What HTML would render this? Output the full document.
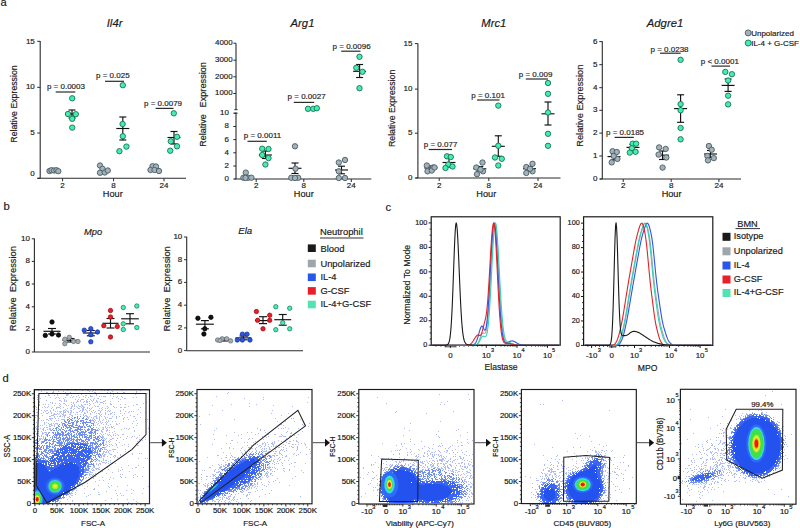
<!DOCTYPE html>
<html><head><meta charset="utf-8"><title>Figure</title>
<style>html,body{margin:0;padding:0;background:#fff;}body{width:800px;height:528px;overflow:hidden;}svg{display:block;}</style>
</head><body>
<svg width="800" height="528" viewBox="0 0 800 528" font-family="'Liberation Sans', Arial, Helvetica, sans-serif">
<style>text{stroke:#1a1a1a;stroke-width:0.18px;}</style>
<rect width="800" height="528" fill="#fff"/>
<text x="0.60" y="5.90" font-size="11.20" text-anchor="start" fill="#1a1a1a">a</text>
<text x="114.60" y="26.90" font-size="11.30" text-anchor="middle" fill="#1a1a1a" font-style="italic">Il4r</text>
<text transform="translate(13.40 104.00) rotate(-90)" x="0" y="3.15" font-size="8.75" text-anchor="middle" fill="#1a1a1a">Relative Expression</text>
<line x1="40.20" y1="41.00" x2="40.20" y2="178.30" stroke="#2a2a2a" stroke-width="1.10"/>
<line x1="37.50" y1="178.30" x2="186.00" y2="178.30" stroke="#2a2a2a" stroke-width="1.10"/>
<line x1="37.20" y1="41.30" x2="40.20" y2="41.30" stroke="#2a2a2a" stroke-width="1.00"/>
<text x="34.80" y="43.78" font-size="8.00" text-anchor="end" fill="#1a1a1a">15</text>
<line x1="37.20" y1="87.30" x2="40.20" y2="87.30" stroke="#2a2a2a" stroke-width="1.00"/>
<text x="34.80" y="89.28" font-size="8.00" text-anchor="end" fill="#1a1a1a">10</text>
<line x1="37.20" y1="133.00" x2="40.20" y2="133.00" stroke="#2a2a2a" stroke-width="1.00"/>
<text x="34.80" y="134.98" font-size="8.00" text-anchor="end" fill="#1a1a1a">5</text>
<line x1="37.20" y1="178.30" x2="40.20" y2="178.30" stroke="#2a2a2a" stroke-width="1.00"/>
<text x="34.80" y="175.78" font-size="8.00" text-anchor="end" fill="#1a1a1a">0</text>
<line x1="62.60" y1="178.30" x2="62.60" y2="181.30" stroke="#2a2a2a" stroke-width="1.00"/>
<text x="62.60" y="187.60" font-size="8.00" text-anchor="middle" fill="#1a1a1a">2</text>
<line x1="113.60" y1="178.30" x2="113.60" y2="181.30" stroke="#2a2a2a" stroke-width="1.00"/>
<text x="113.60" y="187.60" font-size="8.00" text-anchor="middle" fill="#1a1a1a">8</text>
<line x1="164.00" y1="178.30" x2="164.00" y2="181.30" stroke="#2a2a2a" stroke-width="1.00"/>
<text x="164.00" y="187.60" font-size="8.00" text-anchor="middle" fill="#1a1a1a">24</text>
<text x="112.80" y="196.80" font-size="9.20" text-anchor="middle" fill="#1a1a1a">Hour</text>
<circle cx="49.50" cy="171.00" r="2.70" fill="#a2b2ba" stroke="#45555d" stroke-width="0.85"/>
<circle cx="51.50" cy="170.20" r="2.70" fill="#a2b2ba" stroke="#45555d" stroke-width="0.85"/>
<circle cx="54.00" cy="170.50" r="2.70" fill="#a2b2ba" stroke="#45555d" stroke-width="0.85"/>
<circle cx="56.50" cy="170.20" r="2.70" fill="#a2b2ba" stroke="#45555d" stroke-width="0.85"/>
<circle cx="58.30" cy="171.20" r="2.70" fill="#a2b2ba" stroke="#45555d" stroke-width="0.85"/>
<circle cx="100.00" cy="165.50" r="2.70" fill="#a2b2ba" stroke="#45555d" stroke-width="0.85"/>
<circle cx="102.50" cy="168.80" r="2.70" fill="#a2b2ba" stroke="#45555d" stroke-width="0.85"/>
<circle cx="100.00" cy="172.80" r="2.70" fill="#a2b2ba" stroke="#45555d" stroke-width="0.85"/>
<circle cx="104.80" cy="172.50" r="2.70" fill="#a2b2ba" stroke="#45555d" stroke-width="0.85"/>
<circle cx="107.80" cy="170.50" r="2.70" fill="#a2b2ba" stroke="#45555d" stroke-width="0.85"/>
<circle cx="152.50" cy="166.20" r="2.70" fill="#a2b2ba" stroke="#45555d" stroke-width="0.85"/>
<circle cx="156.00" cy="166.50" r="2.70" fill="#a2b2ba" stroke="#45555d" stroke-width="0.85"/>
<circle cx="150.50" cy="170.00" r="2.70" fill="#a2b2ba" stroke="#45555d" stroke-width="0.85"/>
<circle cx="154.50" cy="170.00" r="2.70" fill="#a2b2ba" stroke="#45555d" stroke-width="0.85"/>
<circle cx="159.00" cy="171.00" r="2.70" fill="#a2b2ba" stroke="#45555d" stroke-width="0.85"/>
<line x1="65.50" y1="114.00" x2="78.50" y2="114.00" stroke="#111111" stroke-width="1.15"/>
<line x1="72.00" y1="110.00" x2="72.00" y2="118.00" stroke="#111111" stroke-width="1.15"/>
<line x1="68.50" y1="110.00" x2="75.50" y2="110.00" stroke="#111111" stroke-width="1.15"/>
<line x1="68.50" y1="118.00" x2="75.50" y2="118.00" stroke="#111111" stroke-width="1.15"/>
<circle cx="72.20" cy="98.30" r="2.70" fill="#44eeb2" stroke="#176a4c" stroke-width="0.85"/>
<circle cx="68.00" cy="114.00" r="2.70" fill="#44eeb2" stroke="#176a4c" stroke-width="0.85"/>
<circle cx="75.80" cy="114.20" r="2.70" fill="#44eeb2" stroke="#176a4c" stroke-width="0.85"/>
<circle cx="72.20" cy="118.80" r="2.70" fill="#44eeb2" stroke="#176a4c" stroke-width="0.85"/>
<circle cx="72.20" cy="127.60" r="2.70" fill="#44eeb2" stroke="#176a4c" stroke-width="0.85"/>
<line x1="116.30" y1="128.50" x2="129.30" y2="128.50" stroke="#111111" stroke-width="1.15"/>
<line x1="122.80" y1="117.00" x2="122.80" y2="140.00" stroke="#111111" stroke-width="1.15"/>
<line x1="119.30" y1="117.00" x2="126.30" y2="117.00" stroke="#111111" stroke-width="1.15"/>
<line x1="119.30" y1="140.00" x2="126.30" y2="140.00" stroke="#111111" stroke-width="1.15"/>
<circle cx="122.80" cy="85.20" r="2.70" fill="#44eeb2" stroke="#176a4c" stroke-width="0.85"/>
<circle cx="122.60" cy="124.00" r="2.70" fill="#44eeb2" stroke="#176a4c" stroke-width="0.85"/>
<circle cx="122.80" cy="136.20" r="2.70" fill="#44eeb2" stroke="#176a4c" stroke-width="0.85"/>
<circle cx="126.40" cy="146.60" r="2.70" fill="#44eeb2" stroke="#176a4c" stroke-width="0.85"/>
<circle cx="119.40" cy="151.20" r="2.70" fill="#44eeb2" stroke="#176a4c" stroke-width="0.85"/>
<line x1="167.50" y1="137.50" x2="180.50" y2="137.50" stroke="#111111" stroke-width="1.15"/>
<line x1="174.00" y1="131.50" x2="174.00" y2="144.00" stroke="#111111" stroke-width="1.15"/>
<line x1="170.50" y1="131.50" x2="177.50" y2="131.50" stroke="#111111" stroke-width="1.15"/>
<line x1="170.50" y1="144.00" x2="177.50" y2="144.00" stroke="#111111" stroke-width="1.15"/>
<circle cx="173.80" cy="113.30" r="2.70" fill="#44eeb2" stroke="#176a4c" stroke-width="0.85"/>
<circle cx="177.00" cy="136.80" r="2.70" fill="#44eeb2" stroke="#176a4c" stroke-width="0.85"/>
<circle cx="170.80" cy="141.30" r="2.70" fill="#44eeb2" stroke="#176a4c" stroke-width="0.85"/>
<circle cx="177.00" cy="146.30" r="2.70" fill="#44eeb2" stroke="#176a4c" stroke-width="0.85"/>
<circle cx="170.20" cy="150.70" r="2.70" fill="#44eeb2" stroke="#176a4c" stroke-width="0.85"/>
<text x="46.90" y="88.90" font-size="8.00" text-anchor="start" fill="#2a2a2a">p = 0.0003</text>
<line x1="55.70" y1="92.00" x2="75.30" y2="92.00" stroke="#2a2a2a" stroke-width="1.20"/>
<text x="96.00" y="78.20" font-size="8.00" text-anchor="start" fill="#2a2a2a">p = 0.025</text>
<line x1="105.00" y1="81.30" x2="124.00" y2="81.30" stroke="#2a2a2a" stroke-width="1.20"/>
<text x="144.00" y="105.60" font-size="8.00" text-anchor="start" fill="#2a2a2a">p = 0.0079</text>
<line x1="155.60" y1="108.40" x2="173.50" y2="108.40" stroke="#2a2a2a" stroke-width="1.20"/>
<text x="302.50" y="26.90" font-size="11.30" text-anchor="middle" fill="#1a1a1a" font-style="italic">Arg1</text>
<text transform="translate(203.00 84.75) rotate(-90)" x="0" y="3.31" font-size="9.20" text-anchor="middle" fill="#1a1a1a">Expression</text>
<text transform="translate(203.00 130.60) rotate(-90)" x="0" y="3.24" font-size="9.00" text-anchor="middle" fill="#1a1a1a">Relative</text>
<line x1="236.00" y1="43.20" x2="236.00" y2="109.60" stroke="#2a2a2a" stroke-width="1.10"/>
<line x1="234.30" y1="109.70" x2="237.60" y2="109.70" stroke="#2a2a2a" stroke-width="1.00"/>
<line x1="234.30" y1="113.20" x2="237.60" y2="113.20" stroke="#2a2a2a" stroke-width="1.00"/>
<line x1="236.00" y1="112.60" x2="236.00" y2="179.00" stroke="#2a2a2a" stroke-width="1.10"/>
<line x1="234.50" y1="179.00" x2="371.30" y2="179.00" stroke="#2a2a2a" stroke-width="1.10"/>
<line x1="233.40" y1="43.20" x2="236.00" y2="43.20" stroke="#2a2a2a" stroke-width="1.00"/>
<text x="232.60" y="45.14" font-size="7.90" text-anchor="end" fill="#1a1a1a">4000</text>
<line x1="233.40" y1="60.20" x2="236.00" y2="60.20" stroke="#2a2a2a" stroke-width="1.00"/>
<text x="232.60" y="62.14" font-size="7.90" text-anchor="end" fill="#1a1a1a">3000</text>
<line x1="233.40" y1="76.80" x2="236.00" y2="76.80" stroke="#2a2a2a" stroke-width="1.00"/>
<text x="232.60" y="78.74" font-size="7.90" text-anchor="end" fill="#1a1a1a">2000</text>
<line x1="233.40" y1="93.50" x2="236.00" y2="93.50" stroke="#2a2a2a" stroke-width="1.00"/>
<text x="232.60" y="95.44" font-size="7.90" text-anchor="end" fill="#1a1a1a">1000</text>
<line x1="233.30" y1="113.20" x2="236.00" y2="113.20" stroke="#2a2a2a" stroke-width="1.00"/>
<text x="228.80" y="115.14" font-size="7.90" text-anchor="end" fill="#1a1a1a">10</text>
<line x1="233.30" y1="126.50" x2="236.00" y2="126.50" stroke="#2a2a2a" stroke-width="1.00"/>
<text x="228.80" y="128.44" font-size="7.90" text-anchor="end" fill="#1a1a1a">8</text>
<line x1="233.30" y1="139.60" x2="236.00" y2="139.60" stroke="#2a2a2a" stroke-width="1.00"/>
<text x="228.80" y="141.54" font-size="7.90" text-anchor="end" fill="#1a1a1a">6</text>
<line x1="233.30" y1="152.80" x2="236.00" y2="152.80" stroke="#2a2a2a" stroke-width="1.00"/>
<text x="228.80" y="154.74" font-size="7.90" text-anchor="end" fill="#1a1a1a">4</text>
<line x1="233.30" y1="166.00" x2="236.00" y2="166.00" stroke="#2a2a2a" stroke-width="1.00"/>
<text x="228.80" y="167.94" font-size="7.90" text-anchor="end" fill="#1a1a1a">2</text>
<line x1="233.30" y1="179.00" x2="236.00" y2="179.00" stroke="#2a2a2a" stroke-width="1.00"/>
<text x="228.80" y="180.94" font-size="7.90" text-anchor="end" fill="#1a1a1a">0</text>
<line x1="256.20" y1="179.00" x2="256.20" y2="182.00" stroke="#2a2a2a" stroke-width="1.00"/>
<text x="256.20" y="187.60" font-size="8.00" text-anchor="middle" fill="#1a1a1a">2</text>
<line x1="303.80" y1="179.00" x2="303.80" y2="182.00" stroke="#2a2a2a" stroke-width="1.00"/>
<text x="303.80" y="187.60" font-size="8.00" text-anchor="middle" fill="#1a1a1a">8</text>
<line x1="351.30" y1="179.00" x2="351.30" y2="182.00" stroke="#2a2a2a" stroke-width="1.00"/>
<text x="351.30" y="187.60" font-size="8.00" text-anchor="middle" fill="#1a1a1a">24</text>
<text x="303.80" y="196.80" font-size="9.20" text-anchor="middle" fill="#1a1a1a">Hour</text>
<circle cx="245.80" cy="172.60" r="2.70" fill="#a2b2ba" stroke="#45555d" stroke-width="0.85"/>
<circle cx="243.40" cy="177.70" r="2.70" fill="#a2b2ba" stroke="#45555d" stroke-width="0.85"/>
<circle cx="248.00" cy="177.70" r="2.70" fill="#a2b2ba" stroke="#45555d" stroke-width="0.85"/>
<circle cx="251.40" cy="177.70" r="2.70" fill="#a2b2ba" stroke="#45555d" stroke-width="0.85"/>
<circle cx="245.50" cy="177.90" r="2.70" fill="#a2b2ba" stroke="#45555d" stroke-width="0.85"/>
<line x1="288.50" y1="168.30" x2="301.50" y2="168.30" stroke="#111111" stroke-width="1.15"/>
<line x1="295.00" y1="163.00" x2="295.00" y2="173.50" stroke="#111111" stroke-width="1.15"/>
<line x1="291.50" y1="163.00" x2="298.50" y2="163.00" stroke="#111111" stroke-width="1.15"/>
<line x1="291.50" y1="173.50" x2="298.50" y2="173.50" stroke="#111111" stroke-width="1.15"/>
<circle cx="295.00" cy="146.30" r="2.70" fill="#a2b2ba" stroke="#45555d" stroke-width="0.85"/>
<circle cx="295.50" cy="168.70" r="2.70" fill="#a2b2ba" stroke="#45555d" stroke-width="0.85"/>
<circle cx="291.30" cy="177.80" r="2.70" fill="#a2b2ba" stroke="#45555d" stroke-width="0.85"/>
<circle cx="298.20" cy="177.80" r="2.70" fill="#a2b2ba" stroke="#45555d" stroke-width="0.85"/>
<circle cx="295.00" cy="178.00" r="2.70" fill="#a2b2ba" stroke="#45555d" stroke-width="0.85"/>
<line x1="335.00" y1="170.00" x2="348.00" y2="170.00" stroke="#111111" stroke-width="1.15"/>
<line x1="341.50" y1="166.20" x2="341.50" y2="173.80" stroke="#111111" stroke-width="1.15"/>
<line x1="338.00" y1="166.20" x2="345.00" y2="166.20" stroke="#111111" stroke-width="1.15"/>
<line x1="338.00" y1="173.80" x2="345.00" y2="173.80" stroke="#111111" stroke-width="1.15"/>
<circle cx="338.80" cy="162.50" r="2.70" fill="#a2b2ba" stroke="#45555d" stroke-width="0.85"/>
<circle cx="345.00" cy="160.00" r="2.70" fill="#a2b2ba" stroke="#45555d" stroke-width="0.85"/>
<circle cx="338.80" cy="171.30" r="2.70" fill="#a2b2ba" stroke="#45555d" stroke-width="0.85"/>
<circle cx="338.80" cy="178.00" r="2.70" fill="#a2b2ba" stroke="#45555d" stroke-width="0.85"/>
<circle cx="345.00" cy="178.00" r="2.70" fill="#a2b2ba" stroke="#45555d" stroke-width="0.85"/>
<line x1="258.90" y1="155.00" x2="271.90" y2="155.00" stroke="#111111" stroke-width="1.15"/>
<line x1="265.40" y1="151.00" x2="265.40" y2="158.50" stroke="#111111" stroke-width="1.15"/>
<line x1="261.90" y1="151.00" x2="268.90" y2="151.00" stroke="#111111" stroke-width="1.15"/>
<line x1="261.90" y1="158.50" x2="268.90" y2="158.50" stroke="#111111" stroke-width="1.15"/>
<circle cx="262.20" cy="148.70" r="2.70" fill="#44eeb2" stroke="#176a4c" stroke-width="0.85"/>
<circle cx="268.50" cy="149.00" r="2.70" fill="#44eeb2" stroke="#176a4c" stroke-width="0.85"/>
<circle cx="262.20" cy="155.00" r="2.70" fill="#44eeb2" stroke="#176a4c" stroke-width="0.85"/>
<circle cx="268.50" cy="158.10" r="2.70" fill="#44eeb2" stroke="#176a4c" stroke-width="0.85"/>
<circle cx="265.40" cy="164.50" r="2.70" fill="#44eeb2" stroke="#176a4c" stroke-width="0.85"/>
<circle cx="308.00" cy="108.80" r="2.70" fill="#44eeb2" stroke="#176a4c" stroke-width="0.85"/>
<circle cx="313.20" cy="108.80" r="2.70" fill="#44eeb2" stroke="#176a4c" stroke-width="0.85"/>
<circle cx="316.80" cy="108.20" r="2.70" fill="#44eeb2" stroke="#176a4c" stroke-width="0.85"/>
<line x1="353.10" y1="71.30" x2="366.10" y2="71.30" stroke="#111111" stroke-width="1.15"/>
<line x1="359.60" y1="64.50" x2="359.60" y2="77.50" stroke="#111111" stroke-width="1.15"/>
<line x1="356.10" y1="64.50" x2="363.10" y2="64.50" stroke="#111111" stroke-width="1.15"/>
<line x1="356.10" y1="77.50" x2="363.10" y2="77.50" stroke="#111111" stroke-width="1.15"/>
<circle cx="359.50" cy="56.80" r="2.70" fill="#44eeb2" stroke="#176a4c" stroke-width="0.85"/>
<circle cx="356.30" cy="67.80" r="2.70" fill="#44eeb2" stroke="#176a4c" stroke-width="0.85"/>
<circle cx="362.50" cy="71.80" r="2.70" fill="#44eeb2" stroke="#176a4c" stroke-width="0.85"/>
<circle cx="359.50" cy="88.20" r="2.70" fill="#44eeb2" stroke="#176a4c" stroke-width="0.85"/>
<text x="243.80" y="137.70" font-size="8.00" text-anchor="start" fill="#2a2a2a">p = 0.0011</text>
<line x1="247.50" y1="141.30" x2="266.80" y2="141.30" stroke="#2a2a2a" stroke-width="1.20"/>
<text x="287.60" y="98.60" font-size="8.00" text-anchor="start" fill="#2a2a2a">p = 0.0027</text>
<line x1="293.80" y1="102.40" x2="314.20" y2="102.40" stroke="#2a2a2a" stroke-width="1.20"/>
<text x="332.60" y="49.10" font-size="8.00" text-anchor="start" fill="#2a2a2a">p = 0.0096</text>
<line x1="341.20" y1="51.20" x2="360.50" y2="51.20" stroke="#2a2a2a" stroke-width="1.20"/>
<text x="493.80" y="26.90" font-size="11.30" text-anchor="middle" fill="#1a1a1a" font-style="italic">Mrc1</text>
<text transform="translate(391.80 108.40) rotate(-90)" x="0" y="3.15" font-size="8.75" text-anchor="middle" fill="#1a1a1a">Relative Expression</text>
<line x1="417.90" y1="43.40" x2="417.90" y2="178.00" stroke="#2a2a2a" stroke-width="1.10"/>
<line x1="415.50" y1="178.00" x2="560.50" y2="178.00" stroke="#2a2a2a" stroke-width="1.10"/>
<line x1="414.90" y1="43.60" x2="417.90" y2="43.60" stroke="#2a2a2a" stroke-width="1.00"/>
<text x="412.50" y="45.58" font-size="8.00" text-anchor="end" fill="#1a1a1a">15</text>
<line x1="414.90" y1="89.10" x2="417.90" y2="89.10" stroke="#2a2a2a" stroke-width="1.00"/>
<text x="412.50" y="91.08" font-size="8.00" text-anchor="end" fill="#1a1a1a">10</text>
<line x1="414.90" y1="133.20" x2="417.90" y2="133.20" stroke="#2a2a2a" stroke-width="1.00"/>
<text x="412.50" y="135.18" font-size="8.00" text-anchor="end" fill="#1a1a1a">5</text>
<line x1="414.90" y1="178.00" x2="417.90" y2="178.00" stroke="#2a2a2a" stroke-width="1.00"/>
<text x="412.50" y="179.58" font-size="8.00" text-anchor="end" fill="#1a1a1a">0</text>
<line x1="439.20" y1="178.00" x2="439.20" y2="181.00" stroke="#2a2a2a" stroke-width="1.00"/>
<text x="439.20" y="187.60" font-size="8.00" text-anchor="middle" fill="#1a1a1a">2</text>
<line x1="488.80" y1="178.00" x2="488.80" y2="181.00" stroke="#2a2a2a" stroke-width="1.00"/>
<text x="488.80" y="187.60" font-size="8.00" text-anchor="middle" fill="#1a1a1a">8</text>
<line x1="538.00" y1="178.00" x2="538.00" y2="181.00" stroke="#2a2a2a" stroke-width="1.00"/>
<text x="538.00" y="187.60" font-size="8.00" text-anchor="middle" fill="#1a1a1a">24</text>
<text x="486.30" y="196.80" font-size="9.20" text-anchor="middle" fill="#1a1a1a">Hour</text>
<line x1="424.30" y1="168.00" x2="437.30" y2="168.00" stroke="#111111" stroke-width="1.15"/>
<line x1="430.80" y1="166.00" x2="430.80" y2="170.00" stroke="#111111" stroke-width="1.15"/>
<line x1="427.30" y1="166.00" x2="434.30" y2="166.00" stroke="#111111" stroke-width="1.15"/>
<line x1="427.30" y1="170.00" x2="434.30" y2="170.00" stroke="#111111" stroke-width="1.15"/>
<circle cx="426.80" cy="165.50" r="2.70" fill="#a2b2ba" stroke="#45555d" stroke-width="0.85"/>
<circle cx="433.00" cy="167.50" r="2.70" fill="#a2b2ba" stroke="#45555d" stroke-width="0.85"/>
<circle cx="427.50" cy="171.30" r="2.70" fill="#a2b2ba" stroke="#45555d" stroke-width="0.85"/>
<circle cx="431.80" cy="170.50" r="2.70" fill="#a2b2ba" stroke="#45555d" stroke-width="0.85"/>
<circle cx="434.60" cy="167.50" r="2.70" fill="#a2b2ba" stroke="#45555d" stroke-width="0.85"/>
<line x1="473.30" y1="168.80" x2="486.30" y2="168.80" stroke="#111111" stroke-width="1.15"/>
<line x1="479.80" y1="166.50" x2="479.80" y2="171.00" stroke="#111111" stroke-width="1.15"/>
<line x1="476.30" y1="166.50" x2="483.30" y2="166.50" stroke="#111111" stroke-width="1.15"/>
<line x1="476.30" y1="171.00" x2="483.30" y2="171.00" stroke="#111111" stroke-width="1.15"/>
<circle cx="476.30" cy="167.50" r="2.70" fill="#a2b2ba" stroke="#45555d" stroke-width="0.85"/>
<circle cx="482.50" cy="162.50" r="2.70" fill="#a2b2ba" stroke="#45555d" stroke-width="0.85"/>
<circle cx="477.00" cy="174.20" r="2.70" fill="#a2b2ba" stroke="#45555d" stroke-width="0.85"/>
<circle cx="483.00" cy="171.30" r="2.70" fill="#a2b2ba" stroke="#45555d" stroke-width="0.85"/>
<circle cx="480.50" cy="169.50" r="2.70" fill="#a2b2ba" stroke="#45555d" stroke-width="0.85"/>
<line x1="523.00" y1="168.70" x2="536.00" y2="168.70" stroke="#111111" stroke-width="1.15"/>
<line x1="529.50" y1="166.50" x2="529.50" y2="171.00" stroke="#111111" stroke-width="1.15"/>
<line x1="526.00" y1="166.50" x2="533.00" y2="166.50" stroke="#111111" stroke-width="1.15"/>
<line x1="526.00" y1="171.00" x2="533.00" y2="171.00" stroke="#111111" stroke-width="1.15"/>
<circle cx="526.30" cy="167.00" r="2.70" fill="#a2b2ba" stroke="#45555d" stroke-width="0.85"/>
<circle cx="532.50" cy="163.80" r="2.70" fill="#a2b2ba" stroke="#45555d" stroke-width="0.85"/>
<circle cx="526.30" cy="173.00" r="2.70" fill="#a2b2ba" stroke="#45555d" stroke-width="0.85"/>
<circle cx="532.50" cy="171.30" r="2.70" fill="#a2b2ba" stroke="#45555d" stroke-width="0.85"/>
<circle cx="530.00" cy="168.80" r="2.70" fill="#a2b2ba" stroke="#45555d" stroke-width="0.85"/>
<line x1="442.50" y1="162.50" x2="455.50" y2="162.50" stroke="#111111" stroke-width="1.15"/>
<line x1="449.00" y1="158.00" x2="449.00" y2="167.00" stroke="#111111" stroke-width="1.15"/>
<line x1="445.50" y1="158.00" x2="452.50" y2="158.00" stroke="#111111" stroke-width="1.15"/>
<line x1="445.50" y1="167.00" x2="452.50" y2="167.00" stroke="#111111" stroke-width="1.15"/>
<circle cx="447.00" cy="156.30" r="2.70" fill="#44eeb2" stroke="#176a4c" stroke-width="0.85"/>
<circle cx="450.80" cy="157.00" r="2.70" fill="#44eeb2" stroke="#176a4c" stroke-width="0.85"/>
<circle cx="448.30" cy="164.50" r="2.70" fill="#44eeb2" stroke="#176a4c" stroke-width="0.85"/>
<circle cx="445.50" cy="168.00" r="2.70" fill="#44eeb2" stroke="#176a4c" stroke-width="0.85"/>
<circle cx="452.50" cy="166.50" r="2.70" fill="#44eeb2" stroke="#176a4c" stroke-width="0.85"/>
<line x1="491.80" y1="146.30" x2="504.80" y2="146.30" stroke="#111111" stroke-width="1.15"/>
<line x1="498.30" y1="135.80" x2="498.30" y2="156.30" stroke="#111111" stroke-width="1.15"/>
<line x1="494.80" y1="135.80" x2="501.80" y2="135.80" stroke="#111111" stroke-width="1.15"/>
<line x1="494.80" y1="156.30" x2="501.80" y2="156.30" stroke="#111111" stroke-width="1.15"/>
<circle cx="498.30" cy="105.60" r="2.70" fill="#44eeb2" stroke="#176a4c" stroke-width="0.85"/>
<circle cx="498.30" cy="145.80" r="2.70" fill="#44eeb2" stroke="#176a4c" stroke-width="0.85"/>
<circle cx="495.00" cy="157.50" r="2.70" fill="#44eeb2" stroke="#176a4c" stroke-width="0.85"/>
<circle cx="501.80" cy="158.80" r="2.70" fill="#44eeb2" stroke="#176a4c" stroke-width="0.85"/>
<circle cx="498.30" cy="165.50" r="2.70" fill="#44eeb2" stroke="#176a4c" stroke-width="0.85"/>
<line x1="541.50" y1="113.80" x2="554.50" y2="113.80" stroke="#111111" stroke-width="1.15"/>
<line x1="548.00" y1="102.00" x2="548.00" y2="125.00" stroke="#111111" stroke-width="1.15"/>
<line x1="544.50" y1="102.00" x2="551.50" y2="102.00" stroke="#111111" stroke-width="1.15"/>
<line x1="544.50" y1="125.00" x2="551.50" y2="125.00" stroke="#111111" stroke-width="1.15"/>
<circle cx="548.00" cy="83.00" r="2.70" fill="#44eeb2" stroke="#176a4c" stroke-width="0.85"/>
<circle cx="548.00" cy="93.80" r="2.70" fill="#44eeb2" stroke="#176a4c" stroke-width="0.85"/>
<circle cx="548.00" cy="112.50" r="2.70" fill="#44eeb2" stroke="#176a4c" stroke-width="0.85"/>
<circle cx="548.00" cy="133.80" r="2.70" fill="#44eeb2" stroke="#176a4c" stroke-width="0.85"/>
<circle cx="548.00" cy="145.80" r="2.70" fill="#44eeb2" stroke="#176a4c" stroke-width="0.85"/>
<text x="423.80" y="147.40" font-size="8.00" text-anchor="start" fill="#2a2a2a">p = 0.077</text>
<line x1="428.80" y1="149.50" x2="452.00" y2="149.50" stroke="#2a2a2a" stroke-width="1.20"/>
<text x="471.30" y="97.90" font-size="8.00" text-anchor="start" fill="#2a2a2a">p = 0.101</text>
<line x1="477.00" y1="100.00" x2="499.50" y2="100.00" stroke="#2a2a2a" stroke-width="1.20"/>
<text x="518.80" y="76.90" font-size="8.00" text-anchor="start" fill="#2a2a2a">p = 0.009</text>
<line x1="525.80" y1="79.00" x2="548.00" y2="79.00" stroke="#2a2a2a" stroke-width="1.20"/>
<text x="665.00" y="26.90" font-size="11.30" text-anchor="middle" fill="#1a1a1a" font-style="italic">Adgre1</text>
<text transform="translate(579.80 105.70) rotate(-90)" x="0" y="3.35" font-size="9.30" text-anchor="middle" fill="#1a1a1a">Relative Expression</text>
<line x1="602.30" y1="41.30" x2="602.30" y2="179.00" stroke="#2a2a2a" stroke-width="1.10"/>
<line x1="600.00" y1="179.00" x2="741.00" y2="179.00" stroke="#2a2a2a" stroke-width="1.10"/>
<line x1="599.30" y1="41.60" x2="602.30" y2="41.60" stroke="#2a2a2a" stroke-width="1.00"/>
<text x="597.50" y="43.58" font-size="8.00" text-anchor="end" fill="#1a1a1a">6</text>
<line x1="599.30" y1="64.70" x2="602.30" y2="64.70" stroke="#2a2a2a" stroke-width="1.00"/>
<text x="597.50" y="66.68" font-size="8.00" text-anchor="end" fill="#1a1a1a">5</text>
<line x1="599.30" y1="87.70" x2="602.30" y2="87.70" stroke="#2a2a2a" stroke-width="1.00"/>
<text x="597.50" y="89.68" font-size="8.00" text-anchor="end" fill="#1a1a1a">4</text>
<line x1="599.30" y1="110.30" x2="602.30" y2="110.30" stroke="#2a2a2a" stroke-width="1.00"/>
<text x="597.50" y="112.28" font-size="8.00" text-anchor="end" fill="#1a1a1a">3</text>
<line x1="599.30" y1="133.10" x2="602.30" y2="133.10" stroke="#2a2a2a" stroke-width="1.00"/>
<text x="597.50" y="135.08" font-size="8.00" text-anchor="end" fill="#1a1a1a">2</text>
<line x1="599.30" y1="156.00" x2="602.30" y2="156.00" stroke="#2a2a2a" stroke-width="1.00"/>
<text x="597.50" y="157.98" font-size="8.00" text-anchor="end" fill="#1a1a1a">1</text>
<line x1="599.30" y1="179.00" x2="602.30" y2="179.00" stroke="#2a2a2a" stroke-width="1.00"/>
<text x="597.50" y="180.58" font-size="8.00" text-anchor="end" fill="#1a1a1a">0</text>
<line x1="623.20" y1="179.00" x2="623.20" y2="182.00" stroke="#2a2a2a" stroke-width="1.00"/>
<text x="623.20" y="188.40" font-size="8.00" text-anchor="middle" fill="#1a1a1a">2</text>
<line x1="671.20" y1="179.00" x2="671.20" y2="182.00" stroke="#2a2a2a" stroke-width="1.00"/>
<text x="671.20" y="188.40" font-size="8.00" text-anchor="middle" fill="#1a1a1a">8</text>
<line x1="718.90" y1="179.00" x2="718.90" y2="182.00" stroke="#2a2a2a" stroke-width="1.00"/>
<text x="718.90" y="188.40" font-size="8.00" text-anchor="middle" fill="#1a1a1a">24</text>
<text x="671.60" y="196.80" font-size="9.20" text-anchor="middle" fill="#1a1a1a">Hour</text>
<line x1="607.50" y1="156.60" x2="620.50" y2="156.60" stroke="#111111" stroke-width="1.15"/>
<line x1="614.00" y1="153.00" x2="614.00" y2="160.00" stroke="#111111" stroke-width="1.15"/>
<line x1="610.50" y1="153.00" x2="617.50" y2="153.00" stroke="#111111" stroke-width="1.15"/>
<line x1="610.50" y1="160.00" x2="617.50" y2="160.00" stroke="#111111" stroke-width="1.15"/>
<circle cx="612.60" cy="151.20" r="2.70" fill="#a2b2ba" stroke="#45555d" stroke-width="0.85"/>
<circle cx="616.80" cy="152.00" r="2.70" fill="#a2b2ba" stroke="#45555d" stroke-width="0.85"/>
<circle cx="611.70" cy="162.40" r="2.70" fill="#a2b2ba" stroke="#45555d" stroke-width="0.85"/>
<circle cx="617.40" cy="158.90" r="2.70" fill="#a2b2ba" stroke="#45555d" stroke-width="0.85"/>
<circle cx="613.70" cy="156.00" r="2.70" fill="#a2b2ba" stroke="#45555d" stroke-width="0.85"/>
<line x1="656.00" y1="155.20" x2="669.00" y2="155.20" stroke="#111111" stroke-width="1.15"/>
<line x1="662.50" y1="151.00" x2="662.50" y2="159.50" stroke="#111111" stroke-width="1.15"/>
<line x1="659.00" y1="151.00" x2="666.00" y2="151.00" stroke="#111111" stroke-width="1.15"/>
<line x1="659.00" y1="159.50" x2="666.00" y2="159.50" stroke="#111111" stroke-width="1.15"/>
<circle cx="659.10" cy="147.40" r="2.70" fill="#a2b2ba" stroke="#45555d" stroke-width="0.85"/>
<circle cx="665.70" cy="148.90" r="2.70" fill="#a2b2ba" stroke="#45555d" stroke-width="0.85"/>
<circle cx="658.60" cy="154.60" r="2.70" fill="#a2b2ba" stroke="#45555d" stroke-width="0.85"/>
<circle cx="666.30" cy="157.50" r="2.70" fill="#a2b2ba" stroke="#45555d" stroke-width="0.85"/>
<circle cx="662.60" cy="167.60" r="2.70" fill="#a2b2ba" stroke="#45555d" stroke-width="0.85"/>
<line x1="704.00" y1="154.00" x2="717.00" y2="154.00" stroke="#111111" stroke-width="1.15"/>
<line x1="710.50" y1="150.50" x2="710.50" y2="157.50" stroke="#111111" stroke-width="1.15"/>
<line x1="707.00" y1="150.50" x2="714.00" y2="150.50" stroke="#111111" stroke-width="1.15"/>
<line x1="707.00" y1="157.50" x2="714.00" y2="157.50" stroke="#111111" stroke-width="1.15"/>
<circle cx="708.90" cy="146.00" r="2.70" fill="#a2b2ba" stroke="#45555d" stroke-width="0.85"/>
<circle cx="711.70" cy="149.70" r="2.70" fill="#a2b2ba" stroke="#45555d" stroke-width="0.85"/>
<circle cx="707.40" cy="156.00" r="2.70" fill="#a2b2ba" stroke="#45555d" stroke-width="0.85"/>
<circle cx="713.80" cy="158.10" r="2.70" fill="#a2b2ba" stroke="#45555d" stroke-width="0.85"/>
<circle cx="708.00" cy="160.40" r="2.70" fill="#a2b2ba" stroke="#45555d" stroke-width="0.85"/>
<line x1="626.50" y1="147.40" x2="639.50" y2="147.40" stroke="#111111" stroke-width="1.15"/>
<line x1="633.00" y1="144.50" x2="633.00" y2="150.50" stroke="#111111" stroke-width="1.15"/>
<line x1="629.50" y1="144.50" x2="636.50" y2="144.50" stroke="#111111" stroke-width="1.15"/>
<line x1="629.50" y1="150.50" x2="636.50" y2="150.50" stroke="#111111" stroke-width="1.15"/>
<circle cx="632.70" cy="143.70" r="2.70" fill="#44eeb2" stroke="#176a4c" stroke-width="0.85"/>
<circle cx="636.10" cy="143.70" r="2.70" fill="#44eeb2" stroke="#176a4c" stroke-width="0.85"/>
<circle cx="631.80" cy="148.30" r="2.70" fill="#44eeb2" stroke="#176a4c" stroke-width="0.85"/>
<circle cx="629.80" cy="152.60" r="2.70" fill="#44eeb2" stroke="#176a4c" stroke-width="0.85"/>
<circle cx="635.60" cy="151.80" r="2.70" fill="#44eeb2" stroke="#176a4c" stroke-width="0.85"/>
<line x1="674.10" y1="108.60" x2="687.10" y2="108.60" stroke="#111111" stroke-width="1.15"/>
<line x1="680.60" y1="94.80" x2="680.60" y2="122.30" stroke="#111111" stroke-width="1.15"/>
<line x1="677.10" y1="94.80" x2="684.10" y2="94.80" stroke="#111111" stroke-width="1.15"/>
<line x1="677.10" y1="122.30" x2="684.10" y2="122.30" stroke="#111111" stroke-width="1.15"/>
<circle cx="680.60" cy="59.80" r="2.70" fill="#44eeb2" stroke="#176a4c" stroke-width="0.85"/>
<circle cx="680.60" cy="104.10" r="2.70" fill="#44eeb2" stroke="#176a4c" stroke-width="0.85"/>
<circle cx="680.60" cy="110.20" r="2.70" fill="#44eeb2" stroke="#176a4c" stroke-width="0.85"/>
<circle cx="680.60" cy="128.00" r="2.70" fill="#44eeb2" stroke="#176a4c" stroke-width="0.85"/>
<circle cx="680.60" cy="139.30" r="2.70" fill="#44eeb2" stroke="#176a4c" stroke-width="0.85"/>
<line x1="721.60" y1="85.40" x2="734.60" y2="85.40" stroke="#111111" stroke-width="1.15"/>
<line x1="728.10" y1="79.00" x2="728.10" y2="91.40" stroke="#111111" stroke-width="1.15"/>
<line x1="724.60" y1="79.00" x2="731.60" y2="79.00" stroke="#111111" stroke-width="1.15"/>
<line x1="724.60" y1="91.40" x2="731.60" y2="91.40" stroke="#111111" stroke-width="1.15"/>
<circle cx="725.30" cy="71.90" r="2.70" fill="#44eeb2" stroke="#176a4c" stroke-width="0.85"/>
<circle cx="731.90" cy="74.20" r="2.70" fill="#44eeb2" stroke="#176a4c" stroke-width="0.85"/>
<circle cx="728.10" cy="80.50" r="2.70" fill="#44eeb2" stroke="#176a4c" stroke-width="0.85"/>
<circle cx="728.10" cy="95.70" r="2.70" fill="#44eeb2" stroke="#176a4c" stroke-width="0.85"/>
<circle cx="728.10" cy="104.40" r="2.70" fill="#44eeb2" stroke="#176a4c" stroke-width="0.85"/>
<text x="606.00" y="134.50" font-size="8.00" text-anchor="start" fill="#2a2a2a">p = 0.0185</text>
<line x1="614.60" y1="137.40" x2="633.80" y2="137.40" stroke="#2a2a2a" stroke-width="1.20"/>
<text x="650.50" y="52.40" font-size="8.00" text-anchor="start" fill="#2a2a2a">p = 0.0238</text>
<line x1="660.00" y1="53.20" x2="680.70" y2="53.20" stroke="#2a2a2a" stroke-width="1.20"/>
<text x="700.80" y="63.90" font-size="8.00" text-anchor="start" fill="#2a2a2a">p &lt; 0.0001</text>
<line x1="711.50" y1="66.10" x2="730.10" y2="66.10" stroke="#2a2a2a" stroke-width="1.20"/>
<circle cx="748.20" cy="32.90" r="3.00" fill="#a2b2ba" stroke="#45555d" stroke-width="0.85"/>
<text x="751.20" y="35.60" font-size="8.00" text-anchor="start" fill="#1a1a1a">Unpolarized</text>
<circle cx="748.20" cy="43.00" r="3.00" fill="#44eeb2" stroke="#176a4c" stroke-width="0.85"/>
<text x="751.20" y="45.80" font-size="8.00" text-anchor="start" fill="#1a1a1a">IL-4 + G-CSF</text>
<text x="3.40" y="210.40" font-size="11.20" text-anchor="start" fill="#1a1a1a">b</text>
<text x="93.10" y="235.40" font-size="9.30" text-anchor="middle" fill="#1a1a1a" font-style="italic">Mpo</text>
<text transform="translate(12.40 288.60) rotate(-90)" x="0" y="3.37" font-size="9.36" text-anchor="middle" fill="#1a1a1a">Relative&#160;&#160;Expression</text>
<line x1="34.40" y1="238.50" x2="34.40" y2="352.00" stroke="#2a2a2a" stroke-width="1.10"/>
<line x1="34.40" y1="352.00" x2="150.00" y2="352.00" stroke="#2a2a2a" stroke-width="1.10"/>
<line x1="31.80" y1="238.80" x2="34.40" y2="238.80" stroke="#2a2a2a" stroke-width="1.00"/>
<text x="30.00" y="240.78" font-size="8.00" text-anchor="end" fill="#1a1a1a">10</text>
<line x1="31.80" y1="261.40" x2="34.40" y2="261.40" stroke="#2a2a2a" stroke-width="1.00"/>
<text x="30.00" y="263.38" font-size="8.00" text-anchor="end" fill="#1a1a1a">8</text>
<line x1="31.80" y1="284.00" x2="34.40" y2="284.00" stroke="#2a2a2a" stroke-width="1.00"/>
<text x="30.00" y="285.98" font-size="8.00" text-anchor="end" fill="#1a1a1a">6</text>
<line x1="31.80" y1="306.80" x2="34.40" y2="306.80" stroke="#2a2a2a" stroke-width="1.00"/>
<text x="30.00" y="308.78" font-size="8.00" text-anchor="end" fill="#1a1a1a">4</text>
<line x1="31.80" y1="329.40" x2="34.40" y2="329.40" stroke="#2a2a2a" stroke-width="1.00"/>
<text x="30.00" y="331.38" font-size="8.00" text-anchor="end" fill="#1a1a1a">2</text>
<line x1="31.80" y1="352.00" x2="34.40" y2="352.00" stroke="#2a2a2a" stroke-width="1.00"/>
<text x="30.00" y="353.98" font-size="8.00" text-anchor="end" fill="#1a1a1a">0</text>
<line x1="43.50" y1="331.30" x2="60.50" y2="331.30" stroke="#111111" stroke-width="1.15"/>
<line x1="52.00" y1="328.50" x2="52.00" y2="334.00" stroke="#111111" stroke-width="1.15"/>
<line x1="48.00" y1="328.50" x2="56.00" y2="328.50" stroke="#111111" stroke-width="1.15"/>
<line x1="48.00" y1="334.00" x2="56.00" y2="334.00" stroke="#111111" stroke-width="1.15"/>
<circle cx="52.00" cy="322.00" r="2.20" fill="#111111" stroke="#000000" stroke-width="0.75"/>
<circle cx="45.30" cy="335.40" r="2.20" fill="#111111" stroke="#000000" stroke-width="0.75"/>
<circle cx="52.00" cy="334.00" r="2.20" fill="#111111" stroke="#000000" stroke-width="0.75"/>
<circle cx="58.50" cy="335.00" r="2.20" fill="#111111" stroke="#000000" stroke-width="0.75"/>
<line x1="62.50" y1="340.30" x2="78.50" y2="340.30" stroke="#111111" stroke-width="1.15"/>
<line x1="70.50" y1="338.50" x2="70.50" y2="342.00" stroke="#111111" stroke-width="1.15"/>
<line x1="66.50" y1="338.50" x2="74.50" y2="338.50" stroke="#111111" stroke-width="1.15"/>
<line x1="66.50" y1="342.00" x2="74.50" y2="342.00" stroke="#111111" stroke-width="1.15"/>
<circle cx="64.80" cy="339.20" r="2.20" fill="#a4adb2" stroke="#6a7479" stroke-width="0.75"/>
<circle cx="69.30" cy="337.30" r="2.20" fill="#a4adb2" stroke="#6a7479" stroke-width="0.75"/>
<circle cx="64.80" cy="343.70" r="2.20" fill="#a4adb2" stroke="#6a7479" stroke-width="0.75"/>
<circle cx="73.50" cy="341.50" r="2.20" fill="#a4adb2" stroke="#6a7479" stroke-width="0.75"/>
<circle cx="78.00" cy="341.50" r="2.20" fill="#a4adb2" stroke="#6a7479" stroke-width="0.75"/>
<line x1="82.80" y1="333.00" x2="98.80" y2="333.00" stroke="#111111" stroke-width="1.15"/>
<line x1="90.80" y1="330.50" x2="90.80" y2="335.80" stroke="#111111" stroke-width="1.15"/>
<line x1="86.80" y1="330.50" x2="94.80" y2="330.50" stroke="#111111" stroke-width="1.15"/>
<line x1="86.80" y1="335.80" x2="94.80" y2="335.80" stroke="#111111" stroke-width="1.15"/>
<circle cx="84.30" cy="330.20" r="2.20" fill="#2a58e6" stroke="#15309a" stroke-width="0.75"/>
<circle cx="90.80" cy="328.70" r="2.20" fill="#2a58e6" stroke="#15309a" stroke-width="0.75"/>
<circle cx="97.50" cy="332.00" r="2.20" fill="#2a58e6" stroke="#15309a" stroke-width="0.75"/>
<circle cx="90.80" cy="334.70" r="2.20" fill="#2a58e6" stroke="#15309a" stroke-width="0.75"/>
<circle cx="90.80" cy="341.80" r="2.20" fill="#2a58e6" stroke="#15309a" stroke-width="0.75"/>
<line x1="102.50" y1="323.30" x2="118.50" y2="323.30" stroke="#111111" stroke-width="1.15"/>
<line x1="110.50" y1="318.50" x2="110.50" y2="328.00" stroke="#111111" stroke-width="1.15"/>
<line x1="106.50" y1="318.50" x2="114.50" y2="318.50" stroke="#111111" stroke-width="1.15"/>
<line x1="106.50" y1="328.00" x2="114.50" y2="328.00" stroke="#111111" stroke-width="1.15"/>
<circle cx="110.50" cy="310.50" r="2.20" fill="#ea1d2a" stroke="#9a0d16" stroke-width="0.75"/>
<circle cx="110.50" cy="317.00" r="2.20" fill="#ea1d2a" stroke="#9a0d16" stroke-width="0.75"/>
<circle cx="103.80" cy="325.70" r="2.20" fill="#ea1d2a" stroke="#9a0d16" stroke-width="0.75"/>
<circle cx="117.30" cy="326.50" r="2.20" fill="#ea1d2a" stroke="#9a0d16" stroke-width="0.75"/>
<circle cx="110.50" cy="337.00" r="2.20" fill="#ea1d2a" stroke="#9a0d16" stroke-width="0.75"/>
<line x1="121.20" y1="318.80" x2="138.80" y2="318.80" stroke="#111111" stroke-width="1.15"/>
<line x1="130.00" y1="313.70" x2="130.00" y2="323.80" stroke="#111111" stroke-width="1.15"/>
<line x1="126.00" y1="313.70" x2="134.00" y2="313.70" stroke="#111111" stroke-width="1.15"/>
<line x1="126.00" y1="323.80" x2="134.00" y2="323.80" stroke="#111111" stroke-width="1.15"/>
<circle cx="123.30" cy="307.50" r="2.20" fill="#46eeb4" stroke="#1b7a56" stroke-width="0.75"/>
<circle cx="136.80" cy="306.00" r="2.20" fill="#46eeb4" stroke="#1b7a56" stroke-width="0.75"/>
<circle cx="123.30" cy="323.80" r="2.20" fill="#46eeb4" stroke="#1b7a56" stroke-width="0.75"/>
<circle cx="123.30" cy="329.50" r="2.20" fill="#46eeb4" stroke="#1b7a56" stroke-width="0.75"/>
<circle cx="136.80" cy="327.50" r="2.20" fill="#46eeb4" stroke="#1b7a56" stroke-width="0.75"/>
<text x="245.20" y="233.50" font-size="9.60" text-anchor="middle" fill="#1a1a1a" font-style="italic">Ela</text>
<text transform="translate(166.70 288.80) rotate(-90)" x="0" y="3.37" font-size="9.36" text-anchor="middle" fill="#1a1a1a">Relative&#160;&#160;Expression</text>
<line x1="186.70" y1="236.80" x2="186.70" y2="350.80" stroke="#2a2a2a" stroke-width="1.10"/>
<line x1="186.70" y1="350.80" x2="303.00" y2="350.80" stroke="#2a2a2a" stroke-width="1.10"/>
<line x1="184.10" y1="237.00" x2="186.70" y2="237.00" stroke="#2a2a2a" stroke-width="1.00"/>
<text x="182.30" y="238.98" font-size="8.00" text-anchor="end" fill="#1a1a1a">10</text>
<line x1="184.10" y1="259.70" x2="186.70" y2="259.70" stroke="#2a2a2a" stroke-width="1.00"/>
<text x="182.30" y="261.68" font-size="8.00" text-anchor="end" fill="#1a1a1a">8</text>
<line x1="184.10" y1="282.40" x2="186.70" y2="282.40" stroke="#2a2a2a" stroke-width="1.00"/>
<text x="182.30" y="284.38" font-size="8.00" text-anchor="end" fill="#1a1a1a">6</text>
<line x1="184.10" y1="305.20" x2="186.70" y2="305.20" stroke="#2a2a2a" stroke-width="1.00"/>
<text x="182.30" y="307.18" font-size="8.00" text-anchor="end" fill="#1a1a1a">4</text>
<line x1="184.10" y1="327.90" x2="186.70" y2="327.90" stroke="#2a2a2a" stroke-width="1.00"/>
<text x="182.30" y="329.88" font-size="8.00" text-anchor="end" fill="#1a1a1a">2</text>
<line x1="184.10" y1="350.60" x2="186.70" y2="350.60" stroke="#2a2a2a" stroke-width="1.00"/>
<text x="182.30" y="352.58" font-size="8.00" text-anchor="end" fill="#1a1a1a">0</text>
<line x1="195.90" y1="324.20" x2="213.90" y2="324.20" stroke="#111111" stroke-width="1.15"/>
<line x1="204.90" y1="320.60" x2="204.90" y2="328.80" stroke="#111111" stroke-width="1.15"/>
<line x1="200.90" y1="320.60" x2="208.90" y2="320.60" stroke="#111111" stroke-width="1.15"/>
<line x1="200.90" y1="328.80" x2="208.90" y2="328.80" stroke="#111111" stroke-width="1.15"/>
<circle cx="197.90" cy="318.20" r="2.20" fill="#111111" stroke="#000000" stroke-width="0.75"/>
<circle cx="210.90" cy="317.30" r="2.20" fill="#111111" stroke="#000000" stroke-width="0.75"/>
<circle cx="204.80" cy="328.80" r="2.20" fill="#111111" stroke="#000000" stroke-width="0.75"/>
<circle cx="203.90" cy="334.00" r="2.20" fill="#111111" stroke="#000000" stroke-width="0.75"/>
<line x1="216.00" y1="339.50" x2="232.00" y2="339.50" stroke="#111111" stroke-width="1.15"/>
<line x1="224.00" y1="338.00" x2="224.00" y2="341.00" stroke="#111111" stroke-width="1.15"/>
<line x1="220.00" y1="338.00" x2="228.00" y2="338.00" stroke="#111111" stroke-width="1.15"/>
<line x1="220.00" y1="341.00" x2="228.00" y2="341.00" stroke="#111111" stroke-width="1.15"/>
<circle cx="217.60" cy="340.00" r="2.20" fill="#a4adb2" stroke="#6a7479" stroke-width="0.75"/>
<circle cx="222.10" cy="338.80" r="2.20" fill="#a4adb2" stroke="#6a7479" stroke-width="0.75"/>
<circle cx="226.70" cy="338.80" r="2.20" fill="#a4adb2" stroke="#6a7479" stroke-width="0.75"/>
<circle cx="230.60" cy="340.90" r="2.20" fill="#a4adb2" stroke="#6a7479" stroke-width="0.75"/>
<circle cx="220.00" cy="340.50" r="2.20" fill="#a4adb2" stroke="#6a7479" stroke-width="0.75"/>
<line x1="235.50" y1="337.90" x2="251.50" y2="337.90" stroke="#111111" stroke-width="1.15"/>
<line x1="243.50" y1="336.00" x2="243.50" y2="339.80" stroke="#111111" stroke-width="1.15"/>
<line x1="239.50" y1="336.00" x2="247.50" y2="336.00" stroke="#111111" stroke-width="1.15"/>
<line x1="239.50" y1="339.80" x2="247.50" y2="339.80" stroke="#111111" stroke-width="1.15"/>
<circle cx="237.30" cy="340.00" r="2.20" fill="#2a58e6" stroke="#15309a" stroke-width="0.75"/>
<circle cx="242.40" cy="334.20" r="2.20" fill="#2a58e6" stroke="#15309a" stroke-width="0.75"/>
<circle cx="247.00" cy="334.20" r="2.20" fill="#2a58e6" stroke="#15309a" stroke-width="0.75"/>
<circle cx="242.40" cy="340.00" r="2.20" fill="#2a58e6" stroke="#15309a" stroke-width="0.75"/>
<circle cx="250.00" cy="340.00" r="2.20" fill="#2a58e6" stroke="#15309a" stroke-width="0.75"/>
<line x1="255.00" y1="320.60" x2="271.00" y2="320.60" stroke="#111111" stroke-width="1.15"/>
<line x1="263.00" y1="316.70" x2="263.00" y2="323.60" stroke="#111111" stroke-width="1.15"/>
<line x1="259.00" y1="316.70" x2="267.00" y2="316.70" stroke="#111111" stroke-width="1.15"/>
<line x1="259.00" y1="323.60" x2="267.00" y2="323.60" stroke="#111111" stroke-width="1.15"/>
<circle cx="256.40" cy="311.50" r="2.20" fill="#ea1d2a" stroke="#9a0d16" stroke-width="0.75"/>
<circle cx="269.70" cy="315.20" r="2.20" fill="#ea1d2a" stroke="#9a0d16" stroke-width="0.75"/>
<circle cx="257.60" cy="320.30" r="2.20" fill="#ea1d2a" stroke="#9a0d16" stroke-width="0.75"/>
<circle cx="269.70" cy="320.30" r="2.20" fill="#ea1d2a" stroke="#9a0d16" stroke-width="0.75"/>
<circle cx="263.00" cy="328.80" r="2.20" fill="#ea1d2a" stroke="#9a0d16" stroke-width="0.75"/>
<line x1="274.20" y1="319.70" x2="291.20" y2="319.70" stroke="#111111" stroke-width="1.15"/>
<line x1="282.70" y1="314.50" x2="282.70" y2="325.20" stroke="#111111" stroke-width="1.15"/>
<line x1="278.70" y1="314.50" x2="286.70" y2="314.50" stroke="#111111" stroke-width="1.15"/>
<line x1="278.70" y1="325.20" x2="286.70" y2="325.20" stroke="#111111" stroke-width="1.15"/>
<circle cx="275.80" cy="306.70" r="2.20" fill="#46eeb4" stroke="#1b7a56" stroke-width="0.75"/>
<circle cx="289.70" cy="308.20" r="2.20" fill="#46eeb4" stroke="#1b7a56" stroke-width="0.75"/>
<circle cx="282.70" cy="322.70" r="2.20" fill="#46eeb4" stroke="#1b7a56" stroke-width="0.75"/>
<circle cx="275.80" cy="329.70" r="2.20" fill="#46eeb4" stroke="#1b7a56" stroke-width="0.75"/>
<circle cx="289.70" cy="328.80" r="2.20" fill="#46eeb4" stroke="#1b7a56" stroke-width="0.75"/>
<text x="320.00" y="234.90" font-size="9.40" text-anchor="start" fill="#1a1a1a">Neutrophil</text>
<line x1="320.00" y1="238.00" x2="363.50" y2="238.00" stroke="#333" stroke-width="1.00"/>
<rect x="307.8" y="244.40" width="8.0" height="7.6" fill="#1a1a1a"/>
<text x="320.40" y="251.88" font-size="9.40" text-anchor="start" fill="#1a1a1a">Blood</text>
<rect x="307.8" y="259.70" width="8.0" height="7.6" fill="#9ea6ab"/>
<text x="320.40" y="267.08" font-size="9.40" text-anchor="start" fill="#1a1a1a">Unpolarized</text>
<rect x="307.8" y="273.50" width="8.0" height="7.6" fill="#2a58e6"/>
<text x="320.40" y="280.48" font-size="9.40" text-anchor="start" fill="#1a1a1a">IL-4</text>
<rect x="307.8" y="287.10" width="8.0" height="7.6" fill="#ea1d2a"/>
<text x="320.40" y="293.98" font-size="9.40" text-anchor="start" fill="#1a1a1a">G-CSF</text>
<rect x="307.8" y="300.70" width="8.0" height="7.6" fill="#54e2b4"/>
<text x="320.40" y="307.48" font-size="9.40" text-anchor="start" fill="#1a1a1a">IL-4+G-CSF</text>
<text x="385.40" y="210.80" font-size="11.20" text-anchor="start" fill="#1a1a1a">c</text>
<rect x="431.20" y="216.80" width="129.00" height="128.40" fill="none" stroke="#1a1a1a" stroke-width="1.2"/>
<line x1="428.60" y1="345.20" x2="431.20" y2="345.20" stroke="#1a1a1a" stroke-width="1.00"/>
<line x1="429.60" y1="339.09" x2="431.20" y2="339.09" stroke="#1a1a1a" stroke-width="0.90"/>
<line x1="429.60" y1="332.97" x2="431.20" y2="332.97" stroke="#1a1a1a" stroke-width="0.90"/>
<line x1="429.60" y1="326.86" x2="431.20" y2="326.86" stroke="#1a1a1a" stroke-width="0.90"/>
<line x1="428.60" y1="320.75" x2="431.20" y2="320.75" stroke="#1a1a1a" stroke-width="1.00"/>
<line x1="429.60" y1="314.64" x2="431.20" y2="314.64" stroke="#1a1a1a" stroke-width="0.90"/>
<line x1="429.60" y1="308.52" x2="431.20" y2="308.52" stroke="#1a1a1a" stroke-width="0.90"/>
<line x1="429.60" y1="302.41" x2="431.20" y2="302.41" stroke="#1a1a1a" stroke-width="0.90"/>
<line x1="428.60" y1="296.30" x2="431.20" y2="296.30" stroke="#1a1a1a" stroke-width="1.00"/>
<line x1="429.60" y1="290.19" x2="431.20" y2="290.19" stroke="#1a1a1a" stroke-width="0.90"/>
<line x1="429.60" y1="284.07" x2="431.20" y2="284.07" stroke="#1a1a1a" stroke-width="0.90"/>
<line x1="429.60" y1="277.96" x2="431.20" y2="277.96" stroke="#1a1a1a" stroke-width="0.90"/>
<line x1="428.60" y1="271.85" x2="431.20" y2="271.85" stroke="#1a1a1a" stroke-width="1.00"/>
<line x1="429.60" y1="265.74" x2="431.20" y2="265.74" stroke="#1a1a1a" stroke-width="0.90"/>
<line x1="429.60" y1="259.62" x2="431.20" y2="259.62" stroke="#1a1a1a" stroke-width="0.90"/>
<line x1="429.60" y1="253.51" x2="431.20" y2="253.51" stroke="#1a1a1a" stroke-width="0.90"/>
<line x1="428.60" y1="247.40" x2="431.20" y2="247.40" stroke="#1a1a1a" stroke-width="1.00"/>
<line x1="429.60" y1="241.29" x2="431.20" y2="241.29" stroke="#1a1a1a" stroke-width="0.90"/>
<line x1="429.60" y1="235.18" x2="431.20" y2="235.18" stroke="#1a1a1a" stroke-width="0.90"/>
<line x1="429.60" y1="229.06" x2="431.20" y2="229.06" stroke="#1a1a1a" stroke-width="0.90"/>
<line x1="428.60" y1="222.95" x2="431.20" y2="222.95" stroke="#1a1a1a" stroke-width="1.00"/>
<text x="427.40" y="346.93" font-size="7.30" text-anchor="end" fill="#1a1a1a">0</text>
<text x="427.40" y="322.48" font-size="7.30" text-anchor="end" fill="#1a1a1a">20</text>
<text x="427.40" y="298.03" font-size="7.30" text-anchor="end" fill="#1a1a1a">40</text>
<text x="427.40" y="273.58" font-size="7.30" text-anchor="end" fill="#1a1a1a">60</text>
<text x="427.40" y="249.13" font-size="7.30" text-anchor="end" fill="#1a1a1a">80</text>
<text x="427.40" y="224.68" font-size="7.30" text-anchor="end" fill="#1a1a1a">100</text>
<line x1="450.40" y1="345.20" x2="450.40" y2="347.80" stroke="#1a1a1a" stroke-width="1.00"/>
<line x1="486.30" y1="345.20" x2="486.30" y2="347.80" stroke="#1a1a1a" stroke-width="1.00"/>
<line x1="517.00" y1="345.20" x2="517.00" y2="347.80" stroke="#1a1a1a" stroke-width="1.00"/>
<line x1="547.50" y1="345.20" x2="547.50" y2="347.80" stroke="#1a1a1a" stroke-width="1.00"/>
<line x1="495.54" y1="345.20" x2="495.54" y2="346.70" stroke="#1a1a1a" stroke-width="0.80"/>
<line x1="500.95" y1="345.20" x2="500.95" y2="346.70" stroke="#1a1a1a" stroke-width="0.80"/>
<line x1="504.78" y1="345.20" x2="504.78" y2="346.70" stroke="#1a1a1a" stroke-width="0.80"/>
<line x1="507.76" y1="345.20" x2="507.76" y2="346.70" stroke="#1a1a1a" stroke-width="0.80"/>
<line x1="510.19" y1="345.20" x2="510.19" y2="346.70" stroke="#1a1a1a" stroke-width="0.80"/>
<line x1="512.24" y1="345.20" x2="512.24" y2="346.70" stroke="#1a1a1a" stroke-width="0.80"/>
<line x1="514.02" y1="345.20" x2="514.02" y2="346.70" stroke="#1a1a1a" stroke-width="0.80"/>
<line x1="515.60" y1="345.20" x2="515.60" y2="346.70" stroke="#1a1a1a" stroke-width="0.80"/>
<line x1="526.18" y1="345.20" x2="526.18" y2="346.70" stroke="#1a1a1a" stroke-width="0.80"/>
<line x1="531.55" y1="345.20" x2="531.55" y2="346.70" stroke="#1a1a1a" stroke-width="0.80"/>
<line x1="535.36" y1="345.20" x2="535.36" y2="346.70" stroke="#1a1a1a" stroke-width="0.80"/>
<line x1="538.32" y1="345.20" x2="538.32" y2="346.70" stroke="#1a1a1a" stroke-width="0.80"/>
<line x1="540.73" y1="345.20" x2="540.73" y2="346.70" stroke="#1a1a1a" stroke-width="0.80"/>
<line x1="542.78" y1="345.20" x2="542.78" y2="346.70" stroke="#1a1a1a" stroke-width="0.80"/>
<line x1="544.54" y1="345.20" x2="544.54" y2="346.70" stroke="#1a1a1a" stroke-width="0.80"/>
<line x1="546.10" y1="345.20" x2="546.10" y2="346.70" stroke="#1a1a1a" stroke-width="0.80"/>
<line x1="436.00" y1="345.20" x2="436.00" y2="346.70" stroke="#1a1a1a" stroke-width="0.80"/>
<line x1="441.00" y1="345.20" x2="441.00" y2="346.70" stroke="#1a1a1a" stroke-width="0.80"/>
<line x1="445.50" y1="345.20" x2="445.50" y2="346.70" stroke="#1a1a1a" stroke-width="0.80"/>
<line x1="455.00" y1="345.20" x2="455.00" y2="346.70" stroke="#1a1a1a" stroke-width="0.80"/>
<line x1="459.50" y1="345.20" x2="459.50" y2="346.70" stroke="#1a1a1a" stroke-width="0.80"/>
<line x1="464.00" y1="345.20" x2="464.00" y2="346.70" stroke="#1a1a1a" stroke-width="0.80"/>
<line x1="468.50" y1="345.20" x2="468.50" y2="346.70" stroke="#1a1a1a" stroke-width="0.80"/>
<line x1="473.00" y1="345.20" x2="473.00" y2="346.70" stroke="#1a1a1a" stroke-width="0.80"/>
<line x1="477.50" y1="345.20" x2="477.50" y2="346.70" stroke="#1a1a1a" stroke-width="0.80"/>
<line x1="482.00" y1="345.20" x2="482.00" y2="346.70" stroke="#1a1a1a" stroke-width="0.80"/>
<text x="450.40" y="357.54" font-size="7.90" text-anchor="middle" fill="#1a1a1a">0</text>
<text x="486.30" y="358.44" font-size="7.90" text-anchor="middle" fill="#1a1a1a">10</text>
<text x="490.90" y="352.00" font-size="5.60" text-anchor="start" fill="#1a1a1a">3</text>
<text x="517.00" y="358.44" font-size="7.90" text-anchor="middle" fill="#1a1a1a">10</text>
<text x="521.60" y="352.00" font-size="5.60" text-anchor="start" fill="#1a1a1a">4</text>
<text x="547.50" y="358.44" font-size="7.90" text-anchor="middle" fill="#1a1a1a">10</text>
<text x="552.10" y="352.00" font-size="5.60" text-anchor="start" fill="#1a1a1a">5</text>
<text transform="translate(406.70 284.80) rotate(-90)" x="0" y="3.15" font-size="8.76" text-anchor="middle" fill="#1a1a1a">Normalized To Mode</text>
<text x="501.00" y="370.20" font-size="8.60" text-anchor="middle" fill="#1a1a1a">Elastase</text>
<path d="M432.2 345.20 L432.7 345.20 L433.2 345.20 L433.7 345.20 L434.2 345.20 L434.7 345.20 L435.2 345.20 L435.7 345.20 L436.2 345.20 L436.7 345.20 L437.2 345.20 L437.7 345.20 L438.2 345.20 L438.7 345.20 L439.2 345.20 L439.7 345.20 L440.2 345.20 L440.7 345.20 L441.2 345.20 L441.7 345.20 L442.2 345.20 L442.7 345.20 L443.2 345.20 L443.7 345.20 L444.2 345.20 L444.7 345.20 L445.2 345.20 L445.7 345.20 L446.2 345.20 L446.7 345.20 L447.2 345.20 L447.7 345.20 L448.2 345.20 L448.7 345.20 L449.2 345.20 L449.7 345.20 L450.2 345.20 L450.7 345.20 L451.2 345.20 L451.7 345.20 L452.2 345.20 L452.7 345.20 L453.2 345.20 L453.7 345.20 L454.2 345.20 L454.7 345.20 L455.2 345.20 L455.7 345.20 L456.2 345.20 L456.7 345.20 L457.2 345.20 L457.7 345.20 L458.2 345.20 L458.7 345.20 L459.2 345.20 L459.7 345.20 L460.2 345.20 L460.7 345.20 L461.2 345.20 L461.7 345.20 L462.2 345.20 L462.7 345.20 L463.2 345.20 L463.7 345.20 L464.2 345.20 L464.7 345.20 L465.2 345.20 L465.7 345.20 L466.2 345.20 L466.7 345.20 L467.2 345.20 L467.7 345.20 L468.2 345.20 L468.7 345.20 L469.2 345.20 L469.7 345.20 L470.2 345.20 L470.7 345.20 L471.2 345.20 L471.7 345.20 L472.2 345.20 L472.7 345.19 L473.2 345.19 L473.7 345.17 L474.2 345.15 L474.7 345.10 L475.2 345.02 L475.7 344.89 L476.2 344.68 L476.7 344.37 L477.2 343.93 L477.7 343.33 L478.2 342.54 L478.7 341.56 L479.2 340.40 L479.7 339.11 L480.2 337.77 L480.7 336.45 L481.2 335.25 L481.7 334.28 L482.2 333.60 L482.7 333.22 L483.2 333.12 L483.7 333.19 L484.2 333.31 L484.7 333.30 L485.2 332.95 L485.7 332.09 L486.2 330.53 L486.7 328.12 L487.2 324.76 L487.7 320.38 L488.2 314.95 L488.7 308.50 L489.2 301.09 L489.7 292.85 L490.2 283.96 L490.7 274.65 L491.2 265.21 L491.7 255.95 L492.2 247.23 L492.7 239.39 L493.2 232.78 L493.7 227.70 L494.2 224.38 L494.7 222.99 L495.2 223.62 L495.7 226.29 L496.2 230.88 L496.7 237.16 L497.2 244.82 L497.7 253.53 L498.2 262.90 L498.7 272.56 L499.2 282.17 L499.7 291.44 L500.2 300.11 L500.7 308.02 L501.2 315.05 L501.7 321.15 L502.2 326.31 L502.7 330.58 L503.2 334.03 L503.7 336.75 L504.2 338.83 L504.7 340.39 L505.2 341.51 L505.7 342.28 L506.2 342.79 L506.7 343.10 L507.2 343.26 L507.7 343.33 L508.2 343.34 L508.7 343.33 L509.2 343.32 L509.7 343.31 L510.2 343.33 L510.7 343.38 L511.2 343.46 L511.7 343.58 L512.2 343.71 L512.7 343.86 L513.2 344.02 L513.7 344.19 L514.2 344.35 L514.7 344.50 L515.2 344.63 L515.7 344.75 L516.2 344.85 L516.7 344.94 L517.2 345.01 L517.7 345.06 L518.2 345.10 L518.7 345.13 L519.2 345.15 L519.7 345.17 L520.2 345.18 L520.7 345.19 L521.2 345.19 L521.7 345.20 L522.2 345.20 L522.7 345.20 L523.2 345.20 L523.7 345.20 L524.2 345.20 L524.7 345.20 L525.2 345.20 L525.7 345.20 L526.2 345.20 L526.7 345.20 L527.2 345.20 L527.7 345.20 L528.2 345.20 L528.7 345.20 L529.2 345.20 L529.7 345.20 L530.2 345.20 L530.7 345.20 L531.2 345.20 L531.7 345.20 L532.2 345.20 L532.7 345.20 L533.2 345.20 L533.7 345.20 L534.2 345.20 L534.7 345.20 L535.2 345.20 L535.7 345.20 L536.2 345.20 L536.7 345.20 L537.2 345.20 L537.7 345.20 L538.2 345.20 L538.7 345.20 L539.2 345.20 L539.7 345.20 L540.2 345.20 L540.7 345.20 L541.2 345.20 L541.7 345.20 L542.2 345.20 L542.7 345.20 L543.2 345.20 L543.7 345.20 L544.2 345.20 L544.7 345.20 L545.2 345.20 L545.7 345.20 L546.2 345.20 L546.7 345.20 L547.2 345.20 L547.7 345.20 L548.2 345.20 L548.7 345.20 L549.2 345.20 L549.7 345.20 L550.2 345.20 L550.7 345.20 L551.2 345.20 L551.7 345.20 L552.2 345.20 L552.7 345.20 L553.2 345.20 L553.7 345.20 L554.2 345.20 L554.7 345.20 L555.2 345.20 L555.7 345.20 L556.2 345.20 L556.7 345.20 L557.2 345.20 L557.7 345.20 L558.2 345.20 L558.7 345.20 L559.2 345.20" fill="none" stroke="#a0a8ad" stroke-width="1.10" stroke-linejoin="round"/>
<path d="M432.2 345.20 L432.7 345.20 L433.2 345.20 L433.7 345.20 L434.2 345.20 L434.7 345.20 L435.2 345.20 L435.7 345.20 L436.2 345.20 L436.7 345.20 L437.2 345.20 L437.7 345.20 L438.2 345.20 L438.7 345.20 L439.2 345.20 L439.7 345.20 L440.2 345.20 L440.7 345.20 L441.2 345.20 L441.7 345.20 L442.2 345.20 L442.7 345.20 L443.2 345.20 L443.7 345.20 L444.2 345.20 L444.7 345.20 L445.2 345.20 L445.7 345.20 L446.2 345.20 L446.7 345.20 L447.2 345.20 L447.7 345.20 L448.2 345.20 L448.7 345.20 L449.2 345.20 L449.7 345.20 L450.2 345.20 L450.7 345.20 L451.2 345.20 L451.7 345.20 L452.2 345.20 L452.7 345.20 L453.2 345.20 L453.7 345.20 L454.2 345.20 L454.7 345.20 L455.2 345.20 L455.7 345.20 L456.2 345.20 L456.7 345.20 L457.2 345.20 L457.7 345.20 L458.2 345.20 L458.7 345.20 L459.2 345.20 L459.7 345.20 L460.2 345.20 L460.7 345.20 L461.2 345.20 L461.7 345.20 L462.2 345.20 L462.7 345.20 L463.2 345.20 L463.7 345.20 L464.2 345.20 L464.7 345.20 L465.2 345.20 L465.7 345.20 L466.2 345.20 L466.7 345.20 L467.2 345.20 L467.7 345.20 L468.2 345.20 L468.7 345.20 L469.2 345.20 L469.7 345.19 L470.2 345.19 L470.7 345.17 L471.2 345.15 L471.7 345.12 L472.2 345.07 L472.7 344.98 L473.2 344.85 L473.7 344.65 L474.2 344.36 L474.7 343.96 L475.2 343.41 L475.7 342.69 L476.2 341.77 L476.7 340.63 L477.2 339.28 L477.7 337.72 L478.2 336.00 L478.7 334.19 L479.2 332.35 L479.7 330.59 L480.2 329.01 L480.7 327.70 L481.2 326.73 L481.7 326.14 L482.2 326.03 L482.7 326.52 L483.2 327.46 L483.7 328.57 L484.2 329.56 L484.7 330.12 L485.2 329.99 L485.7 328.96 L486.2 326.87 L486.7 323.64 L487.2 319.25 L487.7 313.72 L488.2 307.12 L488.7 299.54 L489.2 291.16 L489.7 282.15 L490.2 272.78 L490.7 263.34 L491.2 254.16 L491.7 245.58 L492.2 237.96 L492.7 231.64 L493.2 226.89 L493.7 223.95 L494.2 222.95 L494.7 224.04 L495.2 227.25 L495.7 232.41 L496.2 239.26 L496.7 247.45 L497.2 256.62 L497.7 266.34 L498.2 276.24 L498.7 285.96 L499.2 295.21 L499.7 303.75 L500.2 311.42 L500.7 318.14 L501.2 323.88 L501.7 328.66 L502.2 332.54 L502.7 335.61 L503.2 337.97 L503.7 339.74 L504.2 341.00 L504.7 341.86 L505.2 342.41 L505.7 342.70 L506.2 342.81 L506.7 342.78 L507.2 342.65 L507.7 342.46 L508.2 342.22 L508.7 341.97 L509.2 341.72 L509.7 341.48 L510.2 341.28 L510.7 341.11 L511.2 340.99 L511.7 340.93 L512.2 340.92 L512.7 340.98 L513.2 341.09 L513.7 341.25 L514.2 341.46 L514.7 341.70 L515.2 341.98 L515.7 342.27 L516.2 342.58 L516.7 342.88 L517.2 343.18 L517.7 343.46 L518.2 343.73 L518.7 343.97 L519.2 344.18 L519.7 344.37 L520.2 344.54 L520.7 344.68 L521.2 344.79 L521.7 344.88 L522.2 344.96 L522.7 345.02 L523.2 345.07 L523.7 345.10 L524.2 345.13 L524.7 345.15 L525.2 345.17 L525.7 345.18 L526.2 345.18 L526.7 345.19 L527.2 345.19 L527.7 345.20 L528.2 345.20 L528.7 345.20 L529.2 345.20 L529.7 345.20 L530.2 345.20 L530.7 345.20 L531.2 345.20 L531.7 345.20 L532.2 345.20 L532.7 345.20 L533.2 345.20 L533.7 345.20 L534.2 345.20 L534.7 345.20 L535.2 345.20 L535.7 345.20 L536.2 345.20 L536.7 345.20 L537.2 345.20 L537.7 345.20 L538.2 345.20 L538.7 345.20 L539.2 345.20 L539.7 345.20 L540.2 345.20 L540.7 345.20 L541.2 345.20 L541.7 345.20 L542.2 345.20 L542.7 345.20 L543.2 345.20 L543.7 345.20 L544.2 345.20 L544.7 345.20 L545.2 345.20 L545.7 345.20 L546.2 345.20 L546.7 345.20 L547.2 345.20 L547.7 345.20 L548.2 345.20 L548.7 345.20 L549.2 345.20 L549.7 345.20 L550.2 345.20 L550.7 345.20 L551.2 345.20 L551.7 345.20 L552.2 345.20 L552.7 345.20 L553.2 345.20 L553.7 345.20 L554.2 345.20 L554.7 345.20 L555.2 345.20 L555.7 345.20 L556.2 345.20 L556.7 345.20 L557.2 345.20 L557.7 345.20 L558.2 345.20 L558.7 345.20 L559.2 345.20" fill="none" stroke="#2a55e8" stroke-width="1.10" stroke-linejoin="round"/>
<path d="M432.2 345.20 L432.7 345.20 L433.2 345.20 L433.7 345.20 L434.2 345.20 L434.7 345.20 L435.2 345.20 L435.7 345.20 L436.2 345.20 L436.7 345.20 L437.2 345.20 L437.7 345.20 L438.2 345.20 L438.7 345.20 L439.2 345.20 L439.7 345.20 L440.2 345.20 L440.7 345.20 L441.2 345.20 L441.7 345.20 L442.2 345.20 L442.7 345.20 L443.2 345.20 L443.7 345.20 L444.2 345.20 L444.7 345.20 L445.2 345.20 L445.7 345.20 L446.2 345.20 L446.7 345.20 L447.2 345.20 L447.7 345.20 L448.2 345.20 L448.7 345.20 L449.2 345.20 L449.7 345.20 L450.2 345.20 L450.7 345.20 L451.2 345.20 L451.7 345.20 L452.2 345.20 L452.7 345.20 L453.2 345.20 L453.7 345.20 L454.2 345.20 L454.7 345.20 L455.2 345.20 L455.7 345.20 L456.2 345.20 L456.7 345.20 L457.2 345.20 L457.7 345.20 L458.2 345.20 L458.7 345.20 L459.2 345.20 L459.7 345.20 L460.2 345.20 L460.7 345.20 L461.2 345.20 L461.7 345.20 L462.2 345.20 L462.7 345.20 L463.2 345.20 L463.7 345.20 L464.2 345.20 L464.7 345.20 L465.2 345.20 L465.7 345.20 L466.2 345.20 L466.7 345.20 L467.2 345.20 L467.7 345.20 L468.2 345.20 L468.7 345.20 L469.2 345.20 L469.7 345.20 L470.2 345.20 L470.7 345.20 L471.2 345.20 L471.7 345.20 L472.2 345.20 L472.7 345.19 L473.2 345.18 L473.7 345.17 L474.2 345.14 L474.7 345.10 L475.2 345.03 L475.7 344.92 L476.2 344.75 L476.7 344.51 L477.2 344.17 L477.7 343.73 L478.2 343.15 L478.7 342.45 L479.2 341.63 L479.7 340.72 L480.2 339.75 L480.7 338.80 L481.2 337.91 L481.7 337.17 L482.2 336.61 L482.7 336.27 L483.2 336.15 L483.7 336.25 L484.2 336.47 L484.7 336.69 L485.2 336.76 L485.7 336.51 L486.2 335.78 L486.7 334.41 L487.2 332.26 L487.7 329.22 L488.2 325.19 L488.7 320.11 L489.2 313.96 L489.7 306.78 L490.2 298.64 L490.7 289.70 L491.2 280.16 L491.7 270.30 L492.2 260.46 L492.7 251.03 L493.2 242.40 L493.7 234.97 L494.2 229.09 L494.7 225.08 L495.2 223.12 L495.7 223.31 L496.2 225.48 L496.7 229.53 L497.2 235.25 L497.7 242.39 L498.2 250.62 L498.7 259.60 L499.2 268.99 L499.7 278.43 L500.2 287.64 L500.7 296.37 L501.2 304.41 L501.7 311.64 L502.2 317.99 L502.7 323.43 L503.2 327.97 L503.7 331.68 L504.2 334.63 L504.7 336.91 L505.2 338.63 L505.7 339.89 L506.2 340.78 L506.7 341.39 L507.2 341.80 L507.7 342.07 L508.2 342.25 L508.7 342.39 L509.2 342.52 L509.7 342.66 L510.2 342.81 L510.7 342.99 L511.2 343.18 L511.7 343.40 L512.2 343.62 L512.7 343.84 L513.2 344.06 L513.7 344.26 L514.2 344.44 L514.7 344.60 L515.2 344.74 L515.7 344.85 L516.2 344.94 L516.7 345.01 L517.2 345.07 L517.7 345.11 L518.2 345.14 L518.7 345.16 L519.2 345.17 L519.7 345.18 L520.2 345.19 L520.7 345.19 L521.2 345.20 L521.7 345.20 L522.2 345.20 L522.7 345.20 L523.2 345.20 L523.7 345.20 L524.2 345.20 L524.7 345.20 L525.2 345.20 L525.7 345.20 L526.2 345.20 L526.7 345.20 L527.2 345.20 L527.7 345.20 L528.2 345.20 L528.7 345.20 L529.2 345.20 L529.7 345.20 L530.2 345.20 L530.7 345.20 L531.2 345.20 L531.7 345.20 L532.2 345.20 L532.7 345.20 L533.2 345.20 L533.7 345.20 L534.2 345.20 L534.7 345.20 L535.2 345.20 L535.7 345.20 L536.2 345.20 L536.7 345.20 L537.2 345.20 L537.7 345.20 L538.2 345.20 L538.7 345.20 L539.2 345.20 L539.7 345.20 L540.2 345.20 L540.7 345.20 L541.2 345.20 L541.7 345.20 L542.2 345.20 L542.7 345.20 L543.2 345.20 L543.7 345.20 L544.2 345.20 L544.7 345.20 L545.2 345.20 L545.7 345.20 L546.2 345.20 L546.7 345.20 L547.2 345.20 L547.7 345.20 L548.2 345.20 L548.7 345.20 L549.2 345.20 L549.7 345.20 L550.2 345.20 L550.7 345.20 L551.2 345.20 L551.7 345.20 L552.2 345.20 L552.7 345.20 L553.2 345.20 L553.7 345.20 L554.2 345.20 L554.7 345.20 L555.2 345.20 L555.7 345.20 L556.2 345.20 L556.7 345.20 L557.2 345.20 L557.7 345.20 L558.2 345.20 L558.7 345.20 L559.2 345.20" fill="none" stroke="#34d0b0" stroke-width="1.10" stroke-linejoin="round"/>
<path d="M432.2 345.20 L432.7 345.20 L433.2 345.20 L433.7 345.20 L434.2 345.20 L434.7 345.20 L435.2 345.20 L435.7 345.20 L436.2 345.20 L436.7 345.20 L437.2 345.20 L437.7 345.20 L438.2 345.20 L438.7 345.20 L439.2 345.20 L439.7 345.20 L440.2 345.20 L440.7 345.20 L441.2 345.20 L441.7 345.20 L442.2 345.20 L442.7 345.20 L443.2 345.20 L443.7 345.20 L444.2 345.20 L444.7 345.20 L445.2 345.20 L445.7 345.20 L446.2 345.20 L446.7 345.20 L447.2 345.20 L447.7 345.20 L448.2 345.20 L448.7 345.20 L449.2 345.20 L449.7 345.20 L450.2 345.20 L450.7 345.20 L451.2 345.20 L451.7 345.20 L452.2 345.20 L452.7 345.20 L453.2 345.20 L453.7 345.20 L454.2 345.20 L454.7 345.20 L455.2 345.20 L455.7 345.20 L456.2 345.20 L456.7 345.20 L457.2 345.20 L457.7 345.20 L458.2 345.20 L458.7 345.20 L459.2 345.20 L459.7 345.20 L460.2 345.20 L460.7 345.20 L461.2 345.20 L461.7 345.20 L462.2 345.20 L462.7 345.20 L463.2 345.20 L463.7 345.20 L464.2 345.19 L464.7 345.19 L465.2 345.18 L465.7 345.17 L466.2 345.15 L466.7 345.12 L467.2 345.08 L467.7 345.02 L468.2 344.94 L468.7 344.82 L469.2 344.67 L469.7 344.46 L470.2 344.19 L470.7 343.85 L471.2 343.43 L471.7 342.93 L472.2 342.35 L472.7 341.68 L473.2 340.94 L473.7 340.15 L474.2 339.32 L474.7 338.49 L475.2 337.68 L475.7 336.94 L476.2 336.28 L476.7 335.73 L477.2 335.30 L477.7 334.97 L478.2 334.80 L478.7 334.94 L479.2 335.23 L479.7 335.49 L480.2 335.52 L480.7 335.18 L481.2 334.38 L481.7 333.11 L482.2 331.47 L482.7 329.58 L483.2 327.57 L483.7 325.55 L484.2 323.57 L484.7 321.70 L485.2 319.79 L485.7 317.60 L486.2 314.82 L486.7 311.21 L487.2 306.58 L487.7 300.86 L488.2 294.09 L488.7 286.41 L489.2 278.05 L489.7 269.29 L490.2 260.44 L490.7 251.86 L491.2 243.86 L491.7 236.79 L492.2 230.94 L492.7 226.57 L493.2 223.86 L493.7 222.95 L494.2 224.14 L494.7 227.66 L495.2 233.29 L495.7 240.73 L496.2 249.57 L496.7 259.36 L497.2 269.64 L497.7 279.99 L498.2 290.00 L498.7 299.38 L499.2 307.89 L499.7 315.40 L500.2 321.83 L500.7 327.19 L501.2 331.55 L501.7 334.98 L502.2 337.62 L502.7 339.59 L503.2 341.00 L503.7 341.97 L504.2 342.61 L504.7 343.00 L505.2 343.22 L505.7 343.32 L506.2 343.34 L506.7 343.34 L507.2 343.32 L507.7 343.32 L508.2 343.34 L508.7 343.39 L509.2 343.47 L509.7 343.58 L510.2 343.71 L510.7 343.86 L511.2 344.02 L511.7 344.19 L512.2 344.35 L512.7 344.50 L513.2 344.63 L513.7 344.75 L514.2 344.85 L514.7 344.94 L515.2 345.01 L515.7 345.06 L516.2 345.10 L516.7 345.13 L517.2 345.15 L517.7 345.17 L518.2 345.18 L518.7 345.19 L519.2 345.19 L519.7 345.20 L520.2 345.20 L520.7 345.20 L521.2 345.20 L521.7 345.20 L522.2 345.20 L522.7 345.20 L523.2 345.20 L523.7 345.20 L524.2 345.20 L524.7 345.20 L525.2 345.20 L525.7 345.20 L526.2 345.20 L526.7 345.20 L527.2 345.20 L527.7 345.20 L528.2 345.20 L528.7 345.20 L529.2 345.20 L529.7 345.20 L530.2 345.20 L530.7 345.20 L531.2 345.20 L531.7 345.20 L532.2 345.20 L532.7 345.20 L533.2 345.20 L533.7 345.20 L534.2 345.20 L534.7 345.20 L535.2 345.20 L535.7 345.20 L536.2 345.20 L536.7 345.20 L537.2 345.20 L537.7 345.20 L538.2 345.20 L538.7 345.20 L539.2 345.20 L539.7 345.20 L540.2 345.20 L540.7 345.20 L541.2 345.20 L541.7 345.20 L542.2 345.20 L542.7 345.20 L543.2 345.20 L543.7 345.20 L544.2 345.20 L544.7 345.20 L545.2 345.20 L545.7 345.20 L546.2 345.20 L546.7 345.20 L547.2 345.20 L547.7 345.20 L548.2 345.20 L548.7 345.20 L549.2 345.20 L549.7 345.20 L550.2 345.20 L550.7 345.20 L551.2 345.20 L551.7 345.20 L552.2 345.20 L552.7 345.20 L553.2 345.20 L553.7 345.20 L554.2 345.20 L554.7 345.20 L555.2 345.20 L555.7 345.20 L556.2 345.20 L556.7 345.20 L557.2 345.20 L557.7 345.20 L558.2 345.20 L558.7 345.20 L559.2 345.20" fill="none" stroke="#e8202a" stroke-width="1.10" stroke-linejoin="round"/>
<path d="M432.2 345.20 L432.7 345.20 L433.2 345.20 L433.7 345.20 L434.2 345.20 L434.7 345.20 L435.2 345.20 L435.7 345.20 L436.2 345.20 L436.7 345.20 L437.2 345.20 L437.7 345.20 L438.2 345.20 L438.7 345.20 L439.2 345.20 L439.7 345.20 L440.2 345.20 L440.7 345.20 L441.2 345.20 L441.7 345.20 L442.2 345.20 L442.7 345.20 L443.2 345.20 L443.7 345.20 L444.2 345.20 L444.7 345.19 L445.2 345.18 L445.7 345.16 L446.2 345.11 L446.7 345.02 L447.2 344.85 L447.7 344.53 L448.2 343.99 L448.7 343.09 L449.2 341.63 L449.7 339.40 L450.2 336.09 L450.7 331.41 L451.2 325.06 L451.7 316.83 L452.2 306.65 L452.7 294.67 L453.2 281.32 L453.7 267.30 L454.2 253.57 L454.7 241.23 L455.2 231.41 L455.7 225.05 L456.2 222.81 L456.7 224.46 L457.2 229.36 L457.7 237.12 L458.2 247.11 L458.7 258.57 L459.2 270.73 L459.7 282.85 L460.2 294.33 L460.7 304.72 L461.2 313.74 L461.7 321.30 L462.2 327.43 L462.7 332.21 L463.2 335.84 L463.7 338.51 L464.2 340.44 L464.7 341.81 L465.2 342.77 L465.7 343.45 L466.2 343.92 L466.7 344.26 L467.2 344.50 L467.7 344.68 L468.2 344.82 L468.7 344.92 L469.2 345.00 L469.7 345.06 L470.2 345.10 L470.7 345.13 L471.2 345.15 L471.7 345.17 L472.2 345.18 L472.7 345.19 L473.2 345.19 L473.7 345.20 L474.2 345.20 L474.7 345.20 L475.2 345.20 L475.7 345.20 L476.2 345.20 L476.7 345.20 L477.2 345.20 L477.7 345.20 L478.2 345.20 L478.7 345.20 L479.2 345.20 L479.7 345.20 L480.2 345.20 L480.7 345.20 L481.2 345.20 L481.7 345.20 L482.2 345.20 L482.7 345.20 L483.2 345.20 L483.7 345.20 L484.2 345.20 L484.7 345.20 L485.2 345.20 L485.7 345.20 L486.2 345.20 L486.7 345.20 L487.2 345.20 L487.7 345.20 L488.2 345.20 L488.7 345.20 L489.2 345.20 L489.7 345.20 L490.2 345.20 L490.7 345.20 L491.2 345.20 L491.7 345.20 L492.2 345.20 L492.7 345.20 L493.2 345.20 L493.7 345.20 L494.2 345.20 L494.7 345.20 L495.2 345.20 L495.7 345.20 L496.2 345.20 L496.7 345.20 L497.2 345.20 L497.7 345.20 L498.2 345.20 L498.7 345.20 L499.2 345.20 L499.7 345.20 L500.2 345.20 L500.7 345.20 L501.2 345.20 L501.7 345.20 L502.2 345.20 L502.7 345.20 L503.2 345.20 L503.7 345.20 L504.2 345.20 L504.7 345.20 L505.2 345.20 L505.7 345.20 L506.2 345.20 L506.7 345.20 L507.2 345.20 L507.7 345.20 L508.2 345.20 L508.7 345.20 L509.2 345.20 L509.7 345.20 L510.2 345.20 L510.7 345.20 L511.2 345.20 L511.7 345.20 L512.2 345.20 L512.7 345.20 L513.2 345.20 L513.7 345.20 L514.2 345.20 L514.7 345.20 L515.2 345.20 L515.7 345.20 L516.2 345.20 L516.7 345.20 L517.2 345.20 L517.7 345.20 L518.2 345.20 L518.7 345.20 L519.2 345.20 L519.7 345.20 L520.2 345.20 L520.7 345.20 L521.2 345.20 L521.7 345.20 L522.2 345.20 L522.7 345.20 L523.2 345.20 L523.7 345.20 L524.2 345.20 L524.7 345.20 L525.2 345.20 L525.7 345.20 L526.2 345.20 L526.7 345.20 L527.2 345.20 L527.7 345.20 L528.2 345.20 L528.7 345.20 L529.2 345.20 L529.7 345.20 L530.2 345.20 L530.7 345.20 L531.2 345.20 L531.7 345.20 L532.2 345.20 L532.7 345.20 L533.2 345.20 L533.7 345.20 L534.2 345.20 L534.7 345.20 L535.2 345.20 L535.7 345.20 L536.2 345.20 L536.7 345.20 L537.2 345.20 L537.7 345.20 L538.2 345.20 L538.7 345.20 L539.2 345.20 L539.7 345.20 L540.2 345.20 L540.7 345.20 L541.2 345.20 L541.7 345.20 L542.2 345.20 L542.7 345.20 L543.2 345.20 L543.7 345.20 L544.2 345.20 L544.7 345.20 L545.2 345.20 L545.7 345.20 L546.2 345.20 L546.7 345.20 L547.2 345.20 L547.7 345.20 L548.2 345.20 L548.7 345.20 L549.2 345.20 L549.7 345.20 L550.2 345.20 L550.7 345.20 L551.2 345.20 L551.7 345.20 L552.2 345.20 L552.7 345.20 L553.2 345.20 L553.7 345.20 L554.2 345.20 L554.7 345.20 L555.2 345.20 L555.7 345.20 L556.2 345.20 L556.7 345.20 L557.2 345.20 L557.7 345.20 L558.2 345.20 L558.7 345.20 L559.2 345.20" fill="none" stroke="#1a1a1a" stroke-width="1.10" stroke-linejoin="round"/>
<rect x="583.60" y="216.80" width="129.20" height="128.60" fill="none" stroke="#1a1a1a" stroke-width="1.2"/>
<line x1="581.00" y1="345.40" x2="583.60" y2="345.40" stroke="#1a1a1a" stroke-width="1.00"/>
<line x1="582.00" y1="339.29" x2="583.60" y2="339.29" stroke="#1a1a1a" stroke-width="0.90"/>
<line x1="582.00" y1="333.17" x2="583.60" y2="333.17" stroke="#1a1a1a" stroke-width="0.90"/>
<line x1="582.00" y1="327.06" x2="583.60" y2="327.06" stroke="#1a1a1a" stroke-width="0.90"/>
<line x1="581.00" y1="320.95" x2="583.60" y2="320.95" stroke="#1a1a1a" stroke-width="1.00"/>
<line x1="582.00" y1="314.84" x2="583.60" y2="314.84" stroke="#1a1a1a" stroke-width="0.90"/>
<line x1="582.00" y1="308.72" x2="583.60" y2="308.72" stroke="#1a1a1a" stroke-width="0.90"/>
<line x1="582.00" y1="302.61" x2="583.60" y2="302.61" stroke="#1a1a1a" stroke-width="0.90"/>
<line x1="581.00" y1="296.50" x2="583.60" y2="296.50" stroke="#1a1a1a" stroke-width="1.00"/>
<line x1="582.00" y1="290.39" x2="583.60" y2="290.39" stroke="#1a1a1a" stroke-width="0.90"/>
<line x1="582.00" y1="284.27" x2="583.60" y2="284.27" stroke="#1a1a1a" stroke-width="0.90"/>
<line x1="582.00" y1="278.16" x2="583.60" y2="278.16" stroke="#1a1a1a" stroke-width="0.90"/>
<line x1="581.00" y1="272.05" x2="583.60" y2="272.05" stroke="#1a1a1a" stroke-width="1.00"/>
<line x1="582.00" y1="265.94" x2="583.60" y2="265.94" stroke="#1a1a1a" stroke-width="0.90"/>
<line x1="582.00" y1="259.82" x2="583.60" y2="259.82" stroke="#1a1a1a" stroke-width="0.90"/>
<line x1="582.00" y1="253.71" x2="583.60" y2="253.71" stroke="#1a1a1a" stroke-width="0.90"/>
<line x1="581.00" y1="247.60" x2="583.60" y2="247.60" stroke="#1a1a1a" stroke-width="1.00"/>
<line x1="582.00" y1="241.49" x2="583.60" y2="241.49" stroke="#1a1a1a" stroke-width="0.90"/>
<line x1="582.00" y1="235.38" x2="583.60" y2="235.38" stroke="#1a1a1a" stroke-width="0.90"/>
<line x1="582.00" y1="229.26" x2="583.60" y2="229.26" stroke="#1a1a1a" stroke-width="0.90"/>
<line x1="581.00" y1="223.15" x2="583.60" y2="223.15" stroke="#1a1a1a" stroke-width="1.00"/>
<text x="579.80" y="347.13" font-size="7.30" text-anchor="end" fill="#1a1a1a">0</text>
<text x="579.80" y="322.68" font-size="7.30" text-anchor="end" fill="#1a1a1a">20</text>
<text x="579.80" y="298.23" font-size="7.30" text-anchor="end" fill="#1a1a1a">40</text>
<text x="579.80" y="273.78" font-size="7.30" text-anchor="end" fill="#1a1a1a">60</text>
<text x="579.80" y="249.33" font-size="7.30" text-anchor="end" fill="#1a1a1a">80</text>
<text x="579.80" y="224.88" font-size="7.30" text-anchor="end" fill="#1a1a1a">100</text>
<line x1="591.60" y1="345.40" x2="591.60" y2="348.00" stroke="#1a1a1a" stroke-width="1.00"/>
<line x1="611.80" y1="345.40" x2="611.80" y2="348.00" stroke="#1a1a1a" stroke-width="1.00"/>
<line x1="634.50" y1="345.40" x2="634.50" y2="348.00" stroke="#1a1a1a" stroke-width="1.00"/>
<line x1="669.50" y1="345.40" x2="669.50" y2="348.00" stroke="#1a1a1a" stroke-width="1.00"/>
<line x1="700.10" y1="345.40" x2="700.10" y2="348.00" stroke="#1a1a1a" stroke-width="1.00"/>
<line x1="645.04" y1="345.40" x2="645.04" y2="346.90" stroke="#1a1a1a" stroke-width="0.80"/>
<line x1="651.20" y1="345.40" x2="651.20" y2="346.90" stroke="#1a1a1a" stroke-width="0.80"/>
<line x1="655.57" y1="345.40" x2="655.57" y2="346.90" stroke="#1a1a1a" stroke-width="0.80"/>
<line x1="658.96" y1="345.40" x2="658.96" y2="346.90" stroke="#1a1a1a" stroke-width="0.80"/>
<line x1="661.74" y1="345.40" x2="661.74" y2="346.90" stroke="#1a1a1a" stroke-width="0.80"/>
<line x1="664.08" y1="345.40" x2="664.08" y2="346.90" stroke="#1a1a1a" stroke-width="0.80"/>
<line x1="666.11" y1="345.40" x2="666.11" y2="346.90" stroke="#1a1a1a" stroke-width="0.80"/>
<line x1="667.90" y1="345.40" x2="667.90" y2="346.90" stroke="#1a1a1a" stroke-width="0.80"/>
<line x1="678.71" y1="345.40" x2="678.71" y2="346.90" stroke="#1a1a1a" stroke-width="0.80"/>
<line x1="684.10" y1="345.40" x2="684.10" y2="346.90" stroke="#1a1a1a" stroke-width="0.80"/>
<line x1="687.92" y1="345.40" x2="687.92" y2="346.90" stroke="#1a1a1a" stroke-width="0.80"/>
<line x1="690.89" y1="345.40" x2="690.89" y2="346.90" stroke="#1a1a1a" stroke-width="0.80"/>
<line x1="693.31" y1="345.40" x2="693.31" y2="346.90" stroke="#1a1a1a" stroke-width="0.80"/>
<line x1="695.36" y1="345.40" x2="695.36" y2="346.90" stroke="#1a1a1a" stroke-width="0.80"/>
<line x1="697.13" y1="345.40" x2="697.13" y2="346.90" stroke="#1a1a1a" stroke-width="0.80"/>
<line x1="698.70" y1="345.40" x2="698.70" y2="346.90" stroke="#1a1a1a" stroke-width="0.80"/>
<line x1="588.00" y1="345.40" x2="588.00" y2="346.90" stroke="#1a1a1a" stroke-width="0.80"/>
<line x1="595.50" y1="345.40" x2="595.50" y2="346.90" stroke="#1a1a1a" stroke-width="0.80"/>
<line x1="599.50" y1="345.40" x2="599.50" y2="346.90" stroke="#1a1a1a" stroke-width="0.80"/>
<line x1="603.50" y1="345.40" x2="603.50" y2="346.90" stroke="#1a1a1a" stroke-width="0.80"/>
<line x1="607.50" y1="345.40" x2="607.50" y2="346.90" stroke="#1a1a1a" stroke-width="0.80"/>
<line x1="615.80" y1="345.40" x2="615.80" y2="346.90" stroke="#1a1a1a" stroke-width="0.80"/>
<line x1="619.80" y1="345.40" x2="619.80" y2="346.90" stroke="#1a1a1a" stroke-width="0.80"/>
<line x1="623.80" y1="345.40" x2="623.80" y2="346.90" stroke="#1a1a1a" stroke-width="0.80"/>
<line x1="627.80" y1="345.40" x2="627.80" y2="346.90" stroke="#1a1a1a" stroke-width="0.80"/>
<text x="591.60" y="358.44" font-size="7.90" text-anchor="middle" fill="#1a1a1a">-10</text>
<text x="597.80" y="352.00" font-size="5.60" text-anchor="start" fill="#1a1a1a">3</text>
<text x="611.80" y="357.54" font-size="7.90" text-anchor="middle" fill="#1a1a1a">0</text>
<text x="634.50" y="358.44" font-size="7.90" text-anchor="middle" fill="#1a1a1a">10</text>
<text x="639.10" y="352.00" font-size="5.60" text-anchor="start" fill="#1a1a1a">3</text>
<text x="669.50" y="358.44" font-size="7.90" text-anchor="middle" fill="#1a1a1a">10</text>
<text x="674.10" y="352.00" font-size="5.60" text-anchor="start" fill="#1a1a1a">4</text>
<text x="700.10" y="358.44" font-size="7.90" text-anchor="middle" fill="#1a1a1a">10</text>
<text x="704.70" y="352.00" font-size="5.60" text-anchor="start" fill="#1a1a1a">5</text>
<text x="647.60" y="370.60" font-size="8.60" text-anchor="middle" fill="#1a1a1a">MPO</text>
<path d="M584.6 345.40 L585.1 345.40 L585.6 345.40 L586.1 345.40 L586.6 345.40 L587.1 345.40 L587.6 345.40 L588.1 345.40 L588.6 345.40 L589.1 345.40 L589.6 345.40 L590.1 345.40 L590.6 345.40 L591.1 345.40 L591.6 345.40 L592.1 345.40 L592.6 345.40 L593.1 345.40 L593.6 345.40 L594.1 345.40 L594.6 345.40 L595.1 345.40 L595.6 345.40 L596.1 345.40 L596.6 345.40 L597.1 345.40 L597.6 345.40 L598.1 345.40 L598.6 345.40 L599.1 345.40 L599.6 345.40 L600.1 345.40 L600.6 345.40 L601.1 345.40 L601.6 345.40 L602.1 345.40 L602.6 345.40 L603.1 345.40 L603.6 345.40 L604.1 345.40 L604.6 345.40 L605.1 345.40 L605.6 345.40 L606.1 345.40 L606.6 345.40 L607.1 345.40 L607.6 345.40 L608.1 345.40 L608.6 345.40 L609.1 345.40 L609.6 345.40 L610.1 345.40 L610.6 345.40 L611.1 345.40 L611.6 345.40 L612.1 345.40 L612.6 345.40 L613.1 345.40 L613.6 345.39 L614.1 345.38 L614.6 345.36 L615.1 345.32 L615.6 345.25 L616.1 345.14 L616.6 344.98 L617.1 344.72 L617.6 344.34 L618.1 343.80 L618.6 343.12 L619.1 342.30 L619.6 341.37 L620.1 340.34 L620.6 339.17 L621.1 337.83 L621.6 336.28 L622.1 334.53 L622.6 332.59 L623.1 330.53 L623.6 328.38 L624.1 326.16 L624.6 323.84 L625.1 321.39 L625.6 318.78 L626.1 316.00 L626.6 313.09 L627.1 310.09 L627.6 307.03 L628.1 303.95 L628.6 300.86 L629.1 297.77 L629.6 294.69 L630.1 291.62 L630.6 288.58 L631.1 285.58 L631.6 282.64 L632.1 279.75 L632.6 276.91 L633.1 274.09 L633.6 271.30 L634.1 268.51 L634.6 265.72 L635.1 262.94 L635.6 260.16 L636.1 257.37 L636.6 254.59 L637.1 251.82 L637.6 249.07 L638.1 246.38 L638.6 243.79 L639.1 241.35 L639.6 239.10 L640.1 237.04 L640.6 235.15 L641.1 233.37 L641.6 231.66 L642.1 229.99 L642.6 228.37 L643.1 226.84 L643.6 225.46 L644.1 224.34 L644.6 223.55 L645.1 223.17 L645.6 223.24 L646.1 223.77 L646.6 224.75 L647.1 226.13 L647.6 227.85 L648.1 229.86 L648.6 232.13 L649.1 234.69 L649.6 237.66 L650.1 241.16 L650.6 245.24 L651.1 249.88 L651.6 254.93 L652.1 260.23 L652.6 265.61 L653.1 270.91 L653.6 276.01 L654.1 280.78 L654.6 285.19 L655.1 289.25 L655.6 293.04 L656.1 296.66 L656.6 300.18 L657.1 303.67 L657.6 307.13 L658.1 310.55 L658.6 313.88 L659.1 317.05 L659.6 319.98 L660.1 322.62 L660.6 324.95 L661.1 327.02 L661.6 328.92 L662.1 330.71 L662.6 332.46 L663.1 334.16 L663.6 335.79 L664.1 337.32 L664.6 338.69 L665.1 339.84 L665.6 340.79 L666.1 341.57 L666.6 342.22 L667.1 342.79 L667.6 343.31 L668.1 343.79 L668.6 344.20 L669.1 344.54 L669.6 344.80 L670.1 345.00 L670.6 345.14 L671.1 345.24 L671.6 345.31 L672.1 345.36 L672.6 345.38 L673.1 345.39 L673.6 345.40 L674.1 345.40 L674.6 345.40 L675.1 345.40 L675.6 345.40 L676.1 345.40 L676.6 345.40 L677.1 345.40 L677.6 345.40 L678.1 345.40 L678.6 345.40 L679.1 345.40 L679.6 345.40 L680.1 345.40 L680.6 345.40 L681.1 345.40 L681.6 345.40 L682.1 345.40 L682.6 345.40 L683.1 345.40 L683.6 345.40 L684.1 345.40 L684.6 345.40 L685.1 345.40 L685.6 345.40 L686.1 345.40 L686.6 345.40 L687.1 345.40 L687.6 345.40 L688.1 345.40 L688.6 345.40 L689.1 345.40 L689.6 345.40 L690.1 345.40 L690.6 345.40 L691.1 345.40 L691.6 345.40 L692.1 345.40 L692.6 345.40 L693.1 345.40 L693.6 345.40 L694.1 345.40 L694.6 345.40 L695.1 345.40 L695.6 345.40 L696.1 345.40 L696.6 345.40 L697.1 345.40 L697.6 345.40 L698.1 345.40 L698.6 345.40 L699.1 345.40 L699.6 345.40 L700.1 345.40 L700.6 345.40 L701.1 345.40 L701.6 345.40 L702.1 345.40 L702.6 345.40 L703.1 345.40 L703.6 345.40 L704.1 345.40 L704.6 345.40 L705.1 345.40 L705.6 345.40 L706.1 345.40 L706.6 345.40 L707.1 345.40 L707.6 345.40 L708.1 345.40 L708.6 345.40 L709.1 345.40 L709.6 345.40 L710.1 345.40 L710.6 345.40 L711.1 345.40 L711.6 345.40" fill="none" stroke="#a0a8ad" stroke-width="1.10" stroke-linejoin="round"/>
<path d="M584.6 345.40 L585.1 345.40 L585.6 345.40 L586.1 345.40 L586.6 345.40 L587.1 345.40 L587.6 345.40 L588.1 345.40 L588.6 345.40 L589.1 345.40 L589.6 345.40 L590.1 345.40 L590.6 345.40 L591.1 345.40 L591.6 345.40 L592.1 345.40 L592.6 345.40 L593.1 345.40 L593.6 345.40 L594.1 345.40 L594.6 345.40 L595.1 345.40 L595.6 345.40 L596.1 345.40 L596.6 345.40 L597.1 345.40 L597.6 345.40 L598.1 345.40 L598.6 345.40 L599.1 345.40 L599.6 345.40 L600.1 345.40 L600.6 345.40 L601.1 345.40 L601.6 345.40 L602.1 345.40 L602.6 345.40 L603.1 345.40 L603.6 345.40 L604.1 345.40 L604.6 345.40 L605.1 345.40 L605.6 345.40 L606.1 345.40 L606.6 345.40 L607.1 345.40 L607.6 345.40 L608.1 345.40 L608.6 345.40 L609.1 345.40 L609.6 345.40 L610.1 345.40 L610.6 345.40 L611.1 345.40 L611.6 345.40 L612.1 345.40 L612.6 345.40 L613.1 345.40 L613.6 345.40 L614.1 345.40 L614.6 345.40 L615.1 345.39 L615.6 345.37 L616.1 345.34 L616.6 345.28 L617.1 345.21 L617.6 345.10 L618.1 344.93 L618.6 344.68 L619.1 344.31 L619.6 343.79 L620.1 343.11 L620.6 342.30 L621.1 341.37 L621.6 340.34 L622.1 339.17 L622.6 337.83 L623.1 336.29 L623.6 334.53 L624.1 332.60 L624.6 330.54 L625.1 328.39 L625.6 326.18 L626.1 323.89 L626.6 321.48 L627.1 318.94 L627.6 316.26 L628.1 313.47 L628.6 310.60 L629.1 307.69 L629.6 304.75 L630.1 301.81 L630.6 298.87 L631.1 295.92 L631.6 292.99 L632.1 290.06 L632.6 287.15 L633.1 284.27 L633.6 281.41 L634.1 278.58 L634.6 275.78 L635.1 272.98 L635.6 270.19 L636.1 267.41 L636.6 264.63 L637.1 261.84 L637.6 259.06 L638.1 256.28 L638.6 253.50 L639.1 250.74 L639.6 248.01 L640.1 245.36 L640.6 242.84 L641.1 240.50 L641.6 238.37 L642.1 236.43 L642.6 234.64 L643.1 232.96 L643.6 231.32 L644.1 229.72 L644.6 228.17 L645.1 226.70 L645.6 225.38 L646.1 224.29 L646.6 223.54 L647.1 223.17 L647.6 223.24 L648.1 223.76 L648.6 224.69 L649.1 226.00 L649.6 227.64 L650.1 229.52 L650.6 231.61 L651.1 233.94 L651.6 236.59 L652.1 239.69 L652.6 243.34 L653.1 247.55 L653.6 252.23 L654.1 257.21 L654.6 262.35 L655.1 267.50 L655.6 272.54 L656.1 277.36 L656.6 281.89 L657.1 286.08 L657.6 289.96 L658.1 293.62 L658.6 297.14 L659.1 300.59 L659.6 304.01 L660.1 307.41 L660.6 310.76 L661.1 314.03 L661.6 317.12 L662.1 319.97 L662.6 322.49 L663.1 324.70 L663.6 326.63 L664.1 328.38 L664.6 330.03 L665.1 331.62 L665.6 333.19 L666.1 334.74 L666.6 336.23 L667.1 337.62 L667.6 338.88 L668.1 339.95 L668.6 340.85 L669.1 341.59 L669.6 342.23 L670.1 342.79 L670.6 343.32 L671.1 343.79 L671.6 344.20 L672.1 344.54 L672.6 344.80 L673.1 345.00 L673.6 345.14 L674.1 345.24 L674.6 345.31 L675.1 345.36 L675.6 345.38 L676.1 345.39 L676.6 345.40 L677.1 345.40 L677.6 345.40 L678.1 345.40 L678.6 345.40 L679.1 345.40 L679.6 345.40 L680.1 345.40 L680.6 345.40 L681.1 345.40 L681.6 345.40 L682.1 345.40 L682.6 345.40 L683.1 345.40 L683.6 345.40 L684.1 345.40 L684.6 345.40 L685.1 345.40 L685.6 345.40 L686.1 345.40 L686.6 345.40 L687.1 345.40 L687.6 345.40 L688.1 345.40 L688.6 345.40 L689.1 345.40 L689.6 345.40 L690.1 345.40 L690.6 345.40 L691.1 345.40 L691.6 345.40 L692.1 345.40 L692.6 345.40 L693.1 345.40 L693.6 345.40 L694.1 345.40 L694.6 345.40 L695.1 345.40 L695.6 345.40 L696.1 345.40 L696.6 345.40 L697.1 345.40 L697.6 345.40 L698.1 345.40 L698.6 345.40 L699.1 345.40 L699.6 345.40 L700.1 345.40 L700.6 345.40 L701.1 345.40 L701.6 345.40 L702.1 345.40 L702.6 345.40 L703.1 345.40 L703.6 345.40 L704.1 345.40 L704.6 345.40 L705.1 345.40 L705.6 345.40 L706.1 345.40 L706.6 345.40 L707.1 345.40 L707.6 345.40 L708.1 345.40 L708.6 345.40 L709.1 345.40 L709.6 345.40 L710.1 345.40 L710.6 345.40 L711.1 345.40 L711.6 345.40" fill="none" stroke="#2a55e8" stroke-width="1.10" stroke-linejoin="round"/>
<path d="M584.6 345.40 L585.1 345.40 L585.6 345.40 L586.1 345.40 L586.6 345.40 L587.1 345.40 L587.6 345.40 L588.1 345.40 L588.6 345.40 L589.1 345.40 L589.6 345.40 L590.1 345.40 L590.6 345.40 L591.1 345.40 L591.6 345.40 L592.1 345.40 L592.6 345.40 L593.1 345.40 L593.6 345.40 L594.1 345.40 L594.6 345.40 L595.1 345.40 L595.6 345.40 L596.1 345.40 L596.6 345.40 L597.1 345.40 L597.6 345.40 L598.1 345.40 L598.6 345.40 L599.1 345.40 L599.6 345.40 L600.1 345.40 L600.6 345.40 L601.1 345.40 L601.6 345.40 L602.1 345.40 L602.6 345.40 L603.1 345.40 L603.6 345.40 L604.1 345.40 L604.6 345.40 L605.1 345.40 L605.6 345.40 L606.1 345.40 L606.6 345.40 L607.1 345.40 L607.6 345.40 L608.1 345.40 L608.6 345.40 L609.1 345.40 L609.6 345.40 L610.1 345.40 L610.6 345.40 L611.1 345.40 L611.6 345.40 L612.1 345.40 L612.6 345.40 L613.1 345.39 L613.6 345.38 L614.1 345.36 L614.6 345.32 L615.1 345.25 L615.6 345.14 L616.1 344.98 L616.6 344.72 L617.1 344.34 L617.6 343.80 L618.1 343.12 L618.6 342.30 L619.1 341.37 L619.6 340.34 L620.1 339.17 L620.6 337.83 L621.1 336.28 L621.6 334.53 L622.1 332.59 L622.6 330.53 L623.1 328.38 L623.6 326.16 L624.1 323.84 L624.6 321.39 L625.1 318.77 L625.6 316.00 L626.1 313.09 L626.6 310.08 L627.1 307.03 L627.6 303.95 L628.1 300.86 L628.6 297.77 L629.1 294.69 L629.6 291.62 L630.1 288.58 L630.6 285.58 L631.1 282.64 L631.6 279.75 L632.1 276.90 L632.6 274.09 L633.1 271.29 L633.6 268.50 L634.1 265.72 L634.6 262.94 L635.1 260.15 L635.6 257.37 L636.1 254.59 L636.6 251.82 L637.1 249.07 L637.6 246.37 L638.1 243.78 L638.6 241.34 L639.1 239.09 L639.6 237.04 L640.1 235.14 L640.6 233.36 L641.1 231.65 L641.6 229.98 L642.1 228.36 L642.6 226.83 L643.1 225.46 L643.6 224.33 L644.1 223.55 L644.6 223.17 L645.1 223.25 L645.6 223.81 L646.1 224.83 L646.6 226.28 L647.1 228.11 L647.6 230.26 L648.1 232.72 L648.6 235.54 L649.1 238.80 L649.6 242.60 L650.1 246.97 L650.6 251.83 L651.1 257.02 L651.6 262.38 L652.1 267.76 L652.6 273.03 L653.1 278.06 L653.6 282.77 L654.1 287.16 L654.6 291.25 L655.1 295.13 L655.6 298.88 L656.1 302.58 L656.6 306.23 L657.1 309.84 L657.6 313.35 L658.1 316.68 L658.6 319.75 L659.1 322.48 L659.6 324.88 L660.1 326.99 L660.6 328.90 L661.1 330.71 L661.6 332.46 L662.1 334.16 L662.6 335.79 L663.1 337.32 L663.6 338.69 L664.1 339.84 L664.6 340.79 L665.1 341.57 L665.6 342.22 L666.1 342.79 L666.6 343.31 L667.1 343.78 L667.6 344.19 L668.1 344.52 L668.6 344.77 L669.1 344.96 L669.6 345.09 L670.1 345.20 L670.6 345.27 L671.1 345.33 L671.6 345.36 L672.1 345.38 L672.6 345.39 L673.1 345.40 L673.6 345.40 L674.1 345.40 L674.6 345.40 L675.1 345.40 L675.6 345.40 L676.1 345.40 L676.6 345.40 L677.1 345.40 L677.6 345.40 L678.1 345.40 L678.6 345.40 L679.1 345.40 L679.6 345.40 L680.1 345.40 L680.6 345.40 L681.1 345.40 L681.6 345.40 L682.1 345.40 L682.6 345.40 L683.1 345.40 L683.6 345.40 L684.1 345.40 L684.6 345.40 L685.1 345.40 L685.6 345.40 L686.1 345.40 L686.6 345.40 L687.1 345.40 L687.6 345.40 L688.1 345.40 L688.6 345.40 L689.1 345.40 L689.6 345.40 L690.1 345.40 L690.6 345.40 L691.1 345.40 L691.6 345.40 L692.1 345.40 L692.6 345.40 L693.1 345.40 L693.6 345.40 L694.1 345.40 L694.6 345.40 L695.1 345.40 L695.6 345.40 L696.1 345.40 L696.6 345.40 L697.1 345.40 L697.6 345.40 L698.1 345.40 L698.6 345.40 L699.1 345.40 L699.6 345.40 L700.1 345.40 L700.6 345.40 L701.1 345.40 L701.6 345.40 L702.1 345.40 L702.6 345.40 L703.1 345.40 L703.6 345.40 L704.1 345.40 L704.6 345.40 L705.1 345.40 L705.6 345.40 L706.1 345.40 L706.6 345.40 L707.1 345.40 L707.6 345.40 L708.1 345.40 L708.6 345.40 L709.1 345.40 L709.6 345.40 L710.1 345.40 L710.6 345.40 L711.1 345.40 L711.6 345.40" fill="none" stroke="#34d0b0" stroke-width="1.10" stroke-linejoin="round"/>
<path d="M584.6 345.40 L585.1 345.40 L585.6 345.40 L586.1 345.40 L586.6 345.40 L587.1 345.40 L587.6 345.40 L588.1 345.40 L588.6 345.40 L589.1 345.40 L589.6 345.40 L590.1 345.40 L590.6 345.40 L591.1 345.40 L591.6 345.40 L592.1 345.40 L592.6 345.40 L593.1 345.40 L593.6 345.40 L594.1 345.40 L594.6 345.40 L595.1 345.40 L595.6 345.40 L596.1 345.40 L596.6 345.40 L597.1 345.40 L597.6 345.40 L598.1 345.40 L598.6 345.40 L599.1 345.40 L599.6 345.40 L600.1 345.40 L600.6 345.40 L601.1 345.40 L601.6 345.40 L602.1 345.40 L602.6 345.40 L603.1 345.40 L603.6 345.40 L604.1 345.40 L604.6 345.40 L605.1 345.40 L605.6 345.40 L606.1 345.40 L606.6 345.40 L607.1 345.40 L607.6 345.40 L608.1 345.40 L608.6 345.40 L609.1 345.40 L609.6 345.40 L610.1 345.39 L610.6 345.38 L611.1 345.36 L611.6 345.33 L612.1 345.27 L612.6 345.19 L613.1 345.07 L613.6 344.89 L614.1 344.62 L614.6 344.22 L615.1 343.67 L615.6 342.96 L616.1 342.12 L616.6 341.17 L617.1 340.11 L617.6 338.92 L618.1 337.54 L618.6 335.95 L619.1 334.15 L619.6 332.19 L620.1 330.10 L620.6 327.94 L621.1 325.69 L621.6 323.34 L622.1 320.84 L622.6 318.16 L623.1 315.32 L623.6 312.34 L624.1 309.28 L624.6 306.16 L625.1 303.03 L625.6 299.88 L626.1 296.74 L626.6 293.61 L627.1 290.50 L627.6 287.42 L628.1 284.38 L628.6 281.39 L629.1 278.46 L629.6 275.56 L630.1 272.68 L630.6 269.82 L631.1 266.96 L631.6 264.10 L632.1 261.25 L632.6 258.39 L633.1 255.54 L633.6 252.69 L634.1 249.87 L634.6 247.09 L635.1 244.40 L635.6 241.85 L636.1 239.49 L636.6 237.32 L637.1 235.33 L637.6 233.46 L638.1 231.66 L638.6 229.92 L639.1 228.25 L639.6 226.68 L640.1 225.29 L640.6 224.18 L641.1 223.45 L641.6 223.15 L642.1 223.33 L642.6 224.01 L643.1 225.18 L643.6 226.80 L644.1 228.83 L644.6 231.23 L645.1 233.98 L645.6 237.16 L646.1 240.83 L646.6 245.05 L647.1 249.77 L647.6 254.88 L648.1 260.21 L648.6 265.61 L649.1 270.97 L649.6 276.15 L650.1 281.08 L650.6 285.72 L651.1 290.07 L651.6 294.21 L652.1 298.21 L652.6 302.13 L653.1 306.00 L653.6 309.81 L654.1 313.51 L654.6 317.00 L655.1 320.22 L655.6 323.09 L656.1 325.62 L656.6 327.88 L657.1 329.96 L657.6 331.93 L658.1 333.83 L658.6 335.64 L659.1 337.33 L659.6 338.85 L660.1 340.15 L660.6 341.23 L661.1 342.14 L661.6 342.90 L662.1 343.54 L662.6 344.06 L663.1 344.46 L663.6 344.76 L664.1 344.96 L664.6 345.11 L665.1 345.21 L665.6 345.29 L666.1 345.34 L666.6 345.37 L667.1 345.39 L667.6 345.40 L668.1 345.40 L668.6 345.40 L669.1 345.40 L669.6 345.40 L670.1 345.40 L670.6 345.40 L671.1 345.40 L671.6 345.40 L672.1 345.40 L672.6 345.40 L673.1 345.40 L673.6 345.40 L674.1 345.40 L674.6 345.40 L675.1 345.40 L675.6 345.40 L676.1 345.40 L676.6 345.40 L677.1 345.40 L677.6 345.40 L678.1 345.40 L678.6 345.40 L679.1 345.40 L679.6 345.40 L680.1 345.40 L680.6 345.40 L681.1 345.40 L681.6 345.40 L682.1 345.40 L682.6 345.40 L683.1 345.40 L683.6 345.40 L684.1 345.40 L684.6 345.40 L685.1 345.40 L685.6 345.40 L686.1 345.40 L686.6 345.40 L687.1 345.40 L687.6 345.40 L688.1 345.40 L688.6 345.40 L689.1 345.40 L689.6 345.40 L690.1 345.40 L690.6 345.40 L691.1 345.40 L691.6 345.40 L692.1 345.40 L692.6 345.40 L693.1 345.40 L693.6 345.40 L694.1 345.40 L694.6 345.40 L695.1 345.40 L695.6 345.40 L696.1 345.40 L696.6 345.40 L697.1 345.40 L697.6 345.40 L698.1 345.40 L698.6 345.40 L699.1 345.40 L699.6 345.40 L700.1 345.40 L700.6 345.40 L701.1 345.40 L701.6 345.40 L702.1 345.40 L702.6 345.40 L703.1 345.40 L703.6 345.40 L704.1 345.40 L704.6 345.40 L705.1 345.40 L705.6 345.40 L706.1 345.40 L706.6 345.40 L707.1 345.40 L707.6 345.40 L708.1 345.40 L708.6 345.40 L709.1 345.40 L709.6 345.40 L710.1 345.40 L710.6 345.40 L711.1 345.40 L711.6 345.40" fill="none" stroke="#e8202a" stroke-width="1.10" stroke-linejoin="round"/>
<path d="M584.6 345.40 L585.1 345.40 L585.6 345.40 L586.1 345.40 L586.6 345.40 L587.1 345.40 L587.6 345.40 L588.1 345.40 L588.6 345.40 L589.1 345.40 L589.6 345.40 L590.1 345.40 L590.6 345.40 L591.1 345.40 L591.6 345.40 L592.1 345.40 L592.6 345.40 L593.1 345.40 L593.6 345.40 L594.1 345.40 L594.6 345.40 L595.1 345.40 L595.6 345.40 L596.1 345.40 L596.6 345.40 L597.1 345.40 L597.6 345.40 L598.1 345.40 L598.6 345.40 L599.1 345.40 L599.6 345.40 L600.1 345.40 L600.6 345.40 L601.1 345.40 L601.6 345.40 L602.1 345.40 L602.6 345.40 L603.1 345.40 L603.6 345.40 L604.1 345.40 L604.6 345.40 L605.1 345.40 L605.6 345.40 L606.1 345.40 L606.6 345.40 L607.1 345.39 L607.6 345.39 L608.1 345.37 L608.6 345.34 L609.1 345.25 L609.6 345.03 L610.1 344.53 L610.6 343.48 L611.1 341.42 L611.6 337.69 L612.1 331.46 L612.6 321.93 L613.1 308.59 L613.6 291.63 L614.1 272.26 L614.6 252.76 L615.1 236.16 L615.6 225.44 L616.1 222.69 L616.6 227.55 L617.1 238.71 L617.6 254.24 L618.1 271.76 L618.6 288.93 L619.1 303.97 L619.6 315.89 L620.1 324.46 L620.6 330.02 L621.1 333.23 L621.6 334.84 L622.1 335.49 L622.6 335.68 L623.1 335.68 L623.6 335.62 L624.1 335.59 L624.6 335.58 L625.1 335.58 L625.6 335.56 L626.1 335.48 L626.6 335.34 L627.1 335.12 L627.6 334.84 L628.1 334.49 L628.6 334.11 L629.1 333.70 L629.6 333.30 L630.1 332.91 L630.6 332.55 L631.1 332.23 L631.6 331.95 L632.1 331.73 L632.6 331.56 L633.1 331.44 L633.6 331.37 L634.1 331.34 L634.6 331.36 L635.1 331.42 L635.6 331.51 L636.1 331.62 L636.6 331.77 L637.1 331.94 L637.6 332.13 L638.1 332.35 L638.6 332.58 L639.1 332.83 L639.6 333.09 L640.1 333.37 L640.6 333.67 L641.1 333.97 L641.6 334.28 L642.1 334.61 L642.6 334.93 L643.1 335.27 L643.6 335.60 L644.1 335.94 L644.6 336.29 L645.1 336.63 L645.6 336.97 L646.1 337.31 L646.6 337.64 L647.1 337.98 L647.6 338.31 L648.1 338.63 L648.6 338.95 L649.1 339.26 L649.6 339.56 L650.1 339.86 L650.6 340.14 L651.1 340.42 L651.6 340.69 L652.1 340.96 L652.6 341.21 L653.1 341.45 L653.6 341.69 L654.1 341.91 L654.6 342.13 L655.1 342.33 L655.6 342.53 L656.1 342.72 L656.6 342.89 L657.1 343.06 L657.6 343.22 L658.1 343.38 L658.6 343.52 L659.1 343.65 L659.6 343.78 L660.1 343.90 L660.6 344.02 L661.1 344.12 L661.6 344.22 L662.1 344.31 L662.6 344.40 L663.1 344.48 L663.6 344.56 L664.1 344.63 L664.6 344.69 L665.1 344.75 L665.6 344.81 L666.1 344.86 L666.6 344.91 L667.1 344.95 L667.6 344.99 L668.1 345.03 L668.6 345.06 L669.1 345.10 L669.6 345.12 L670.1 345.15 L670.6 345.17 L671.1 345.20 L671.6 345.22 L672.1 345.23 L672.6 345.25 L673.1 345.27 L673.6 345.28 L674.1 345.29 L674.6 345.30 L675.1 345.31 L675.6 345.32 L676.1 345.33 L676.6 345.34 L677.1 345.35 L677.6 345.35 L678.1 345.36 L678.6 345.36 L679.1 345.37 L679.6 345.37 L680.1 345.37 L680.6 345.38 L681.1 345.38 L681.6 345.38 L682.1 345.38 L682.6 345.39 L683.1 345.39 L683.6 345.39 L684.1 345.39 L684.6 345.39 L685.1 345.39 L685.6 345.39 L686.1 345.39 L686.6 345.40 L687.1 345.40 L687.6 345.40 L688.1 345.40 L688.6 345.40 L689.1 345.40 L689.6 345.40 L690.1 345.40 L690.6 345.40 L691.1 345.40 L691.6 345.40 L692.1 345.40 L692.6 345.40 L693.1 345.40 L693.6 345.40 L694.1 345.40 L694.6 345.40 L695.1 345.40 L695.6 345.40 L696.1 345.40 L696.6 345.40 L697.1 345.40 L697.6 345.40 L698.1 345.40 L698.6 345.40 L699.1 345.40 L699.6 345.40 L700.1 345.40 L700.6 345.40 L701.1 345.40 L701.6 345.40 L702.1 345.40 L702.6 345.40 L703.1 345.40 L703.6 345.40 L704.1 345.40 L704.6 345.40 L705.1 345.40 L705.6 345.40 L706.1 345.40 L706.6 345.40 L707.1 345.40 L707.6 345.40 L708.1 345.40 L708.6 345.40 L709.1 345.40 L709.6 345.40 L710.1 345.40 L710.6 345.40 L711.1 345.40 L711.6 345.40" fill="none" stroke="#1a1a1a" stroke-width="1.10" stroke-linejoin="round"/>
<text x="747.50" y="226.60" font-size="9.20" text-anchor="middle" fill="#1a1a1a">BMN</text>
<line x1="735.50" y1="228.60" x2="760.00" y2="228.60" stroke="#333" stroke-width="1.00"/>
<rect x="722.5" y="232.80" width="8.0" height="8.0" fill="#1a1a1a"/>
<text x="733.80" y="239.21" font-size="9.20" text-anchor="start" fill="#1a1a1a">Isotype</text>
<rect x="722.5" y="247.30" width="8.0" height="8.0" fill="#9ea6ab"/>
<text x="733.80" y="253.71" font-size="9.20" text-anchor="start" fill="#1a1a1a">Unpolarized</text>
<rect x="722.5" y="261.50" width="8.0" height="8.0" fill="#2a55e8"/>
<text x="733.80" y="267.91" font-size="9.20" text-anchor="start" fill="#1a1a1a">IL-4</text>
<rect x="722.5" y="275.50" width="8.0" height="8.0" fill="#e8202a"/>
<text x="733.80" y="281.91" font-size="9.20" text-anchor="start" fill="#1a1a1a">G-CSF</text>
<rect x="722.5" y="289.00" width="8.0" height="8.0" fill="#54e2b4"/>
<text x="733.80" y="295.41" font-size="9.20" text-anchor="start" fill="#1a1a1a">IL-4+G-CSF</text>
<text x="2.60" y="381.60" font-size="11.20" text-anchor="start" fill="#1a1a1a">d</text>
<defs><filter id="hb" x="-50%" y="-50%" width="200%" height="200%"><feGaussianBlur stdDeviation="0.55"/></filter><clipPath id="c1"><rect x="35" y="390" width="114" height="113"/></clipPath><clipPath id="c3"><rect x="359.4" y="390" width="114" height="113.5"/></clipPath></defs>
<path d="M69 462.5h3M36 463.5h6M65 463.5h8M74 463.5h1M36 464.5h8M62 464.5h2M65 464.5h11M35 465.5h10M60 465.5h17M35 466.5h10M59 466.5h19M35 467.5h11M57 467.5h22M35 468.5h12M55 468.5h24M35 469.5h12M54 469.5h25M35 470.5h13M52 470.5h27M35 471.5h13M51 471.5h29M35 472.5h45M35 473.5h44M35 474.5h44M35 475.5h44M35 476.5h44M35 477.5h43M35 478.5h43M35 479.5h42M35 480.5h42M35 481.5h41M35 482.5h41M35 483.5h40M35 484.5h39M35 485.5h38M35 486.5h36M35 487.5h36M35 488.5h35M35 489.5h34M35 490.5h33M35 491.5h32M35 492.5h28M64 492.5h2M35 493.5h29M35 494.5h28M35 495.5h27M35 496.5h25M35 497.5h23M35 498.5h21M35 499.5h19M35 500.5h17M35 501.5h14M35 502.5h11" stroke="#2352ee" stroke-width="1" fill="none" shape-rendering="crispEdges"/>
<path d="M70 443.5h9M80 443.5h3M67 444.5h3M71 444.5h2M74 444.5h12M65 445.5h3M71 445.5h3M75 445.5h1M78 445.5h1M80 445.5h1M83 445.5h5M63 446.5h4M68 446.5h2M71 446.5h5M77 446.5h1M79 446.5h4M84 446.5h1M86 446.5h1M88 446.5h1M62 447.5h10M73 447.5h3M77 447.5h10M88 447.5h1M60 448.5h14M76 448.5h2M79 448.5h3M83 448.5h1M85 448.5h6M59 449.5h9M69 449.5h11M82 449.5h5M88 449.5h3M57 450.5h2M60 450.5h3M64 450.5h13M78 450.5h1M81 450.5h10M56 451.5h3M60 451.5h1M62 451.5h6M69 451.5h1M71 451.5h21M56 452.5h21M78 452.5h5M84 452.5h8M54 453.5h3M58 453.5h2M61 453.5h6M68 453.5h1M70 453.5h6M77 453.5h7M85 453.5h2M88 453.5h3M54 454.5h6M62 454.5h3M67 454.5h3M71 454.5h1M73 454.5h1M75 454.5h10M86 454.5h4M52 455.5h7M60 455.5h5M66 455.5h23M90 455.5h1M36 456.5h1M52 456.5h2M57 456.5h16M74 456.5h6M81 456.5h10M35 457.5h3M51 457.5h3M56 457.5h2M59 457.5h3M63 457.5h4M68 457.5h7M76 457.5h5M83 457.5h1M85 457.5h5M35 458.5h1M38 458.5h1M50 458.5h3M54 458.5h8M63 458.5h4M68 458.5h18M87 458.5h3M35 459.5h2M38 459.5h3M50 459.5h1M52 459.5h4M57 459.5h28M86 459.5h3M35 460.5h1M37 460.5h8M49 460.5h8M58 460.5h30M35 461.5h14M50 461.5h5M56 461.5h7M64 461.5h16M81 461.5h6M35 462.5h2M38 462.5h9M48 462.5h2M51 462.5h1M53 462.5h3M57 462.5h3M61 462.5h7M72 462.5h12M85 462.5h3M35 463.5h1M43 463.5h1M45 463.5h2M48 463.5h1M50 463.5h6M57 463.5h2M60 463.5h5M76 463.5h6M83 463.5h4M35 464.5h1M45 464.5h2M48 464.5h3M54 464.5h2M57 464.5h5M76 464.5h5M82 464.5h4M45 465.5h2M49 465.5h11M77 465.5h5M83 465.5h3M45 466.5h5M51 466.5h1M54 466.5h5M78 466.5h7M46 467.5h11M79 467.5h5M47 468.5h8M79 468.5h2M82 468.5h2M47 469.5h7M79 469.5h5M48 470.5h1M50 470.5h2M79 470.5h5M48 471.5h3M80 471.5h4M80 472.5h1M82 472.5h2M79 473.5h4M79 474.5h4M79 475.5h3M79 476.5h3M78 477.5h2M78 478.5h2M77 479.5h3M77 480.5h2M76 481.5h3M76 482.5h2M75 483.5h3M74 484.5h2M73 485.5h2M72 486.5h3M71 487.5h2M70 488.5h1M69 489.5h3M68 490.5h3M67 491.5h3M66 492.5h3M64 493.5h4M63 494.5h3M63 495.5h1M60 496.5h1M58 497.5h3M56 498.5h4M54 499.5h4M52 500.5h4M49 501.5h2M52 501.5h2M46 502.5h4" stroke="#3c66ef" stroke-width="1" fill="none" shape-rendering="crispEdges"/>
<path d="M77 416.5h1M80 416.5h1M74 417.5h2M77 417.5h1M83 417.5h1M69 418.5h1M72 418.5h1M74 418.5h1M77 418.5h1M79 418.5h1M82 418.5h2M86 418.5h1M67 419.5h2M70 419.5h2M78 419.5h1M85 419.5h3M64 420.5h1M67 420.5h1M69 420.5h1M71 420.5h2M75 420.5h1M77 420.5h1M80 420.5h4M89 420.5h2M64 421.5h2M68 421.5h2M74 421.5h1M76 421.5h3M80 421.5h2M83 421.5h1M86 421.5h1M90 421.5h1M61 422.5h1M65 422.5h2M68 422.5h1M71 422.5h3M76 422.5h2M82 422.5h9M62 423.5h3M68 423.5h3M72 423.5h2M76 423.5h1M80 423.5h1M82 423.5h2M85 423.5h1M91 423.5h3M59 424.5h1M62 424.5h1M64 424.5h2M67 424.5h1M72 424.5h2M76 424.5h1M83 424.5h1M86 424.5h2M93 424.5h1M58 425.5h1M62 425.5h1M64 425.5h3M68 425.5h5M75 425.5h3M79 425.5h1M83 425.5h1M86 425.5h1M89 425.5h1M91 425.5h1M93 425.5h1M58 426.5h2M63 426.5h1M65 426.5h2M69 426.5h1M71 426.5h3M78 426.5h5M84 426.5h1M87 426.5h4M56 427.5h2M61 427.5h1M63 427.5h1M66 427.5h5M73 427.5h6M80 427.5h3M84 427.5h2M90 427.5h1M93 427.5h1M53 428.5h1M55 428.5h2M58 428.5h1M61 428.5h1M65 428.5h1M67 428.5h1M70 428.5h2M77 428.5h2M80 428.5h1M88 428.5h1M91 428.5h2M52 429.5h1M56 429.5h1M59 429.5h2M62 429.5h2M69 429.5h2M75 429.5h8M84 429.5h1M87 429.5h3M91 429.5h5M51 430.5h1M53 430.5h2M56 430.5h1M58 430.5h1M60 430.5h1M64 430.5h1M66 430.5h1M68 430.5h3M72 430.5h1M74 430.5h4M80 430.5h1M85 430.5h1M87 430.5h2M91 430.5h2M95 430.5h3M57 431.5h1M61 431.5h2M65 431.5h2M70 431.5h4M77 431.5h2M81 431.5h3M85 431.5h2M90 431.5h2M94 431.5h2M49 432.5h1M52 432.5h2M55 432.5h1M57 432.5h2M61 432.5h3M65 432.5h1M68 432.5h1M70 432.5h1M73 432.5h2M77 432.5h1M79 432.5h7M88 432.5h5M94 432.5h2M48 433.5h1M53 433.5h1M55 433.5h1M57 433.5h4M62 433.5h2M67 433.5h3M71 433.5h1M76 433.5h1M78 433.5h3M82 433.5h1M84 433.5h1M89 433.5h3M93 433.5h1M95 433.5h1M97 433.5h1M47 434.5h1M54 434.5h10M65 434.5h4M70 434.5h2M74 434.5h1M76 434.5h1M78 434.5h9M91 434.5h1M95 434.5h1M47 435.5h1M49 435.5h1M53 435.5h1M55 435.5h3M59 435.5h2M62 435.5h5M68 435.5h2M71 435.5h1M73 435.5h2M77 435.5h1M79 435.5h4M84 435.5h1M87 435.5h1M89 435.5h3M93 435.5h2M99 435.5h1M47 436.5h1M52 436.5h1M54 436.5h1M56 436.5h1M59 436.5h1M62 436.5h1M66 436.5h1M69 436.5h1M71 436.5h4M76 436.5h1M79 436.5h1M82 436.5h1M84 436.5h3M89 436.5h3M95 436.5h1M97 436.5h2M100 436.5h1M45 437.5h1M50 437.5h1M52 437.5h1M54 437.5h3M58 437.5h3M63 437.5h1M65 437.5h3M69 437.5h1M71 437.5h1M74 437.5h4M79 437.5h1M82 437.5h1M84 437.5h6M91 437.5h1M93 437.5h3M97 437.5h2M101 437.5h1M45 438.5h1M52 438.5h1M56 438.5h3M60 438.5h1M62 438.5h4M67 438.5h5M73 438.5h1M77 438.5h1M80 438.5h1M86 438.5h1M88 438.5h1M90 438.5h2M95 438.5h3M99 438.5h1M102 438.5h1M36 439.5h1M44 439.5h4M49 439.5h1M51 439.5h1M53 439.5h2M56 439.5h1M59 439.5h2M62 439.5h3M66 439.5h4M71 439.5h4M76 439.5h6M85 439.5h5M93 439.5h2M96 439.5h3M101 439.5h1M35 440.5h3M44 440.5h3M48 440.5h3M53 440.5h1M57 440.5h4M63 440.5h1M65 440.5h4M70 440.5h2M73 440.5h1M75 440.5h3M79 440.5h1M81 440.5h3M85 440.5h1M88 440.5h2M93 440.5h2M98 440.5h3M102 440.5h2M38 441.5h1M42 441.5h3M52 441.5h4M58 441.5h2M61 441.5h1M63 441.5h1M65 441.5h1M67 441.5h1M69 441.5h1M72 441.5h2M76 441.5h2M81 441.5h4M86 441.5h2M95 441.5h1M97 441.5h2M103 441.5h1M35 442.5h2M42 442.5h2M46 442.5h2M49 442.5h1M53 442.5h1M56 442.5h7M64 442.5h1M67 442.5h8M77 442.5h4M83 442.5h1M85 442.5h1M87 442.5h1M90 442.5h4M95 442.5h2M102 442.5h2M35 443.5h2M38 443.5h1M41 443.5h1M45 443.5h2M49 443.5h2M52 443.5h2M57 443.5h6M64 443.5h1M66 443.5h4M83 443.5h6M90 443.5h8M100 443.5h1M102 443.5h2M37 444.5h1M49 444.5h1M51 444.5h2M55 444.5h1M59 444.5h3M64 444.5h1M66 444.5h1M86 444.5h2M90 444.5h1M92 444.5h1M94 444.5h2M97 444.5h1M99 444.5h3M103 444.5h1M35 445.5h1M38 445.5h2M42 445.5h1M44 445.5h1M46 445.5h2M49 445.5h1M54 445.5h10M89 445.5h4M96 445.5h1M98 445.5h1M100 445.5h1M103 445.5h1M39 446.5h1M41 446.5h1M43 446.5h1M46 446.5h5M52 446.5h1M54 446.5h1M59 446.5h1M61 446.5h1M89 446.5h2M92 446.5h1M95 446.5h5M35 447.5h2M38 447.5h1M40 447.5h2M43 447.5h1M46 447.5h2M49 447.5h1M52 447.5h2M55 447.5h1M60 447.5h1M90 447.5h4M95 447.5h3M102 447.5h2M35 448.5h6M43 448.5h1M46 448.5h3M54 448.5h2M57 448.5h2M92 448.5h5M98 448.5h1M100 448.5h2M36 449.5h2M39 449.5h3M44 449.5h3M49 449.5h4M54 449.5h2M57 449.5h2M92 449.5h1M94 449.5h2M98 449.5h1M100 449.5h1M102 449.5h1M44 450.5h3M48 450.5h5M54 450.5h3M91 450.5h3M95 450.5h1M97 450.5h1M99 450.5h2M35 451.5h1M39 451.5h1M41 451.5h1M43 451.5h3M48 451.5h1M50 451.5h6M92 451.5h1M94 451.5h2M97 451.5h1M99 451.5h2M37 452.5h1M41 452.5h2M45 452.5h3M49 452.5h2M52 452.5h2M92 452.5h6M36 453.5h3M41 453.5h3M47 453.5h2M51 453.5h3M91 453.5h2M94 453.5h1M97 453.5h1M99 453.5h1M37 454.5h2M40 454.5h2M44 454.5h1M46 454.5h1M49 454.5h1M92 454.5h1M96 454.5h5M35 455.5h5M42 455.5h1M44 455.5h3M91 455.5h1M93 455.5h3M98 455.5h1M100 455.5h1M37 456.5h3M43 456.5h1M45 456.5h3M49 456.5h3M91 456.5h1M95 456.5h1M98 456.5h2M39 457.5h1M41 457.5h1M43 457.5h1M46 457.5h3M90 457.5h1M93 457.5h1M95 457.5h1M99 457.5h1M40 458.5h5M48 458.5h2M90 458.5h2M96 458.5h1M43 459.5h1M45 459.5h1M48 459.5h1M89 459.5h1M91 459.5h2M94 459.5h2M97 459.5h1M45 460.5h3M91 460.5h1M93 460.5h1M96 460.5h1M90 461.5h3M95 461.5h1M90 462.5h1M87 463.5h2M91 463.5h1M93 463.5h1M86 464.5h1M88 464.5h6M87 465.5h2M93 465.5h1M85 466.5h1M87 466.5h4M85 467.5h1M87 467.5h2M85 468.5h2M88 468.5h2M84 469.5h5M84 470.5h5M84 471.5h2M84 472.5h4M83 473.5h1M83 474.5h1M85 474.5h2M84 475.5h2M82 476.5h2M81 477.5h1M83 477.5h1M83 478.5h1M80 479.5h1M82 479.5h1M80 480.5h2M81 481.5h1M79 482.5h2M79 483.5h1M77 484.5h2M77 485.5h1M74 487.5h2M73 488.5h3M72 489.5h3M71 490.5h2M69 492.5h1M69 493.5h1M66 494.5h3M66 495.5h1M63 496.5h1M62 497.5h3M60 498.5h2M58 499.5h1M57 500.5h2M55 501.5h3M55 502.5h1" stroke="#7190f2" stroke-width="1" fill="none" shape-rendering="crispEdges"/>
<path d="M38 390.5h1M67 390.5h1M75 390.5h1M82 390.5h1M87 390.5h2M93 390.5h1M95 390.5h1M101 390.5h1M104 390.5h1M107 390.5h2M122 390.5h1M140 390.5h1M41 391.5h1M53 391.5h1M58 391.5h1M63 391.5h1M89 391.5h1M92 391.5h1M112 391.5h1M136 391.5h1M46 392.5h2M52 392.5h2M65 392.5h1M70 392.5h1M94 392.5h2M107 392.5h1M110 392.5h1M117 392.5h1M123 392.5h2M136 392.5h1M41 393.5h1M48 393.5h1M50 393.5h1M58 393.5h1M60 393.5h1M69 393.5h1M71 393.5h1M90 393.5h1M107 393.5h1M147 393.5h1M48 394.5h1M57 394.5h1M66 394.5h3M81 394.5h1M96 394.5h1M113 394.5h1M135 394.5h1M37 395.5h2M48 395.5h2M54 395.5h1M57 395.5h1M66 395.5h2M71 395.5h1M78 395.5h1M85 395.5h2M90 395.5h1M96 395.5h1M110 395.5h1M38 396.5h1M45 396.5h1M73 396.5h1M76 396.5h1M83 396.5h1M90 396.5h3M99 396.5h1M101 396.5h1M103 396.5h3M113 396.5h1M117 396.5h1M121 396.5h1M37 397.5h1M50 397.5h1M56 397.5h1M58 397.5h1M65 397.5h1M70 397.5h1M72 397.5h1M79 397.5h1M85 397.5h1M88 397.5h1M116 397.5h1M122 397.5h1M133 397.5h1M136 397.5h1M40 398.5h1M55 398.5h1M59 398.5h1M63 398.5h1M94 398.5h1M97 398.5h2M112 398.5h1M118 398.5h1M124 398.5h2M37 399.5h1M64 399.5h1M75 399.5h1M78 399.5h1M81 399.5h3M87 399.5h1M90 399.5h1M93 399.5h1M100 399.5h1M120 399.5h1M46 400.5h1M59 400.5h2M64 400.5h1M66 400.5h1M77 400.5h1M80 400.5h1M86 400.5h1M91 400.5h1M93 400.5h1M96 400.5h1M105 400.5h1M39 401.5h1M61 401.5h1M64 401.5h1M66 401.5h1M77 401.5h2M80 401.5h1M84 401.5h1M86 401.5h2M89 401.5h1M92 401.5h1M96 401.5h2M103 401.5h2M110 401.5h1M118 401.5h1M39 402.5h1M50 402.5h1M52 402.5h1M71 402.5h1M73 402.5h1M76 402.5h1M83 402.5h1M86 402.5h2M95 402.5h1M97 402.5h1M100 402.5h3M146 402.5h1M52 403.5h1M55 403.5h1M59 403.5h1M63 403.5h2M73 403.5h1M89 403.5h1M93 403.5h1M103 403.5h1M105 403.5h1M110 403.5h1M143 403.5h1M39 404.5h1M43 404.5h1M45 404.5h1M48 404.5h1M60 404.5h1M65 404.5h1M71 404.5h1M74 404.5h1M81 404.5h1M84 404.5h2M87 404.5h1M90 404.5h1M99 404.5h1M110 404.5h2M120 404.5h1M125 404.5h1M136 404.5h2M39 405.5h1M54 405.5h1M59 405.5h1M66 405.5h1M68 405.5h1M72 405.5h1M74 405.5h1M78 405.5h1M81 405.5h2M89 405.5h1M94 405.5h1M133 405.5h1M35 406.5h1M44 406.5h1M48 406.5h1M60 406.5h1M71 406.5h2M74 406.5h1M76 406.5h1M79 406.5h2M82 406.5h2M95 406.5h1M97 406.5h2M107 406.5h1M113 406.5h1M128 406.5h1M36 407.5h1M42 407.5h1M45 407.5h1M47 407.5h1M52 407.5h1M56 407.5h4M63 407.5h1M71 407.5h1M77 407.5h1M81 407.5h1M83 407.5h2M87 407.5h1M92 407.5h1M102 407.5h1M108 407.5h1M114 407.5h1M116 407.5h1M120 407.5h2M124 407.5h2M140 407.5h1M38 408.5h1M51 408.5h1M56 408.5h1M60 408.5h1M67 408.5h1M70 408.5h2M74 408.5h1M78 408.5h2M82 408.5h2M87 408.5h1M89 408.5h1M91 408.5h1M99 408.5h1M101 408.5h1M105 408.5h1M107 408.5h1M36 409.5h1M39 409.5h1M53 409.5h1M65 409.5h1M73 409.5h1M82 409.5h2M85 409.5h1M90 409.5h1M102 409.5h1M123 409.5h1M138 409.5h1M41 410.5h1M44 410.5h1M46 410.5h2M50 410.5h1M53 410.5h1M63 410.5h2M66 410.5h1M70 410.5h2M80 410.5h1M82 410.5h2M86 410.5h1M89 410.5h1M93 410.5h1M98 410.5h2M101 410.5h1M105 410.5h1M108 410.5h1M110 410.5h1M120 410.5h1M45 411.5h1M50 411.5h1M55 411.5h1M57 411.5h1M59 411.5h3M63 411.5h1M65 411.5h1M67 411.5h2M71 411.5h1M79 411.5h1M82 411.5h1M87 411.5h1M91 411.5h1M95 411.5h1M100 411.5h1M107 411.5h1M109 411.5h1M120 411.5h1M125 411.5h1M129 411.5h1M131 411.5h1M133 411.5h1M36 412.5h2M43 412.5h1M48 412.5h1M51 412.5h1M60 412.5h1M63 412.5h3M68 412.5h1M70 412.5h2M73 412.5h1M76 412.5h2M81 412.5h1M84 412.5h1M87 412.5h1M92 412.5h1M94 412.5h1M100 412.5h1M105 412.5h1M112 412.5h1M114 412.5h1M128 412.5h1M140 412.5h1M145 412.5h1M41 413.5h1M46 413.5h2M51 413.5h1M54 413.5h1M57 413.5h1M59 413.5h1M61 413.5h1M63 413.5h1M70 413.5h1M84 413.5h2M90 413.5h1M96 413.5h1M98 413.5h2M105 413.5h1M110 413.5h2M120 413.5h1M124 413.5h1M53 414.5h4M58 414.5h1M62 414.5h2M65 414.5h1M69 414.5h2M75 414.5h1M77 414.5h1M80 414.5h1M83 414.5h1M90 414.5h1M99 414.5h1M101 414.5h1M105 414.5h1M108 414.5h1M110 414.5h1M114 414.5h1M137 414.5h1M35 415.5h3M42 415.5h1M51 415.5h3M60 415.5h1M63 415.5h3M71 415.5h2M83 415.5h1M85 415.5h2M96 415.5h1M100 415.5h1M122 415.5h1M130 415.5h1M37 416.5h1M49 416.5h2M54 416.5h1M57 416.5h1M59 416.5h2M62 416.5h1M64 416.5h1M69 416.5h1M72 416.5h1M84 416.5h1M86 416.5h2M89 416.5h1M94 416.5h3M99 416.5h1M101 416.5h1M104 416.5h1M112 416.5h1M116 416.5h1M119 416.5h1M133 416.5h2M35 417.5h1M54 417.5h1M64 417.5h1M67 417.5h2M71 417.5h1M87 417.5h2M91 417.5h1M93 417.5h1M96 417.5h1M99 417.5h1M105 417.5h1M107 417.5h1M116 417.5h1M124 417.5h1M127 417.5h1M140 417.5h1M39 418.5h1M49 418.5h4M55 418.5h1M58 418.5h1M88 418.5h1M93 418.5h1M96 418.5h2M99 418.5h1M105 418.5h1M109 418.5h3M116 418.5h1M123 418.5h1M135 418.5h1M46 419.5h2M50 419.5h1M61 419.5h4M90 419.5h1M92 419.5h1M94 419.5h1M99 419.5h1M103 419.5h1M106 419.5h1M123 419.5h1M128 419.5h1M145 419.5h1M147 419.5h1M38 420.5h1M41 420.5h1M43 420.5h1M48 420.5h1M51 420.5h1M56 420.5h1M58 420.5h1M91 420.5h3M95 420.5h1M99 420.5h1M102 420.5h1M108 420.5h1M136 420.5h1M54 421.5h1M93 421.5h2M98 421.5h1M100 421.5h1M106 421.5h1M108 421.5h1M112 421.5h1M115 421.5h1M123 421.5h1M133 421.5h1M145 421.5h1M36 422.5h1M44 422.5h1M46 422.5h1M94 422.5h1M96 422.5h1M100 422.5h1M102 422.5h1M105 422.5h1M107 422.5h1M44 423.5h1M48 423.5h1M51 423.5h1M53 423.5h1M55 423.5h3M98 423.5h1M101 423.5h1M106 423.5h1M116 423.5h1M119 423.5h1M132 423.5h1M137 423.5h1M44 424.5h1M49 424.5h3M54 424.5h1M57 424.5h1M97 424.5h1M103 424.5h1M106 424.5h1M110 424.5h1M116 424.5h2M40 425.5h1M42 425.5h1M46 425.5h1M49 425.5h1M51 425.5h2M54 425.5h1M95 425.5h1M99 425.5h1M108 425.5h1M136 425.5h1M36 426.5h1M38 426.5h1M49 426.5h2M54 426.5h1M105 426.5h1M111 426.5h1M113 426.5h1M35 427.5h1M44 427.5h1M46 427.5h2M96 427.5h1M102 427.5h2M105 427.5h1M107 427.5h1M109 427.5h1M111 427.5h2M133 427.5h1M36 428.5h1M40 428.5h1M43 428.5h1M49 428.5h2M98 428.5h1M103 428.5h1M106 428.5h1M114 428.5h1M124 428.5h1M126 428.5h1M129 428.5h1M148 428.5h1M36 429.5h1M38 429.5h1M42 429.5h2M47 429.5h1M49 429.5h2M97 429.5h1M99 429.5h1M102 429.5h2M107 429.5h1M121 429.5h1M128 429.5h1M43 430.5h1M45 430.5h1M50 430.5h1M98 430.5h1M101 430.5h1M106 430.5h2M109 430.5h1M134 430.5h1M35 431.5h1M37 431.5h2M41 431.5h1M101 431.5h2M106 431.5h1M114 431.5h1M134 431.5h1M42 432.5h1M44 432.5h3M48 432.5h1M102 432.5h1M109 432.5h1M112 432.5h1M36 433.5h3M42 433.5h2M46 433.5h1M100 433.5h1M105 433.5h1M115 433.5h1M36 434.5h1M42 434.5h1M45 434.5h2M101 434.5h1M103 434.5h1M107 434.5h1M109 434.5h1M113 434.5h1M117 434.5h1M122 434.5h2M38 435.5h1M41 435.5h1M46 435.5h1M102 435.5h1M108 435.5h1M110 435.5h1M113 435.5h1M115 435.5h1M118 435.5h1M139 435.5h1M35 436.5h1M39 436.5h1M41 436.5h1M43 436.5h1M102 436.5h2M111 436.5h1M127 436.5h1M132 436.5h1M134 436.5h1M43 437.5h1M102 437.5h2M120 437.5h1M131 437.5h1M137 437.5h1M145 437.5h1M39 438.5h3M43 438.5h1M104 438.5h1M106 438.5h1M112 438.5h2M117 438.5h1M126 438.5h1M136 438.5h1M39 439.5h2M42 439.5h1M103 439.5h1M105 439.5h1M110 439.5h2M123 439.5h1M139 439.5h1M145 439.5h1M39 440.5h1M104 440.5h1M109 440.5h1M116 440.5h1M142 440.5h1M41 441.5h1M106 441.5h1M108 441.5h1M110 441.5h1M137 441.5h1M41 442.5h1M106 442.5h1M109 442.5h1M119 442.5h1M115 443.5h1M136 443.5h1M105 444.5h2M109 444.5h1M111 444.5h1M116 444.5h1M124 444.5h1M128 444.5h1M104 445.5h1M107 445.5h1M112 445.5h1M116 445.5h1M122 445.5h1M137 445.5h2M106 446.5h1M109 446.5h1M128 446.5h1M104 447.5h2M117 447.5h1M104 448.5h1M104 449.5h3M112 449.5h4M125 449.5h1M107 450.5h1M109 450.5h2M130 450.5h1M103 451.5h2M106 451.5h1M108 451.5h1M113 451.5h1M125 451.5h1M128 451.5h1M103 452.5h1M105 452.5h2M108 452.5h1M117 452.5h1M102 453.5h2M109 453.5h1M132 453.5h1M139 453.5h1M141 453.5h1M102 454.5h1M104 454.5h2M110 454.5h2M120 454.5h1M132 454.5h1M101 455.5h1M103 455.5h2M114 455.5h2M120 455.5h1M101 456.5h1M103 456.5h2M107 456.5h1M113 456.5h1M115 456.5h1M121 456.5h1M100 457.5h2M110 457.5h1M114 457.5h1M117 457.5h1M103 458.5h1M138 458.5h1M145 458.5h1M147 458.5h1M103 459.5h1M98 460.5h2M103 460.5h1M105 460.5h2M110 460.5h1M99 461.5h1M101 461.5h1M108 461.5h1M102 462.5h3M106 462.5h1M110 462.5h1M113 462.5h1M96 463.5h1M99 463.5h2M105 463.5h1M108 463.5h1M112 463.5h1M115 463.5h1M96 464.5h1M98 464.5h1M100 464.5h1M94 465.5h1M98 465.5h1M128 465.5h1M138 465.5h1M93 466.5h2M93 467.5h2M99 467.5h1M106 467.5h2M121 467.5h1M135 467.5h2M143 467.5h1M92 468.5h1M95 468.5h4M132 468.5h1M91 469.5h1M93 469.5h1M96 469.5h1M98 469.5h2M108 469.5h1M118 469.5h1M122 469.5h1M92 470.5h3M120 470.5h1M89 471.5h2M102 471.5h1M118 471.5h1M129 471.5h1M88 472.5h1M90 472.5h3M112 472.5h1M89 473.5h1M95 473.5h1M106 473.5h1M87 474.5h1M89 474.5h3M93 474.5h1M120 474.5h1M122 474.5h1M135 474.5h1M89 475.5h1M92 475.5h1M133 475.5h1M90 476.5h1M95 476.5h1M120 476.5h1M137 476.5h1M142 476.5h1M86 477.5h1M88 477.5h1M93 477.5h1M102 477.5h1M110 477.5h1M121 477.5h1M125 477.5h1M133 477.5h1M85 478.5h1M93 478.5h1M113 478.5h1M83 479.5h1M109 479.5h1M82 480.5h1M86 480.5h1M99 480.5h1M103 480.5h1M85 481.5h1M95 481.5h1M80 483.5h1M87 483.5h1M108 483.5h1M79 484.5h1M79 485.5h1M82 485.5h1M98 485.5h1M111 485.5h1M127 485.5h1M78 486.5h1M87 486.5h1M108 486.5h1M117 486.5h1M148 486.5h1M109 487.5h1M76 488.5h1M84 488.5h1M94 488.5h1M143 488.5h1M93 489.5h2M131 489.5h1M73 490.5h1M76 490.5h1M115 490.5h1M126 490.5h1M133 490.5h1M72 491.5h1M106 491.5h1M71 492.5h1M75 492.5h1M98 492.5h1M70 493.5h3M84 493.5h1M116 493.5h1M120 493.5h1M131 493.5h1M142 493.5h1M70 494.5h1M75 494.5h1M90 494.5h1M98 494.5h2M71 495.5h2M88 495.5h1M117 495.5h1M121 495.5h1M123 495.5h1M69 496.5h1M86 496.5h1M70 497.5h1M63 498.5h1M111 498.5h1M67 499.5h1M117 499.5h1M127 499.5h1M133 499.5h1M72 500.5h1M105 500.5h1M60 501.5h1M72 501.5h1M136 501.5h1M59 502.5h1M87 502.5h1M128 502.5h1M137 502.5h1" stroke="#b0bdf4" stroke-width="1" fill="none" shape-rendering="crispEdges"/>
<g clip-path="url(#c1)">
<g filter="url(#hb)" transform="rotate(0.0 55.10 486.20)">
<ellipse cx="55.10" cy="486.20" rx="9.50" ry="9.00" fill="#2c64f2"/>
<ellipse cx="55.10" cy="486.20" rx="7.80" ry="7.40" fill="#3482f6"/>
<ellipse cx="55.10" cy="486.20" rx="6.50" ry="6.30" fill="#38d8f0"/>
<ellipse cx="55.10" cy="486.20" rx="5.70" ry="5.45" fill="#3fe04a"/>
<ellipse cx="55.10" cy="486.20" rx="3.00" ry="2.80" fill="#b0ea38"/>
<ellipse cx="55.10" cy="486.20" rx="1.70" ry="1.60" fill="#e8f028"/>
</g>
<g filter="url(#hb)" transform="rotate(0.0 37.20 499.30)">
<ellipse cx="37.20" cy="499.30" rx="6.00" ry="9.50" fill="#3482f6"/>
<ellipse cx="37.20" cy="499.30" rx="4.60" ry="8.00" fill="#38d8f0"/>
<ellipse cx="37.20" cy="499.30" rx="3.80" ry="6.80" fill="#3fe04a"/>
<ellipse cx="37.20" cy="499.30" rx="2.60" ry="4.00" fill="#e8f028"/>
<ellipse cx="37.20" cy="499.30" rx="1.60" ry="2.40" fill="#f21818"/>
</g>
</g>
<rect x="34.40" y="389.60" width="115.10" height="114.10" fill="none" stroke="#1e2150" stroke-width="1.15"/>
<line x1="34.40" y1="389.60" x2="149.50" y2="389.60" stroke="#1a1a1a" stroke-width="1.15"/>
<line x1="34.40" y1="389.60" x2="34.40" y2="503.70" stroke="#1a1a1a" stroke-width="1.15"/>
<polygon points="38.9,393.4 146.0,393.4 146.0,434.6 131.8,449.6 85.6,482.0 47.0,502.8 36.2,485.2" fill="none" stroke="#222" stroke-width="1.05" stroke-linejoin="miter"/>
<line x1="31.80" y1="503.50" x2="34.40" y2="503.50" stroke="#1a1a1a" stroke-width="0.90"/>
<line x1="32.90" y1="499.11" x2="34.40" y2="499.11" stroke="#1a1a1a" stroke-width="0.80"/>
<line x1="32.90" y1="494.72" x2="34.40" y2="494.72" stroke="#1a1a1a" stroke-width="0.80"/>
<line x1="32.90" y1="490.33" x2="34.40" y2="490.33" stroke="#1a1a1a" stroke-width="0.80"/>
<line x1="32.90" y1="485.94" x2="34.40" y2="485.94" stroke="#1a1a1a" stroke-width="0.80"/>
<line x1="31.80" y1="481.55" x2="34.40" y2="481.55" stroke="#1a1a1a" stroke-width="0.90"/>
<line x1="32.90" y1="477.16" x2="34.40" y2="477.16" stroke="#1a1a1a" stroke-width="0.80"/>
<line x1="32.90" y1="472.77" x2="34.40" y2="472.77" stroke="#1a1a1a" stroke-width="0.80"/>
<line x1="32.90" y1="468.38" x2="34.40" y2="468.38" stroke="#1a1a1a" stroke-width="0.80"/>
<line x1="32.90" y1="463.99" x2="34.40" y2="463.99" stroke="#1a1a1a" stroke-width="0.80"/>
<line x1="31.80" y1="459.60" x2="34.40" y2="459.60" stroke="#1a1a1a" stroke-width="0.90"/>
<line x1="32.90" y1="455.21" x2="34.40" y2="455.21" stroke="#1a1a1a" stroke-width="0.80"/>
<line x1="32.90" y1="450.82" x2="34.40" y2="450.82" stroke="#1a1a1a" stroke-width="0.80"/>
<line x1="32.90" y1="446.43" x2="34.40" y2="446.43" stroke="#1a1a1a" stroke-width="0.80"/>
<line x1="32.90" y1="442.04" x2="34.40" y2="442.04" stroke="#1a1a1a" stroke-width="0.80"/>
<line x1="31.80" y1="437.65" x2="34.40" y2="437.65" stroke="#1a1a1a" stroke-width="0.90"/>
<line x1="32.90" y1="433.26" x2="34.40" y2="433.26" stroke="#1a1a1a" stroke-width="0.80"/>
<line x1="32.90" y1="428.87" x2="34.40" y2="428.87" stroke="#1a1a1a" stroke-width="0.80"/>
<line x1="32.90" y1="424.48" x2="34.40" y2="424.48" stroke="#1a1a1a" stroke-width="0.80"/>
<line x1="32.90" y1="420.09" x2="34.40" y2="420.09" stroke="#1a1a1a" stroke-width="0.80"/>
<line x1="31.80" y1="415.70" x2="34.40" y2="415.70" stroke="#1a1a1a" stroke-width="0.90"/>
<line x1="32.90" y1="411.31" x2="34.40" y2="411.31" stroke="#1a1a1a" stroke-width="0.80"/>
<line x1="32.90" y1="406.92" x2="34.40" y2="406.92" stroke="#1a1a1a" stroke-width="0.80"/>
<line x1="32.90" y1="402.53" x2="34.40" y2="402.53" stroke="#1a1a1a" stroke-width="0.80"/>
<line x1="32.90" y1="398.14" x2="34.40" y2="398.14" stroke="#1a1a1a" stroke-width="0.80"/>
<line x1="31.80" y1="393.75" x2="34.40" y2="393.75" stroke="#1a1a1a" stroke-width="0.90"/>
<text transform="translate(31.20 505.78) scale(1.140 1)" font-size="6.90" text-anchor="end" fill="#1a1a1a">0</text>
<text transform="translate(31.20 483.83) scale(1.140 1)" font-size="6.90" text-anchor="end" fill="#1a1a1a">50K</text>
<text transform="translate(31.20 461.88) scale(1.140 1)" font-size="6.90" text-anchor="end" fill="#1a1a1a">100K</text>
<text transform="translate(31.20 439.93) scale(1.140 1)" font-size="6.90" text-anchor="end" fill="#1a1a1a">150K</text>
<text transform="translate(31.20 417.98) scale(1.140 1)" font-size="6.90" text-anchor="end" fill="#1a1a1a">200K</text>
<text transform="translate(31.20 396.03) scale(1.140 1)" font-size="6.90" text-anchor="end" fill="#1a1a1a">250K</text>
<line x1="34.90" y1="503.70" x2="34.90" y2="506.30" stroke="#1a1a1a" stroke-width="0.90"/>
<line x1="39.31" y1="503.70" x2="39.31" y2="505.20" stroke="#1a1a1a" stroke-width="0.80"/>
<line x1="43.72" y1="503.70" x2="43.72" y2="505.20" stroke="#1a1a1a" stroke-width="0.80"/>
<line x1="48.13" y1="503.70" x2="48.13" y2="505.20" stroke="#1a1a1a" stroke-width="0.80"/>
<line x1="52.54" y1="503.70" x2="52.54" y2="505.20" stroke="#1a1a1a" stroke-width="0.80"/>
<line x1="56.95" y1="503.70" x2="56.95" y2="506.30" stroke="#1a1a1a" stroke-width="0.90"/>
<line x1="61.36" y1="503.70" x2="61.36" y2="505.20" stroke="#1a1a1a" stroke-width="0.80"/>
<line x1="65.77" y1="503.70" x2="65.77" y2="505.20" stroke="#1a1a1a" stroke-width="0.80"/>
<line x1="70.18" y1="503.70" x2="70.18" y2="505.20" stroke="#1a1a1a" stroke-width="0.80"/>
<line x1="74.59" y1="503.70" x2="74.59" y2="505.20" stroke="#1a1a1a" stroke-width="0.80"/>
<line x1="79.00" y1="503.70" x2="79.00" y2="506.30" stroke="#1a1a1a" stroke-width="0.90"/>
<line x1="83.41" y1="503.70" x2="83.41" y2="505.20" stroke="#1a1a1a" stroke-width="0.80"/>
<line x1="87.82" y1="503.70" x2="87.82" y2="505.20" stroke="#1a1a1a" stroke-width="0.80"/>
<line x1="92.23" y1="503.70" x2="92.23" y2="505.20" stroke="#1a1a1a" stroke-width="0.80"/>
<line x1="96.64" y1="503.70" x2="96.64" y2="505.20" stroke="#1a1a1a" stroke-width="0.80"/>
<line x1="101.05" y1="503.70" x2="101.05" y2="506.30" stroke="#1a1a1a" stroke-width="0.90"/>
<line x1="105.46" y1="503.70" x2="105.46" y2="505.20" stroke="#1a1a1a" stroke-width="0.80"/>
<line x1="109.87" y1="503.70" x2="109.87" y2="505.20" stroke="#1a1a1a" stroke-width="0.80"/>
<line x1="114.28" y1="503.70" x2="114.28" y2="505.20" stroke="#1a1a1a" stroke-width="0.80"/>
<line x1="118.69" y1="503.70" x2="118.69" y2="505.20" stroke="#1a1a1a" stroke-width="0.80"/>
<line x1="123.10" y1="503.70" x2="123.10" y2="506.30" stroke="#1a1a1a" stroke-width="0.90"/>
<line x1="127.51" y1="503.70" x2="127.51" y2="505.20" stroke="#1a1a1a" stroke-width="0.80"/>
<line x1="131.92" y1="503.70" x2="131.92" y2="505.20" stroke="#1a1a1a" stroke-width="0.80"/>
<line x1="136.33" y1="503.70" x2="136.33" y2="505.20" stroke="#1a1a1a" stroke-width="0.80"/>
<line x1="140.74" y1="503.70" x2="140.74" y2="505.20" stroke="#1a1a1a" stroke-width="0.80"/>
<line x1="145.15" y1="503.70" x2="145.15" y2="506.30" stroke="#1a1a1a" stroke-width="0.90"/>
<text transform="translate(34.90 512.68) scale(1.140 1)" font-size="6.90" text-anchor="middle" fill="#1a1a1a">0</text>
<text transform="translate(56.95 512.68) scale(1.140 1)" font-size="6.90" text-anchor="middle" fill="#1a1a1a">50K</text>
<text transform="translate(79.00 512.68) scale(1.140 1)" font-size="6.90" text-anchor="middle" fill="#1a1a1a">100K</text>
<text transform="translate(101.05 512.68) scale(1.140 1)" font-size="6.90" text-anchor="middle" fill="#1a1a1a">150K</text>
<text transform="translate(123.10 512.68) scale(1.140 1)" font-size="6.90" text-anchor="middle" fill="#1a1a1a">200K</text>
<text transform="translate(145.15 512.68) scale(1.140 1)" font-size="6.90" text-anchor="middle" fill="#1a1a1a">250K</text>
<text transform="translate(6.80 446.20) rotate(-90) scale(1 1.140)" x="0" y="2.66" font-size="7.40" text-anchor="middle" fill="#1a1a1a">SSC-A</text>
<text transform="translate(93.00 526.12) scale(1.140 1)" font-size="7.00" text-anchor="middle" fill="#1a1a1a">FSC-A</text>
<line x1="150.20" y1="442.70" x2="162.70" y2="442.70" stroke="#333" stroke-width="0.90"/>
<polygon points="161.90,438.70 166.90,442.70 161.90,446.70" fill="#111"/>
<path d="M251 459.5h3M247 460.5h2M250 460.5h5M245 461.5h10M243 462.5h12M241 463.5h13M239 464.5h14M238 465.5h14M236 466.5h17M235 467.5h16M233 468.5h18M232 469.5h18M230 470.5h20M229 471.5h20M228 472.5h20M226 473.5h19M246 473.5h1M225 474.5h21M225 475.5h20M223 476.5h21M222 477.5h21M221 478.5h21M219 479.5h22M218 480.5h2M221 480.5h18M217 481.5h21M216 482.5h19M236 482.5h1M215 483.5h20M214 484.5h20M213 485.5h19M212 486.5h19M211 487.5h18M210 488.5h18M209 489.5h17M209 490.5h16M208 491.5h15M207 492.5h12M220 492.5h1M206 493.5h14M206 494.5h12M205 495.5h11M205 496.5h9M204 497.5h8M204 498.5h6" stroke="#2352ee" stroke-width="1" fill="none" shape-rendering="crispEdges"/>
<path d="M253 456.5h2M257 456.5h2M250 457.5h1M252 457.5h7M249 458.5h9M259 458.5h1M245 459.5h6M254 459.5h5M242 460.5h5M255 460.5h5M240 461.5h5M255 461.5h4M238 462.5h5M255 462.5h5M237 463.5h1M239 463.5h2M255 463.5h2M259 463.5h1M236 464.5h3M254 464.5h6M233 465.5h5M253 465.5h4M259 465.5h1M234 466.5h2M253 466.5h3M257 466.5h3M232 467.5h3M252 467.5h7M229 468.5h4M252 468.5h1M254 468.5h3M258 468.5h2M229 469.5h3M251 469.5h4M256 469.5h1M258 469.5h1M227 470.5h3M250 470.5h1M252 470.5h7M249 471.5h1M251 471.5h4M256 471.5h2M226 472.5h2M248 472.5h9M224 473.5h2M247 473.5h9M224 474.5h1M246 474.5h2M249 474.5h1M251 474.5h2M254 474.5h2M222 475.5h2M245 475.5h7M221 476.5h1M244 476.5h7M252 476.5h2M220 477.5h2M243 477.5h10M220 478.5h1M242 478.5h3M246 478.5h1M248 478.5h3M218 479.5h1M241 479.5h10M217 480.5h1M239 480.5h1M241 480.5h2M244 480.5h2M248 480.5h2M239 481.5h10M215 482.5h1M237 482.5h2M240 482.5h7M214 483.5h1M235 483.5h4M240 483.5h1M243 483.5h3M213 484.5h1M234 484.5h4M239 484.5h4M211 485.5h1M232 485.5h9M211 486.5h1M231 486.5h5M237 486.5h3M210 487.5h1M229 487.5h8M209 488.5h1M228 488.5h2M232 488.5h2M208 489.5h1M226 489.5h4M207 490.5h2M225 490.5h2M206 491.5h2M223 491.5h2M205 492.5h2M204 493.5h2M220 493.5h2M204 494.5h2M218 494.5h2M203 495.5h2M217 495.5h2M203 496.5h2M214 496.5h1M216 496.5h1M202 497.5h2M212 497.5h3M201 498.5h3M210 498.5h3M202 499.5h9M201 500.5h8M201 501.5h4" stroke="#3c66ef" stroke-width="1" fill="none" shape-rendering="crispEdges"/>
<path d="M261 451.5h1M255 452.5h1M259 452.5h1M262 452.5h1M250 453.5h1M253 453.5h1M256 453.5h1M258 453.5h1M261 453.5h1M265 453.5h2M246 454.5h1M249 454.5h5M255 454.5h1M258 454.5h1M260 454.5h3M246 455.5h2M249 455.5h1M252 455.5h1M259 455.5h1M262 455.5h2M268 455.5h2M241 456.5h2M244 456.5h1M248 456.5h4M259 456.5h2M262 456.5h1M265 456.5h1M267 456.5h1M269 456.5h2M238 457.5h1M241 457.5h1M244 457.5h3M248 457.5h2M260 457.5h6M270 457.5h1M237 458.5h2M242 458.5h4M265 458.5h2M269 458.5h1M235 459.5h4M241 459.5h4M261 459.5h1M263 459.5h2M266 459.5h1M234 460.5h3M239 460.5h3M260 460.5h1M262 460.5h2M265 460.5h1M235 461.5h3M239 461.5h1M260 461.5h2M264 461.5h1M266 461.5h2M269 461.5h2M231 462.5h1M234 462.5h1M236 462.5h2M260 462.5h2M265 462.5h4M228 463.5h2M232 463.5h2M235 463.5h1M260 463.5h1M262 463.5h2M269 463.5h1M228 464.5h2M232 464.5h3M261 464.5h1M263 464.5h1M265 464.5h1M267 464.5h2M227 465.5h3M231 465.5h2M261 465.5h3M265 465.5h1M267 465.5h1M227 466.5h2M231 466.5h1M260 466.5h1M263 466.5h1M265 466.5h1M225 467.5h2M229 467.5h2M261 467.5h1M263 467.5h1M265 467.5h1M267 467.5h1M224 468.5h2M227 468.5h2M260 468.5h1M263 468.5h1M265 468.5h1M221 469.5h4M226 469.5h2M259 469.5h2M262 469.5h3M266 469.5h1M222 470.5h1M224 470.5h3M259 470.5h1M261 470.5h3M225 471.5h1M259 471.5h3M264 471.5h1M220 472.5h1M259 472.5h1M220 473.5h3M257 473.5h5M219 474.5h3M257 474.5h2M260 474.5h2M219 475.5h3M255 475.5h2M258 475.5h1M261 475.5h1M218 476.5h1M220 476.5h1M254 476.5h2M259 476.5h2M216 477.5h4M253 477.5h1M255 477.5h2M258 477.5h2M215 478.5h4M252 478.5h2M256 478.5h2M216 479.5h2M251 479.5h2M254 479.5h2M258 479.5h1M213 480.5h4M250 480.5h2M255 480.5h1M214 481.5h2M249 481.5h1M251 481.5h2M254 481.5h2M214 482.5h1M247 482.5h3M211 483.5h2M247 483.5h2M250 483.5h3M244 484.5h1M248 484.5h1M250 484.5h2M244 485.5h3M248 485.5h1M250 485.5h1M242 486.5h2M245 486.5h3M249 486.5h1M209 487.5h1M237 487.5h3M241 487.5h2M245 487.5h1M208 488.5h1M235 488.5h5M241 488.5h4M206 489.5h2M230 489.5h3M234 489.5h2M237 489.5h1M239 489.5h3M244 489.5h1M227 490.5h5M233 490.5h3M242 490.5h1M204 491.5h2M228 491.5h6M236 491.5h1M240 491.5h1M204 492.5h1M224 492.5h2M227 492.5h1M233 492.5h1M203 493.5h1M222 493.5h2M225 493.5h3M229 493.5h1M220 494.5h1M222 494.5h1M224 494.5h1M231 494.5h1M202 495.5h1M219 495.5h1M222 495.5h1M224 495.5h2M200 496.5h1M218 496.5h1M200 497.5h2M200 498.5h1M213 498.5h1M200 499.5h1M211 499.5h2M200 500.5h1M198 501.5h1M200 501.5h1M206 501.5h2M198 502.5h1M200 502.5h3M204 502.5h2" stroke="#7190f2" stroke-width="1" fill="none" shape-rendering="crispEdges"/>
<path d="M228 392.5h1M227 393.5h1M216 396.5h1M263 397.5h1M308 397.5h1M244 398.5h1M263 399.5h1M307 402.5h1M249 403.5h1M231 404.5h1M256 404.5h1M212 405.5h1M273 405.5h1M249 406.5h1M292 406.5h1M222 410.5h1M272 410.5h1M271 413.5h1M288 413.5h1M209 414.5h1M281 415.5h1M199 416.5h1M275 418.5h1M291 418.5h1M293 418.5h1M234 419.5h1M300 419.5h1M277 421.5h1M285 421.5h1M294 421.5h1M309 423.5h1M200 424.5h1M280 424.5h2M302 424.5h1M304 424.5h1M283 425.5h1M303 425.5h1M308 426.5h1M285 427.5h1M216 428.5h1M257 428.5h1M278 428.5h1M281 428.5h1M283 428.5h1M288 428.5h1M298 428.5h1M260 429.5h1M214 430.5h1M260 430.5h1M264 430.5h1M287 431.5h1M302 431.5h1M234 432.5h1M247 432.5h1M251 432.5h1M265 432.5h1M286 432.5h1M291 432.5h1M258 433.5h1M290 433.5h2M213 434.5h1M241 434.5h1M255 434.5h1M267 434.5h2M274 434.5h2M281 434.5h1M298 434.5h1M226 435.5h1M238 435.5h1M282 435.5h1M290 435.5h1M294 435.5h1M262 436.5h1M265 436.5h1M268 436.5h1M279 436.5h3M283 436.5h3M289 436.5h3M266 437.5h1M296 437.5h1M241 438.5h1M249 438.5h1M252 438.5h1M286 438.5h1M214 439.5h1M248 439.5h1M263 439.5h1M231 440.5h2M278 440.5h1M293 440.5h1M296 440.5h1M255 441.5h1M257 441.5h1M274 441.5h1M281 441.5h1M285 441.5h1M289 441.5h2M296 441.5h2M237 442.5h1M244 442.5h1M247 442.5h1M253 442.5h1M264 442.5h1M267 442.5h1M272 442.5h1M274 442.5h1M286 442.5h1M298 442.5h1M226 443.5h1M230 443.5h1M255 443.5h1M262 443.5h2M265 443.5h1M271 443.5h2M274 443.5h1M288 443.5h2M301 443.5h1M304 443.5h1M212 444.5h1M255 444.5h1M257 444.5h1M262 444.5h1M265 444.5h1M268 444.5h1M272 444.5h2M283 444.5h1M292 444.5h2M295 444.5h1M298 444.5h1M305 444.5h1M247 445.5h1M251 445.5h1M259 445.5h2M265 445.5h1M273 445.5h1M276 445.5h1M279 445.5h1M285 445.5h1M305 445.5h1M258 446.5h1M261 446.5h1M264 446.5h1M268 446.5h1M271 446.5h1M273 446.5h1M275 446.5h1M277 446.5h1M281 446.5h1M289 446.5h1M291 446.5h1M297 446.5h1M229 447.5h1M242 447.5h1M248 447.5h2M251 447.5h1M256 447.5h1M260 447.5h1M269 447.5h1M276 447.5h1M278 447.5h2M283 447.5h1M292 447.5h2M297 447.5h1M306 447.5h1M221 448.5h1M229 448.5h1M233 448.5h1M241 448.5h1M251 448.5h2M255 448.5h1M262 448.5h1M264 448.5h1M266 448.5h1M269 448.5h1M275 448.5h1M286 448.5h1M297 448.5h1M248 449.5h1M250 449.5h1M255 449.5h1M261 449.5h1M264 449.5h1M269 449.5h2M275 449.5h1M281 449.5h1M283 449.5h1M297 449.5h1M309 449.5h1M240 450.5h1M244 450.5h1M256 450.5h1M262 450.5h1M266 450.5h1M280 450.5h1M282 450.5h1M286 450.5h1M296 450.5h1M245 451.5h1M249 451.5h1M252 451.5h1M256 451.5h1M259 451.5h1M263 451.5h4M268 451.5h3M273 451.5h1M275 451.5h2M279 451.5h1M284 451.5h1M310 451.5h1M223 452.5h1M241 452.5h1M245 452.5h1M251 452.5h1M267 452.5h2M279 452.5h1M300 452.5h1M230 453.5h1M242 453.5h1M245 453.5h2M248 453.5h1M274 453.5h2M279 453.5h2M294 453.5h1M310 453.5h1M242 454.5h1M281 454.5h1M293 454.5h1M298 454.5h1M306 454.5h1M217 455.5h2M226 455.5h1M231 455.5h1M270 455.5h1M272 455.5h3M276 455.5h2M282 455.5h1M286 455.5h1M296 455.5h1M232 456.5h1M271 456.5h1M274 456.5h1M285 456.5h2M207 457.5h1M225 457.5h2M230 457.5h1M234 457.5h2M271 457.5h1M279 457.5h1M282 457.5h1M221 458.5h1M278 458.5h1M289 458.5h1M310 458.5h1M229 459.5h1M232 459.5h2M271 459.5h1M274 459.5h1M277 459.5h1M280 459.5h1M223 460.5h1M227 460.5h1M271 460.5h1M273 460.5h1M279 460.5h1M284 460.5h1M288 460.5h1M199 461.5h1M273 461.5h1M277 461.5h1M225 462.5h1M274 462.5h1M281 462.5h1M294 462.5h2M272 463.5h1M276 463.5h1M278 463.5h1M282 463.5h1M291 463.5h1M305 463.5h1M218 464.5h1M221 464.5h1M225 464.5h2M274 464.5h1M289 464.5h1M212 465.5h1M219 465.5h1M223 465.5h1M225 465.5h1M282 465.5h1M220 466.5h2M223 466.5h2M269 466.5h1M294 466.5h1M209 467.5h2M219 467.5h3M268 467.5h3M272 467.5h1M274 467.5h1M219 468.5h2M268 468.5h2M275 468.5h1M283 468.5h2M215 469.5h1M218 469.5h1M267 469.5h1M270 469.5h2M277 469.5h1M289 469.5h1M202 470.5h1M204 470.5h1M214 470.5h1M270 470.5h1M283 470.5h1M289 470.5h1M301 470.5h1M214 471.5h1M218 471.5h2M267 471.5h1M272 471.5h1M274 471.5h1M284 471.5h1M216 472.5h3M266 472.5h1M268 472.5h1M303 472.5h1M265 473.5h3M270 473.5h2M201 474.5h1M212 474.5h2M215 474.5h1M265 474.5h1M267 474.5h1M270 474.5h1M213 475.5h2M264 475.5h1M266 475.5h2M272 475.5h1M206 476.5h2M210 476.5h1M213 476.5h1M215 476.5h1M266 476.5h1M268 476.5h1M295 476.5h1M201 477.5h1M262 477.5h1M267 477.5h1M212 478.5h2M260 478.5h1M277 478.5h1M292 478.5h1M201 479.5h1M206 479.5h1M260 479.5h2M275 480.5h1M212 481.5h1M268 481.5h1M273 481.5h1M197 482.5h1M210 482.5h1M257 482.5h1M261 482.5h1M269 482.5h1M279 482.5h1M198 483.5h2M205 483.5h1M208 483.5h1M254 483.5h1M257 483.5h1M203 484.5h1M207 484.5h1M210 484.5h1M254 484.5h2M257 484.5h1M262 484.5h1M268 484.5h1M204 485.5h2M207 485.5h2M251 485.5h3M264 485.5h1M289 485.5h1M205 486.5h1M207 486.5h1M252 486.5h1M255 486.5h1M257 486.5h1M266 486.5h1M207 487.5h1M248 487.5h2M251 487.5h1M254 487.5h1M247 488.5h1M249 488.5h1M251 488.5h1M256 488.5h1M197 489.5h1M247 489.5h2M262 489.5h1M198 490.5h1M200 490.5h1M246 490.5h1M257 490.5h1M271 490.5h1M241 491.5h1M243 491.5h1M255 491.5h1M202 492.5h1M241 492.5h2M248 492.5h3M199 493.5h1M238 493.5h1M269 493.5h1M201 494.5h1M235 494.5h1M243 494.5h1M247 494.5h1M249 494.5h1M265 494.5h1M200 495.5h1M230 495.5h1M246 495.5h2M223 496.5h1M228 496.5h3M234 496.5h1M246 496.5h1M259 496.5h1M300 496.5h1M198 497.5h1M219 497.5h2M222 497.5h1M224 497.5h1M226 497.5h1M228 497.5h1M233 497.5h2M197 498.5h1M222 498.5h1M226 498.5h2M229 498.5h1M233 498.5h1M240 498.5h1M248 498.5h1M197 499.5h1M216 499.5h3M220 499.5h1M222 499.5h1M228 499.5h2M232 499.5h1M234 499.5h1M237 499.5h1M197 500.5h1M212 500.5h2M219 500.5h1M225 500.5h1M231 500.5h1M233 500.5h1M251 500.5h1M212 501.5h1M214 501.5h2M218 501.5h1M221 501.5h1M224 501.5h1M229 501.5h1M236 501.5h1M250 501.5h1M207 502.5h1M218 502.5h1M225 502.5h1M228 502.5h1M230 502.5h1M238 502.5h1M241 502.5h1" stroke="#b0bdf4" stroke-width="1" fill="none" shape-rendering="crispEdges"/>
<g filter="url(#hb)" transform="rotate(-40.0 213.00 488.00)">
<ellipse cx="213.00" cy="488.00" rx="7.00" ry="1.00" fill="#30b8e8"/>
<ellipse cx="213.00" cy="488.00" rx="3.50" ry="0.70" fill="#40d890"/>
</g>
<rect x="197.00" y="389.50" width="115.00" height="114.30" fill="none" stroke="#1a1a1a" stroke-width="1.15"/>
<polygon points="199.6,500.3 253.7,444.8 297.9,410.3 305.5,425.9 201.0,502.6" fill="none" stroke="#222" stroke-width="1.05" stroke-linejoin="miter"/>
<line x1="194.40" y1="503.50" x2="197.00" y2="503.50" stroke="#1a1a1a" stroke-width="0.90"/>
<line x1="195.50" y1="499.11" x2="197.00" y2="499.11" stroke="#1a1a1a" stroke-width="0.80"/>
<line x1="195.50" y1="494.72" x2="197.00" y2="494.72" stroke="#1a1a1a" stroke-width="0.80"/>
<line x1="195.50" y1="490.33" x2="197.00" y2="490.33" stroke="#1a1a1a" stroke-width="0.80"/>
<line x1="195.50" y1="485.94" x2="197.00" y2="485.94" stroke="#1a1a1a" stroke-width="0.80"/>
<line x1="194.40" y1="481.55" x2="197.00" y2="481.55" stroke="#1a1a1a" stroke-width="0.90"/>
<line x1="195.50" y1="477.16" x2="197.00" y2="477.16" stroke="#1a1a1a" stroke-width="0.80"/>
<line x1="195.50" y1="472.77" x2="197.00" y2="472.77" stroke="#1a1a1a" stroke-width="0.80"/>
<line x1="195.50" y1="468.38" x2="197.00" y2="468.38" stroke="#1a1a1a" stroke-width="0.80"/>
<line x1="195.50" y1="463.99" x2="197.00" y2="463.99" stroke="#1a1a1a" stroke-width="0.80"/>
<line x1="194.40" y1="459.60" x2="197.00" y2="459.60" stroke="#1a1a1a" stroke-width="0.90"/>
<line x1="195.50" y1="455.21" x2="197.00" y2="455.21" stroke="#1a1a1a" stroke-width="0.80"/>
<line x1="195.50" y1="450.82" x2="197.00" y2="450.82" stroke="#1a1a1a" stroke-width="0.80"/>
<line x1="195.50" y1="446.43" x2="197.00" y2="446.43" stroke="#1a1a1a" stroke-width="0.80"/>
<line x1="195.50" y1="442.04" x2="197.00" y2="442.04" stroke="#1a1a1a" stroke-width="0.80"/>
<line x1="194.40" y1="437.65" x2="197.00" y2="437.65" stroke="#1a1a1a" stroke-width="0.90"/>
<line x1="195.50" y1="433.26" x2="197.00" y2="433.26" stroke="#1a1a1a" stroke-width="0.80"/>
<line x1="195.50" y1="428.87" x2="197.00" y2="428.87" stroke="#1a1a1a" stroke-width="0.80"/>
<line x1="195.50" y1="424.48" x2="197.00" y2="424.48" stroke="#1a1a1a" stroke-width="0.80"/>
<line x1="195.50" y1="420.09" x2="197.00" y2="420.09" stroke="#1a1a1a" stroke-width="0.80"/>
<line x1="194.40" y1="415.70" x2="197.00" y2="415.70" stroke="#1a1a1a" stroke-width="0.90"/>
<line x1="195.50" y1="411.31" x2="197.00" y2="411.31" stroke="#1a1a1a" stroke-width="0.80"/>
<line x1="195.50" y1="406.92" x2="197.00" y2="406.92" stroke="#1a1a1a" stroke-width="0.80"/>
<line x1="195.50" y1="402.53" x2="197.00" y2="402.53" stroke="#1a1a1a" stroke-width="0.80"/>
<line x1="195.50" y1="398.14" x2="197.00" y2="398.14" stroke="#1a1a1a" stroke-width="0.80"/>
<line x1="194.40" y1="393.75" x2="197.00" y2="393.75" stroke="#1a1a1a" stroke-width="0.90"/>
<text transform="translate(193.80 505.78) scale(1.140 1)" font-size="6.90" text-anchor="end" fill="#1a1a1a">0</text>
<text transform="translate(193.80 483.83) scale(1.140 1)" font-size="6.90" text-anchor="end" fill="#1a1a1a">50K</text>
<text transform="translate(193.80 461.88) scale(1.140 1)" font-size="6.90" text-anchor="end" fill="#1a1a1a">100K</text>
<text transform="translate(193.80 439.93) scale(1.140 1)" font-size="6.90" text-anchor="end" fill="#1a1a1a">150K</text>
<text transform="translate(193.80 417.98) scale(1.140 1)" font-size="6.90" text-anchor="end" fill="#1a1a1a">200K</text>
<text transform="translate(193.80 396.03) scale(1.140 1)" font-size="6.90" text-anchor="end" fill="#1a1a1a">250K</text>
<line x1="198.00" y1="503.80" x2="198.00" y2="506.40" stroke="#1a1a1a" stroke-width="0.90"/>
<line x1="202.39" y1="503.80" x2="202.39" y2="505.30" stroke="#1a1a1a" stroke-width="0.80"/>
<line x1="206.78" y1="503.80" x2="206.78" y2="505.30" stroke="#1a1a1a" stroke-width="0.80"/>
<line x1="211.17" y1="503.80" x2="211.17" y2="505.30" stroke="#1a1a1a" stroke-width="0.80"/>
<line x1="215.56" y1="503.80" x2="215.56" y2="505.30" stroke="#1a1a1a" stroke-width="0.80"/>
<line x1="219.95" y1="503.80" x2="219.95" y2="506.40" stroke="#1a1a1a" stroke-width="0.90"/>
<line x1="224.34" y1="503.80" x2="224.34" y2="505.30" stroke="#1a1a1a" stroke-width="0.80"/>
<line x1="228.73" y1="503.80" x2="228.73" y2="505.30" stroke="#1a1a1a" stroke-width="0.80"/>
<line x1="233.12" y1="503.80" x2="233.12" y2="505.30" stroke="#1a1a1a" stroke-width="0.80"/>
<line x1="237.51" y1="503.80" x2="237.51" y2="505.30" stroke="#1a1a1a" stroke-width="0.80"/>
<line x1="241.90" y1="503.80" x2="241.90" y2="506.40" stroke="#1a1a1a" stroke-width="0.90"/>
<line x1="246.29" y1="503.80" x2="246.29" y2="505.30" stroke="#1a1a1a" stroke-width="0.80"/>
<line x1="250.68" y1="503.80" x2="250.68" y2="505.30" stroke="#1a1a1a" stroke-width="0.80"/>
<line x1="255.07" y1="503.80" x2="255.07" y2="505.30" stroke="#1a1a1a" stroke-width="0.80"/>
<line x1="259.46" y1="503.80" x2="259.46" y2="505.30" stroke="#1a1a1a" stroke-width="0.80"/>
<line x1="263.85" y1="503.80" x2="263.85" y2="506.40" stroke="#1a1a1a" stroke-width="0.90"/>
<line x1="268.24" y1="503.80" x2="268.24" y2="505.30" stroke="#1a1a1a" stroke-width="0.80"/>
<line x1="272.63" y1="503.80" x2="272.63" y2="505.30" stroke="#1a1a1a" stroke-width="0.80"/>
<line x1="277.02" y1="503.80" x2="277.02" y2="505.30" stroke="#1a1a1a" stroke-width="0.80"/>
<line x1="281.41" y1="503.80" x2="281.41" y2="505.30" stroke="#1a1a1a" stroke-width="0.80"/>
<line x1="285.80" y1="503.80" x2="285.80" y2="506.40" stroke="#1a1a1a" stroke-width="0.90"/>
<line x1="290.19" y1="503.80" x2="290.19" y2="505.30" stroke="#1a1a1a" stroke-width="0.80"/>
<line x1="294.58" y1="503.80" x2="294.58" y2="505.30" stroke="#1a1a1a" stroke-width="0.80"/>
<line x1="298.97" y1="503.80" x2="298.97" y2="505.30" stroke="#1a1a1a" stroke-width="0.80"/>
<line x1="303.36" y1="503.80" x2="303.36" y2="505.30" stroke="#1a1a1a" stroke-width="0.80"/>
<line x1="307.75" y1="503.80" x2="307.75" y2="506.40" stroke="#1a1a1a" stroke-width="0.90"/>
<text transform="translate(198.00 512.68) scale(1.140 1)" font-size="6.90" text-anchor="middle" fill="#1a1a1a">0</text>
<text transform="translate(219.95 512.68) scale(1.140 1)" font-size="6.90" text-anchor="middle" fill="#1a1a1a">50K</text>
<text transform="translate(241.90 512.68) scale(1.140 1)" font-size="6.90" text-anchor="middle" fill="#1a1a1a">100K</text>
<text transform="translate(263.85 512.68) scale(1.140 1)" font-size="6.90" text-anchor="middle" fill="#1a1a1a">150K</text>
<text transform="translate(285.80 512.68) scale(1.140 1)" font-size="6.90" text-anchor="middle" fill="#1a1a1a">200K</text>
<text transform="translate(307.75 512.68) scale(1.140 1)" font-size="6.90" text-anchor="middle" fill="#1a1a1a">250K</text>
<text transform="translate(171.20 447.60) rotate(-90) scale(1 1.220)" x="0" y="2.38" font-size="6.60" text-anchor="middle" fill="#1a1a1a">FSC-H</text>
<text transform="translate(255.20 526.12) scale(1.140 1)" font-size="7.00" text-anchor="middle" fill="#1a1a1a">FSC-A</text>
<line x1="312.80" y1="442.70" x2="325.80" y2="442.70" stroke="#333" stroke-width="0.90"/>
<polygon points="325.00,438.70 330.00,442.70 325.00,446.70" fill="#111"/>
<path d="M397 470.5h8M393 471.5h15M391 472.5h1M393 472.5h17M390 473.5h21M389 474.5h24M388 475.5h26M387 476.5h28M386 477.5h29M385 478.5h31M385 479.5h31M384 480.5h33M384 481.5h33M384 482.5h27M412 482.5h6M384 483.5h35M383 484.5h37M425 484.5h17M383 485.5h62M383 486.5h65M383 487.5h66M383 488.5h67M383 489.5h68M384 490.5h68M384 491.5h68M384 492.5h68M385 493.5h66M385 494.5h65M386 495.5h63M386 496.5h62M387 497.5h59M388 498.5h55M389 499.5h25M421 499.5h19M390 500.5h22M426 500.5h9M392 501.5h12M405 501.5h5M394 502.5h13" stroke="#2352ee" stroke-width="1" fill="none" shape-rendering="crispEdges"/>
<path d="M397 467.5h2M400 467.5h5M394 468.5h3M399 468.5h9M391 469.5h3M395 469.5h16M390 470.5h5M406 470.5h6M389 471.5h4M408 471.5h2M411 471.5h2M388 472.5h1M410 472.5h3M414 472.5h1M387 473.5h1M389 473.5h1M411 473.5h4M385 474.5h1M387 474.5h1M413 474.5h3M384 475.5h1M386 475.5h2M414 475.5h2M417 475.5h1M384 476.5h3M415 476.5h3M383 477.5h3M415 477.5h3M382 478.5h3M416 478.5h3M382 479.5h2M416 479.5h4M382 480.5h2M417 480.5h4M432 480.5h1M441 480.5h1M443 480.5h2M381 481.5h3M417 481.5h2M420 481.5h3M426 481.5h4M431 481.5h4M436 481.5h11M448 481.5h3M381 482.5h3M418 482.5h3M422 482.5h3M426 482.5h2M430 482.5h13M444 482.5h5M450 482.5h1M452 482.5h2M382 483.5h2M419 483.5h13M433 483.5h16M450 483.5h5M381 484.5h2M420 484.5h5M442 484.5h6M449 484.5h2M452 484.5h1M454 484.5h2M457 484.5h1M382 485.5h1M445 485.5h13M381 486.5h2M448 486.5h8M457 486.5h3M381 487.5h2M449 487.5h11M381 488.5h2M450 488.5h2M453 488.5h1M456 488.5h2M459 488.5h2M381 489.5h2M451 489.5h7M382 490.5h2M452 490.5h6M459 490.5h2M381 491.5h3M452 491.5h3M456 491.5h4M381 492.5h3M453 492.5h2M456 492.5h5M382 493.5h1M384 493.5h1M452 493.5h3M456 493.5h4M382 494.5h3M450 494.5h10M384 495.5h2M449 495.5h8M458 495.5h1M383 496.5h3M448 496.5h11M384 497.5h3M446 497.5h7M456 497.5h1M384 498.5h2M387 498.5h1M443 498.5h3M447 498.5h9M385 499.5h1M387 499.5h2M414 499.5h7M440 499.5h4M445 499.5h3M449 499.5h4M386 500.5h1M388 500.5h2M412 500.5h2M415 500.5h7M423 500.5h3M435 500.5h8M445 500.5h1M447 500.5h3M388 501.5h4M410 501.5h5M416 501.5h2M419 501.5h11M431 501.5h2M434 501.5h5M440 501.5h1M442 501.5h4M389 502.5h5M407 502.5h6M422 502.5h2M425 502.5h4M431 502.5h9" stroke="#3c66ef" stroke-width="1" fill="none" shape-rendering="crispEdges"/>
<path d="M395 465.5h1M397 465.5h1M400 465.5h3M404 465.5h1M394 466.5h6M401 466.5h3M410 466.5h2M390 467.5h1M393 467.5h2M405 467.5h2M409 467.5h2M389 468.5h1M393 468.5h1M408 468.5h3M412 468.5h3M433 468.5h2M388 469.5h3M413 469.5h2M416 469.5h1M428 469.5h1M431 469.5h2M436 469.5h1M438 469.5h3M388 470.5h1M412 470.5h2M415 470.5h1M425 470.5h5M432 470.5h4M437 470.5h2M440 470.5h1M442 470.5h1M386 471.5h2M414 471.5h2M419 471.5h4M424 471.5h1M429 471.5h1M432 471.5h2M435 471.5h1M439 471.5h2M444 471.5h1M384 472.5h2M415 472.5h3M419 472.5h2M422 472.5h4M428 472.5h2M431 472.5h2M438 472.5h3M445 472.5h2M416 473.5h2M422 473.5h2M427 473.5h3M433 473.5h2M439 473.5h1M441 473.5h1M445 473.5h1M449 473.5h1M451 473.5h2M383 474.5h1M418 474.5h3M423 474.5h1M425 474.5h2M428 474.5h4M433 474.5h2M436 474.5h1M438 474.5h1M440 474.5h2M452 474.5h2M383 475.5h1M418 475.5h1M421 475.5h1M423 475.5h1M427 475.5h1M429 475.5h1M431 475.5h2M434 475.5h1M439 475.5h2M442 475.5h1M444 475.5h1M447 475.5h3M453 475.5h1M456 475.5h1M381 476.5h3M418 476.5h4M423 476.5h3M427 476.5h2M430 476.5h1M434 476.5h2M441 476.5h1M444 476.5h2M447 476.5h1M449 476.5h3M381 477.5h2M423 477.5h1M427 477.5h1M429 477.5h1M434 477.5h1M436 477.5h1M441 477.5h1M444 477.5h2M448 477.5h1M450 477.5h2M453 477.5h1M456 477.5h1M458 477.5h1M419 478.5h2M422 478.5h1M424 478.5h2M427 478.5h2M431 478.5h2M435 478.5h1M439 478.5h1M441 478.5h2M445 478.5h1M447 478.5h1M449 478.5h1M452 478.5h3M456 478.5h1M459 478.5h1M420 479.5h4M426 479.5h1M428 479.5h1M432 479.5h1M435 479.5h3M440 479.5h7M450 479.5h4M456 479.5h1M458 479.5h2M461 479.5h1M381 480.5h1M425 480.5h2M429 480.5h2M445 480.5h1M447 480.5h2M452 480.5h1M455 480.5h1M458 480.5h1M462 480.5h1M379 481.5h2M423 481.5h2M451 481.5h4M456 481.5h1M459 481.5h1M462 481.5h1M380 482.5h1M454 482.5h5M461 482.5h1M463 482.5h1M464 483.5h1M379 484.5h2M458 484.5h4M463 484.5h1M379 485.5h2M459 485.5h1M461 485.5h2M466 485.5h1M380 486.5h1M460 486.5h3M466 486.5h1M461 487.5h3M465 487.5h1M379 488.5h2M461 488.5h1M464 488.5h1M467 488.5h1M379 489.5h1M462 489.5h1M466 489.5h1M379 490.5h2M461 490.5h1M464 490.5h1M467 490.5h1M380 491.5h1M461 491.5h5M379 492.5h2M461 492.5h1M463 492.5h1M466 492.5h1M381 493.5h1M461 493.5h2M464 493.5h2M460 494.5h4M465 494.5h2M381 495.5h2M463 495.5h1M381 496.5h1M459 496.5h3M464 496.5h2M383 497.5h1M459 497.5h4M382 498.5h2M456 498.5h1M458 498.5h1M461 498.5h1M383 499.5h2M453 499.5h1M455 499.5h1M457 499.5h1M459 499.5h1M450 500.5h2M455 500.5h1M459 500.5h1M385 501.5h2M446 501.5h9M456 501.5h1M458 501.5h1M387 502.5h1M413 502.5h2M416 502.5h2M419 502.5h1M441 502.5h1M445 502.5h1M447 502.5h2M450 502.5h3M455 502.5h1" stroke="#7190f2" stroke-width="1" fill="none" shape-rendering="crispEdges"/>
<path d="M439 394.5h1M468 394.5h1M377 397.5h1M469 399.5h1M447 401.5h1M441 402.5h1M386 403.5h1M440 404.5h1M444 404.5h1M396 411.5h1M453 411.5h1M395 412.5h1M426 413.5h1M440 421.5h1M410 423.5h1M404 428.5h1M458 429.5h1M409 430.5h1M456 430.5h1M438 431.5h1M467 432.5h1M436 434.5h1M403 435.5h1M460 435.5h1M438 436.5h1M439 437.5h1M410 439.5h1M467 439.5h1M457 440.5h1M472 440.5h1M410 441.5h1M421 441.5h1M457 442.5h1M461 442.5h1M467 442.5h1M382 443.5h1M401 443.5h1M404 443.5h1M441 443.5h1M468 443.5h1M401 444.5h1M414 444.5h1M433 444.5h1M396 445.5h1M439 445.5h1M442 445.5h1M452 445.5h1M461 445.5h2M402 446.5h1M424 446.5h1M438 446.5h1M440 446.5h1M450 446.5h1M458 446.5h1M428 447.5h1M449 447.5h1M406 448.5h1M422 448.5h1M429 448.5h1M432 448.5h1M445 448.5h1M448 448.5h1M400 449.5h1M410 449.5h1M418 449.5h1M455 449.5h1M395 450.5h1M397 450.5h1M399 450.5h1M419 450.5h1M428 450.5h1M438 450.5h1M446 450.5h2M452 450.5h1M461 450.5h1M391 451.5h1M411 451.5h1M427 451.5h1M429 451.5h1M435 451.5h1M439 451.5h1M444 451.5h1M447 451.5h1M466 451.5h1M407 452.5h1M410 452.5h1M424 452.5h1M431 452.5h2M434 452.5h1M440 452.5h1M446 452.5h1M453 452.5h1M457 452.5h1M462 452.5h1M399 453.5h1M414 453.5h1M424 453.5h1M427 453.5h1M430 453.5h1M449 453.5h1M393 454.5h1M399 454.5h1M407 454.5h1M411 454.5h1M418 454.5h1M427 454.5h1M430 454.5h1M432 454.5h1M434 454.5h1M436 454.5h1M438 454.5h1M455 454.5h1M464 454.5h1M472 454.5h1M371 455.5h1M407 455.5h1M416 455.5h1M423 455.5h1M428 455.5h1M432 455.5h1M434 455.5h1M438 455.5h1M440 455.5h2M466 455.5h1M469 455.5h1M378 456.5h1M415 456.5h2M418 456.5h1M423 456.5h2M427 456.5h1M432 456.5h2M439 456.5h1M441 456.5h1M443 456.5h1M446 456.5h1M453 456.5h1M455 456.5h1M459 456.5h2M399 457.5h1M417 457.5h1M420 457.5h1M433 457.5h1M441 457.5h1M444 457.5h1M460 457.5h1M463 457.5h1M380 458.5h1M388 458.5h1M391 458.5h1M404 458.5h1M416 458.5h1M429 458.5h1M431 458.5h1M436 458.5h1M442 458.5h2M445 458.5h1M450 458.5h1M460 458.5h2M463 458.5h1M400 459.5h1M403 459.5h2M406 459.5h1M419 459.5h1M439 459.5h5M450 459.5h1M455 459.5h1M457 459.5h1M462 459.5h1M471 459.5h1M392 460.5h1M403 460.5h1M408 460.5h1M411 460.5h2M417 460.5h2M426 460.5h1M432 460.5h2M437 460.5h1M439 460.5h4M444 460.5h1M448 460.5h1M453 460.5h2M464 460.5h1M467 460.5h1M386 461.5h1M395 461.5h2M399 461.5h1M401 461.5h1M403 461.5h1M414 461.5h3M420 461.5h1M422 461.5h1M424 461.5h1M429 461.5h1M434 461.5h1M437 461.5h1M441 461.5h2M446 461.5h2M450 461.5h1M452 461.5h1M469 461.5h1M375 462.5h1M396 462.5h1M399 462.5h2M413 462.5h1M416 462.5h1M420 462.5h3M427 462.5h1M431 462.5h1M447 462.5h1M452 462.5h1M461 462.5h2M471 462.5h1M383 463.5h1M398 463.5h1M405 463.5h1M410 463.5h1M414 463.5h1M422 463.5h2M428 463.5h1M432 463.5h1M434 463.5h1M437 463.5h2M440 463.5h2M443 463.5h1M445 463.5h2M455 463.5h1M458 463.5h2M461 463.5h1M464 463.5h1M468 463.5h1M371 464.5h1M373 464.5h1M381 464.5h1M386 464.5h1M390 464.5h1M392 464.5h1M396 464.5h1M398 464.5h1M401 464.5h1M405 464.5h1M408 464.5h1M412 464.5h2M419 464.5h1M425 464.5h1M430 464.5h2M433 464.5h1M437 464.5h1M443 464.5h2M449 464.5h2M464 464.5h1M468 464.5h1M470 464.5h1M371 465.5h1M389 465.5h1M391 465.5h2M408 465.5h1M412 465.5h3M420 465.5h2M425 465.5h1M430 465.5h1M432 465.5h2M437 465.5h1M444 465.5h1M447 465.5h1M450 465.5h2M456 465.5h1M460 465.5h1M469 465.5h1M472 465.5h1M390 466.5h2M416 466.5h1M418 466.5h1M423 466.5h1M427 466.5h1M431 466.5h3M438 466.5h1M443 466.5h1M445 466.5h1M447 466.5h1M451 466.5h1M460 466.5h1M462 466.5h1M464 466.5h2M467 466.5h1M472 466.5h1M363 467.5h1M378 467.5h1M385 467.5h3M419 467.5h1M422 467.5h1M424 467.5h1M427 467.5h1M431 467.5h1M434 467.5h2M437 467.5h1M441 467.5h1M444 467.5h2M447 467.5h2M455 467.5h1M464 467.5h2M467 467.5h1M363 468.5h1M382 468.5h1M384 468.5h1M416 468.5h3M428 468.5h2M437 468.5h3M441 468.5h2M445 468.5h1M448 468.5h2M455 468.5h1M461 468.5h1M466 468.5h1M384 469.5h1M386 469.5h1M418 469.5h1M422 469.5h2M425 469.5h1M443 469.5h1M445 469.5h1M452 469.5h2M459 469.5h1M462 469.5h2M469 469.5h1M383 470.5h1M385 470.5h1M420 470.5h3M448 470.5h1M450 470.5h1M452 470.5h1M455 470.5h2M470 470.5h1M372 471.5h1M451 471.5h3M458 471.5h2M462 471.5h1M466 471.5h2M368 472.5h1M373 472.5h1M453 472.5h1M455 472.5h1M457 472.5h1M467 472.5h3M463 473.5h1M466 473.5h1M470 473.5h1M367 474.5h1M380 474.5h2M455 474.5h1M458 474.5h1M461 474.5h1M464 474.5h1M376 475.5h1M458 475.5h1M460 475.5h1M467 475.5h1M470 475.5h2M380 476.5h1M466 476.5h1M470 476.5h1M360 477.5h1M374 477.5h1M462 477.5h2M465 477.5h1M470 477.5h1M472 477.5h1M363 478.5h1M372 478.5h2M379 478.5h1M461 478.5h1M469 478.5h1M471 478.5h1M377 479.5h1M464 479.5h2M371 480.5h1M464 480.5h1M464 481.5h3M468 481.5h1M466 482.5h1M470 482.5h1M370 483.5h1M377 483.5h1M471 483.5h1M368 484.5h1M468 484.5h2M472 484.5h1M377 485.5h1M467 486.5h1M470 486.5h2M373 487.5h1M375 487.5h1M470 487.5h2M468 488.5h1M377 489.5h2M469 489.5h1M373 490.5h1M377 490.5h1M470 490.5h1M469 491.5h1M471 492.5h1M365 493.5h1M379 493.5h1M467 493.5h1M471 493.5h2M469 494.5h1M472 494.5h1M377 495.5h1M361 496.5h1M468 496.5h1M471 496.5h1M469 497.5h1M467 498.5h1M382 500.5h2M462 500.5h1M466 500.5h1M468 500.5h1M383 501.5h1M460 502.5h1M462 502.5h1M471 502.5h1" stroke="#b0bdf4" stroke-width="1" fill="none" shape-rendering="crispEdges"/>
<g clip-path="url(#c3)">
<g filter="url(#hb)" transform="rotate(0.0 389.50 484.50)">
<ellipse cx="389.50" cy="484.50" rx="9.00" ry="13.00" fill="#2f6cf4"/>
<ellipse cx="389.50" cy="484.50" rx="5.20" ry="9.00" fill="#38d8f0"/>
<ellipse cx="389.50" cy="484.50" rx="3.40" ry="6.50" fill="#3fe04a"/>
<ellipse cx="389.50" cy="484.50" rx="2.40" ry="4.40" fill="#e8f028"/>
<ellipse cx="389.50" cy="484.50" rx="1.40" ry="2.50" fill="#f21818"/>
</g>
</g>
<rect x="358.80" y="389.50" width="115.20" height="114.50" fill="none" stroke="#1a1a1a" stroke-width="1.15"/>
<polygon points="381.7,459.0 418.3,460.2 417.7,501.4 379.4,501.4" fill="none" stroke="#222" stroke-width="1.05" stroke-linejoin="miter"/>
<line x1="356.20" y1="503.50" x2="358.80" y2="503.50" stroke="#1a1a1a" stroke-width="0.90"/>
<line x1="357.30" y1="499.11" x2="358.80" y2="499.11" stroke="#1a1a1a" stroke-width="0.80"/>
<line x1="357.30" y1="494.72" x2="358.80" y2="494.72" stroke="#1a1a1a" stroke-width="0.80"/>
<line x1="357.30" y1="490.33" x2="358.80" y2="490.33" stroke="#1a1a1a" stroke-width="0.80"/>
<line x1="357.30" y1="485.94" x2="358.80" y2="485.94" stroke="#1a1a1a" stroke-width="0.80"/>
<line x1="356.20" y1="481.55" x2="358.80" y2="481.55" stroke="#1a1a1a" stroke-width="0.90"/>
<line x1="357.30" y1="477.16" x2="358.80" y2="477.16" stroke="#1a1a1a" stroke-width="0.80"/>
<line x1="357.30" y1="472.77" x2="358.80" y2="472.77" stroke="#1a1a1a" stroke-width="0.80"/>
<line x1="357.30" y1="468.38" x2="358.80" y2="468.38" stroke="#1a1a1a" stroke-width="0.80"/>
<line x1="357.30" y1="463.99" x2="358.80" y2="463.99" stroke="#1a1a1a" stroke-width="0.80"/>
<line x1="356.20" y1="459.60" x2="358.80" y2="459.60" stroke="#1a1a1a" stroke-width="0.90"/>
<line x1="357.30" y1="455.21" x2="358.80" y2="455.21" stroke="#1a1a1a" stroke-width="0.80"/>
<line x1="357.30" y1="450.82" x2="358.80" y2="450.82" stroke="#1a1a1a" stroke-width="0.80"/>
<line x1="357.30" y1="446.43" x2="358.80" y2="446.43" stroke="#1a1a1a" stroke-width="0.80"/>
<line x1="357.30" y1="442.04" x2="358.80" y2="442.04" stroke="#1a1a1a" stroke-width="0.80"/>
<line x1="356.20" y1="437.65" x2="358.80" y2="437.65" stroke="#1a1a1a" stroke-width="0.90"/>
<line x1="357.30" y1="433.26" x2="358.80" y2="433.26" stroke="#1a1a1a" stroke-width="0.80"/>
<line x1="357.30" y1="428.87" x2="358.80" y2="428.87" stroke="#1a1a1a" stroke-width="0.80"/>
<line x1="357.30" y1="424.48" x2="358.80" y2="424.48" stroke="#1a1a1a" stroke-width="0.80"/>
<line x1="357.30" y1="420.09" x2="358.80" y2="420.09" stroke="#1a1a1a" stroke-width="0.80"/>
<line x1="356.20" y1="415.70" x2="358.80" y2="415.70" stroke="#1a1a1a" stroke-width="0.90"/>
<line x1="357.30" y1="411.31" x2="358.80" y2="411.31" stroke="#1a1a1a" stroke-width="0.80"/>
<line x1="357.30" y1="406.92" x2="358.80" y2="406.92" stroke="#1a1a1a" stroke-width="0.80"/>
<line x1="357.30" y1="402.53" x2="358.80" y2="402.53" stroke="#1a1a1a" stroke-width="0.80"/>
<line x1="357.30" y1="398.14" x2="358.80" y2="398.14" stroke="#1a1a1a" stroke-width="0.80"/>
<line x1="356.20" y1="393.75" x2="358.80" y2="393.75" stroke="#1a1a1a" stroke-width="0.90"/>
<text transform="translate(355.60 505.78) scale(1.140 1)" font-size="6.90" text-anchor="end" fill="#1a1a1a">0</text>
<text transform="translate(355.60 483.83) scale(1.140 1)" font-size="6.90" text-anchor="end" fill="#1a1a1a">50K</text>
<text transform="translate(355.60 461.88) scale(1.140 1)" font-size="6.90" text-anchor="end" fill="#1a1a1a">100K</text>
<text transform="translate(355.60 439.93) scale(1.140 1)" font-size="6.90" text-anchor="end" fill="#1a1a1a">150K</text>
<text transform="translate(355.60 417.98) scale(1.140 1)" font-size="6.90" text-anchor="end" fill="#1a1a1a">200K</text>
<text transform="translate(355.60 396.03) scale(1.140 1)" font-size="6.90" text-anchor="end" fill="#1a1a1a">250K</text>
<line x1="367.00" y1="504.00" x2="367.00" y2="506.60" stroke="#1a1a1a" stroke-width="0.90"/>
<line x1="386.10" y1="504.00" x2="386.10" y2="506.60" stroke="#1a1a1a" stroke-width="0.90"/>
<line x1="402.80" y1="504.00" x2="402.80" y2="506.60" stroke="#1a1a1a" stroke-width="0.90"/>
<line x1="436.20" y1="504.00" x2="436.20" y2="506.60" stroke="#1a1a1a" stroke-width="0.90"/>
<line x1="461.30" y1="504.00" x2="461.30" y2="506.60" stroke="#1a1a1a" stroke-width="0.90"/>
<line x1="368.91" y1="504.00" x2="368.91" y2="505.40" stroke="#1a1a1a" stroke-width="0.70"/>
<line x1="387.77" y1="504.00" x2="387.77" y2="505.40" stroke="#1a1a1a" stroke-width="0.70"/>
<line x1="370.82" y1="504.00" x2="370.82" y2="505.40" stroke="#1a1a1a" stroke-width="0.70"/>
<line x1="389.44" y1="504.00" x2="389.44" y2="505.40" stroke="#1a1a1a" stroke-width="0.70"/>
<line x1="372.73" y1="504.00" x2="372.73" y2="505.40" stroke="#1a1a1a" stroke-width="0.70"/>
<line x1="391.11" y1="504.00" x2="391.11" y2="505.40" stroke="#1a1a1a" stroke-width="0.70"/>
<line x1="374.64" y1="504.00" x2="374.64" y2="505.40" stroke="#1a1a1a" stroke-width="0.70"/>
<line x1="392.78" y1="504.00" x2="392.78" y2="505.40" stroke="#1a1a1a" stroke-width="0.70"/>
<line x1="376.55" y1="504.00" x2="376.55" y2="505.40" stroke="#1a1a1a" stroke-width="0.70"/>
<line x1="394.45" y1="504.00" x2="394.45" y2="505.40" stroke="#1a1a1a" stroke-width="0.70"/>
<line x1="378.46" y1="504.00" x2="378.46" y2="505.40" stroke="#1a1a1a" stroke-width="0.70"/>
<line x1="396.12" y1="504.00" x2="396.12" y2="505.40" stroke="#1a1a1a" stroke-width="0.70"/>
<line x1="380.37" y1="504.00" x2="380.37" y2="505.40" stroke="#1a1a1a" stroke-width="0.70"/>
<line x1="397.79" y1="504.00" x2="397.79" y2="505.40" stroke="#1a1a1a" stroke-width="0.70"/>
<line x1="382.28" y1="504.00" x2="382.28" y2="505.40" stroke="#1a1a1a" stroke-width="0.70"/>
<line x1="399.46" y1="504.00" x2="399.46" y2="505.40" stroke="#1a1a1a" stroke-width="0.70"/>
<line x1="384.19" y1="504.00" x2="384.19" y2="505.40" stroke="#1a1a1a" stroke-width="0.70"/>
<line x1="401.13" y1="504.00" x2="401.13" y2="505.40" stroke="#1a1a1a" stroke-width="0.70"/>
<line x1="412.85" y1="504.00" x2="412.85" y2="505.40" stroke="#1a1a1a" stroke-width="0.70"/>
<line x1="418.74" y1="504.00" x2="418.74" y2="505.40" stroke="#1a1a1a" stroke-width="0.70"/>
<line x1="422.91" y1="504.00" x2="422.91" y2="505.40" stroke="#1a1a1a" stroke-width="0.70"/>
<line x1="426.15" y1="504.00" x2="426.15" y2="505.40" stroke="#1a1a1a" stroke-width="0.70"/>
<line x1="428.79" y1="504.00" x2="428.79" y2="505.40" stroke="#1a1a1a" stroke-width="0.70"/>
<line x1="431.03" y1="504.00" x2="431.03" y2="505.40" stroke="#1a1a1a" stroke-width="0.70"/>
<line x1="432.96" y1="504.00" x2="432.96" y2="505.40" stroke="#1a1a1a" stroke-width="0.70"/>
<line x1="434.67" y1="504.00" x2="434.67" y2="505.40" stroke="#1a1a1a" stroke-width="0.70"/>
<line x1="443.76" y1="504.00" x2="443.76" y2="505.40" stroke="#1a1a1a" stroke-width="0.70"/>
<line x1="448.18" y1="504.00" x2="448.18" y2="505.40" stroke="#1a1a1a" stroke-width="0.70"/>
<line x1="451.31" y1="504.00" x2="451.31" y2="505.40" stroke="#1a1a1a" stroke-width="0.70"/>
<line x1="453.74" y1="504.00" x2="453.74" y2="505.40" stroke="#1a1a1a" stroke-width="0.70"/>
<line x1="455.73" y1="504.00" x2="455.73" y2="505.40" stroke="#1a1a1a" stroke-width="0.70"/>
<line x1="457.41" y1="504.00" x2="457.41" y2="505.40" stroke="#1a1a1a" stroke-width="0.70"/>
<line x1="458.87" y1="504.00" x2="458.87" y2="505.40" stroke="#1a1a1a" stroke-width="0.70"/>
<line x1="460.15" y1="504.00" x2="460.15" y2="505.40" stroke="#1a1a1a" stroke-width="0.70"/>
<line x1="468.86" y1="504.00" x2="468.86" y2="505.40" stroke="#1a1a1a" stroke-width="0.70"/>
<text transform="translate(367.00 513.98) scale(1.140 1)" font-size="6.90" text-anchor="middle" fill="#1a1a1a">-10</text>
<text transform="translate(372.17 509.30) scale(1.140 1)" font-size="5.00" text-anchor="start" fill="#1a1a1a">3</text>
<text transform="translate(386.10 513.98) scale(1.140 1)" font-size="6.90" text-anchor="middle" fill="#1a1a1a">0</text>
<text transform="translate(402.80 513.98) scale(1.140 1)" font-size="6.90" text-anchor="middle" fill="#1a1a1a">10</text>
<text transform="translate(407.77 509.30) scale(1.140 1)" font-size="5.00" text-anchor="start" fill="#1a1a1a">3</text>
<text transform="translate(436.20 513.98) scale(1.140 1)" font-size="6.90" text-anchor="middle" fill="#1a1a1a">10</text>
<text transform="translate(441.17 509.30) scale(1.140 1)" font-size="5.00" text-anchor="start" fill="#1a1a1a">4</text>
<text transform="translate(461.30 513.98) scale(1.140 1)" font-size="6.90" text-anchor="middle" fill="#1a1a1a">10</text>
<text transform="translate(466.27 509.30) scale(1.140 1)" font-size="5.00" text-anchor="start" fill="#1a1a1a">5</text>
<text transform="translate(331.60 446.60) rotate(-90) scale(1 1.220)" x="0" y="2.38" font-size="6.60" text-anchor="middle" fill="#1a1a1a">FSC-H</text>
<text transform="translate(419.90 526.12) scale(1.140 1)" font-size="7.00" text-anchor="middle" fill="#1a1a1a">Viability (APC-Cy7)</text>
<line x1="474.80" y1="442.70" x2="486.80" y2="442.70" stroke="#333" stroke-width="0.90"/>
<polygon points="486.00,438.70 491.00,442.70 486.00,446.70" fill="#111"/>
<path d="M593 465.5h3M592 466.5h4M591 467.5h6M589 468.5h8M588 469.5h7M596 469.5h1M586 470.5h11M583 471.5h14M580 472.5h15M596 472.5h1M578 473.5h19M576 474.5h21M574 475.5h23M573 476.5h25M572 477.5h26M571 478.5h26M598 478.5h1M571 479.5h28M570 480.5h30M570 481.5h30M569 482.5h31M569 483.5h31M568 484.5h33M568 485.5h33M568 486.5h33M568 487.5h33M547 488.5h3M551 488.5h1M568 488.5h31M600 488.5h1M546 489.5h3M550 489.5h4M568 489.5h33M545 490.5h9M568 490.5h32M544 491.5h11M569 491.5h31M544 492.5h11M569 492.5h30M544 493.5h11M569 493.5h30M544 494.5h11M570 494.5h29M544 495.5h11M570 495.5h28M544 496.5h11M571 496.5h27M544 497.5h11M572 497.5h25M545 498.5h9M573 498.5h23M546 499.5h7M574 499.5h20M548 500.5h3M575 500.5h18M577 501.5h14M581 502.5h7" stroke="#2352ee" stroke-width="1" fill="none" shape-rendering="crispEdges"/>
<path d="M595 458.5h3M594 459.5h1M596 459.5h4M593 460.5h5M590 461.5h9M600 461.5h1M590 462.5h11M589 463.5h3M593 463.5h8M589 464.5h12M587 465.5h6M596 465.5h5M587 466.5h5M596 466.5h1M598 466.5h1M600 466.5h1M585 467.5h2M588 467.5h3M597 467.5h4M584 468.5h4M597 468.5h1M599 468.5h2M582 469.5h6M597 469.5h4M580 470.5h2M583 470.5h3M597 470.5h3M577 471.5h1M579 471.5h4M597 471.5h3M576 472.5h1M578 472.5h2M597 472.5h3M573 473.5h1M575 473.5h3M597 473.5h3M573 474.5h2M597 474.5h3M572 475.5h2M597 475.5h3M570 476.5h3M598 476.5h3M569 477.5h3M598 477.5h3M568 478.5h1M570 478.5h1M599 478.5h2M568 479.5h3M599 479.5h3M567 480.5h3M600 480.5h2M567 481.5h3M600 481.5h3M566 482.5h3M600 482.5h3M549 483.5h1M551 483.5h1M566 483.5h2M600 483.5h2M545 484.5h1M547 484.5h2M550 484.5h5M567 484.5h1M601 484.5h2M544 485.5h4M549 485.5h7M566 485.5h2M601 485.5h2M544 486.5h3M548 486.5h9M565 486.5h3M601 486.5h2M542 487.5h2M545 487.5h1M547 487.5h10M565 487.5h1M567 487.5h1M601 487.5h2M542 488.5h5M552 488.5h6M565 488.5h1M567 488.5h1M601 488.5h2M541 489.5h5M554 489.5h1M557 489.5h2M566 489.5h2M601 489.5h2M541 490.5h2M544 490.5h1M554 490.5h1M556 490.5h2M566 490.5h2M600 490.5h3M540 491.5h4M555 491.5h4M566 491.5h3M600 491.5h3M541 492.5h3M555 492.5h2M558 492.5h1M566 492.5h3M600 492.5h2M540 493.5h3M555 493.5h3M566 493.5h3M599 493.5h2M540 494.5h4M555 494.5h4M567 494.5h3M599 494.5h3M541 495.5h3M555 495.5h4M567 495.5h3M598 495.5h3M540 496.5h4M555 496.5h2M558 496.5h1M568 496.5h3M598 496.5h2M540 497.5h4M555 497.5h4M569 497.5h3M597 497.5h3M541 498.5h4M554 498.5h4M569 498.5h4M596 498.5h3M542 499.5h4M553 499.5h5M570 499.5h1M573 499.5h1M594 499.5h4M542 500.5h6M551 500.5h6M572 500.5h1M574 500.5h1M593 500.5h4M543 501.5h2M546 501.5h5M552 501.5h4M574 501.5h3M591 501.5h3M595 501.5h1M544 502.5h5M550 502.5h6M574 502.5h7M589 502.5h3M593 502.5h1" stroke="#3c66ef" stroke-width="1" fill="none" shape-rendering="crispEdges"/>
<path d="M596 454.5h1M598 454.5h1M600 454.5h1M594 455.5h3M598 455.5h2M601 455.5h1M592 456.5h1M595 456.5h2M598 456.5h1M601 456.5h2M591 457.5h2M594 457.5h1M598 457.5h3M602 457.5h1M592 458.5h1M594 458.5h1M601 458.5h2M588 459.5h1M592 459.5h1M600 459.5h4M587 460.5h1M590 460.5h1M601 460.5h1M603 460.5h1M588 461.5h2M601 461.5h1M586 462.5h3M585 463.5h2M601 463.5h2M604 463.5h1M586 464.5h2M601 464.5h1M603 464.5h2M584 465.5h3M602 465.5h2M582 466.5h1M584 466.5h2M601 466.5h3M601 467.5h3M583 468.5h1M601 468.5h2M581 469.5h1M602 469.5h1M578 470.5h1M600 470.5h3M572 471.5h1M575 471.5h1M600 471.5h3M572 472.5h3M601 472.5h2M570 473.5h1M572 473.5h1M600 473.5h3M570 474.5h2M600 474.5h1M602 474.5h1M568 475.5h2M600 475.5h3M567 476.5h3M601 476.5h1M568 477.5h1M601 477.5h1M548 478.5h1M553 478.5h1M566 478.5h2M602 478.5h2M547 479.5h3M551 479.5h2M555 479.5h1M567 479.5h1M547 480.5h4M552 480.5h1M565 480.5h2M603 480.5h1M546 481.5h1M549 481.5h1M551 481.5h3M556 481.5h2M566 481.5h1M603 481.5h1M542 482.5h4M548 482.5h1M556 482.5h2M565 482.5h1M543 483.5h2M546 483.5h2M553 483.5h2M559 483.5h1M563 483.5h3M604 483.5h1M541 484.5h3M558 484.5h2M563 484.5h1M565 484.5h1M603 484.5h1M542 485.5h1M556 485.5h4M563 485.5h1M565 485.5h1M605 485.5h1M539 486.5h1M557 486.5h1M559 486.5h1M561 486.5h1M564 486.5h1M603 486.5h1M539 487.5h1M541 487.5h1M558 487.5h2M564 487.5h1M603 487.5h1M605 487.5h1M539 488.5h1M541 488.5h1M558 488.5h2M603 488.5h2M540 489.5h1M559 489.5h4M564 489.5h1M540 490.5h1M559 490.5h1M564 490.5h2M603 490.5h2M539 491.5h1M559 491.5h2M563 491.5h3M604 491.5h1M561 492.5h1M564 492.5h1M603 492.5h2M537 493.5h2M559 493.5h1M564 493.5h2M603 493.5h1M537 494.5h3M561 494.5h2M602 494.5h1M538 495.5h1M559 495.5h2M562 495.5h1M566 495.5h1M601 495.5h2M537 496.5h3M559 496.5h1M566 496.5h1M601 496.5h1M538 497.5h1M560 497.5h2M566 497.5h3M600 497.5h1M540 498.5h1M559 498.5h3M567 498.5h2M600 498.5h1M540 499.5h1M558 499.5h2M567 499.5h3M598 499.5h2M539 500.5h1M557 500.5h2M569 500.5h1M597 500.5h2M540 501.5h2M558 501.5h1M560 501.5h1M569 501.5h2M572 501.5h1M596 501.5h1M598 501.5h1M542 502.5h2M559 502.5h1M571 502.5h3M595 502.5h1" stroke="#7190f2" stroke-width="1" fill="none" shape-rendering="crispEdges"/>
<path d="M562 400.5h1M540 404.5h1M543 404.5h1M609 410.5h1M575 433.5h1M580 435.5h1M589 436.5h1M577 438.5h1M591 441.5h1M534 444.5h1M599 444.5h1M606 445.5h1M603 446.5h1M552 447.5h1M573 447.5h1M580 447.5h1M594 447.5h1M590 449.5h1M592 450.5h1M595 450.5h1M601 450.5h2M606 450.5h1M612 450.5h1M567 451.5h1M587 451.5h1M595 451.5h2M598 451.5h1M604 451.5h1M611 451.5h1M595 452.5h2M599 452.5h1M601 452.5h1M574 453.5h1M597 453.5h2M605 453.5h1M590 454.5h1M543 455.5h1M557 455.5h1M576 455.5h1M604 455.5h2M624 455.5h1M556 456.5h1M580 456.5h1M603 456.5h2M568 457.5h1M576 457.5h1M585 457.5h1M587 457.5h1M589 457.5h1M604 457.5h2M614 457.5h1M623 457.5h1M551 458.5h1M582 458.5h1M585 458.5h1M587 458.5h2M605 458.5h1M609 458.5h2M555 459.5h1M559 459.5h1M572 459.5h1M608 459.5h1M610 459.5h1M547 460.5h1M581 460.5h1M583 460.5h1M604 460.5h2M611 460.5h1M557 461.5h1M562 461.5h1M576 461.5h1M606 461.5h1M550 462.5h1M558 462.5h1M620 462.5h1M623 462.5h1M558 463.5h1M576 463.5h1M583 463.5h1M605 463.5h2M544 464.5h1M551 464.5h1M561 464.5h1M613 464.5h1M544 465.5h1M550 465.5h1M553 465.5h1M557 465.5h1M561 465.5h1M573 465.5h1M604 465.5h2M628 465.5h1M557 466.5h1M562 466.5h1M564 466.5h1M575 466.5h1M605 466.5h1M617 466.5h1M628 466.5h1M547 467.5h1M553 467.5h1M568 467.5h1M576 467.5h1M578 467.5h1M605 467.5h1M607 467.5h1M609 467.5h1M545 468.5h1M549 468.5h1M551 468.5h1M562 468.5h2M566 468.5h1M573 468.5h1M577 468.5h1M608 468.5h1M615 468.5h1M617 468.5h1M543 469.5h1M550 469.5h3M557 469.5h2M572 469.5h1M575 469.5h1M619 469.5h1M543 470.5h1M548 470.5h2M551 470.5h1M568 470.5h1M570 470.5h1M605 470.5h1M625 470.5h1M548 471.5h2M551 471.5h5M561 471.5h3M603 471.5h1M605 471.5h1M612 471.5h1M614 471.5h1M541 472.5h1M550 472.5h2M553 472.5h1M559 472.5h2M566 472.5h1M568 472.5h1M570 472.5h1M607 472.5h1M614 472.5h2M542 473.5h1M544 473.5h1M547 473.5h1M554 473.5h2M563 473.5h1M565 473.5h2M569 473.5h1M610 473.5h1M621 473.5h1M545 474.5h2M549 474.5h2M554 474.5h2M563 474.5h1M566 474.5h1M568 474.5h1M616 474.5h2M623 474.5h1M545 475.5h2M549 475.5h1M552 475.5h1M556 475.5h1M559 475.5h1M562 475.5h1M604 475.5h1M606 475.5h1M618 475.5h1M525 476.5h1M540 476.5h1M542 476.5h1M545 476.5h1M547 476.5h1M552 476.5h1M555 476.5h1M558 476.5h1M604 476.5h1M608 476.5h1M530 477.5h1M546 477.5h1M548 477.5h1M552 477.5h1M556 477.5h1M560 477.5h1M604 477.5h1M632 477.5h1M536 478.5h1M542 478.5h1M544 478.5h1M546 478.5h1M559 478.5h1M564 478.5h1M608 478.5h1M616 478.5h1M623 478.5h1M541 479.5h1M544 479.5h1M563 479.5h1M604 479.5h1M607 479.5h1M536 480.5h3M557 480.5h1M559 480.5h1M562 480.5h2M623 480.5h1M541 481.5h1M558 481.5h1M560 481.5h3M611 481.5h1M522 482.5h1M540 482.5h1M605 482.5h1M607 482.5h1M609 482.5h1M532 483.5h1M562 483.5h1M537 484.5h1M613 484.5h1M539 485.5h1M538 486.5h1M609 486.5h1M615 486.5h1M617 486.5h1M532 487.5h1M608 487.5h1M608 488.5h1M629 488.5h1M535 489.5h1M537 489.5h1M605 489.5h1M619 489.5h1M605 490.5h2M615 490.5h1M536 491.5h1M531 492.5h1M536 492.5h1M605 492.5h1M609 492.5h1M621 492.5h1M604 493.5h1M533 494.5h1M610 494.5h1M535 495.5h1M605 495.5h2M531 497.5h1M535 497.5h1M537 497.5h1M563 497.5h1M607 497.5h1M610 497.5h1M537 498.5h1M562 498.5h1M566 498.5h1M603 498.5h1M536 499.5h1M601 499.5h1M609 499.5h1M538 500.5h1M561 500.5h1M563 500.5h1M567 500.5h1M604 500.5h1M616 500.5h1M565 501.5h1M601 501.5h1M539 502.5h1M566 502.5h1M568 502.5h2M599 502.5h1M601 502.5h1M607 502.5h1" stroke="#b0bdf4" stroke-width="1" fill="none" shape-rendering="crispEdges"/>
<g filter="url(#hb)" transform="rotate(0.0 582.70 484.60)">
<ellipse cx="582.70" cy="484.60" rx="10.00" ry="8.20" fill="#2f6cf4"/>
<ellipse cx="582.70" cy="484.60" rx="8.00" ry="6.60" fill="#38d8f0"/>
<ellipse cx="582.70" cy="484.60" rx="6.60" ry="5.20" fill="#3fe04a"/>
<ellipse cx="582.70" cy="484.60" rx="3.40" ry="3.00" fill="#e8f028"/>
<ellipse cx="582.70" cy="484.60" rx="2.20" ry="2.00" fill="#f21818"/>
</g>
<rect x="521.40" y="389.50" width="114.90" height="114.10" fill="none" stroke="#1a1a1a" stroke-width="1.15"/>
<polygon points="563.8,457.2 586.0,455.5 609.7,457.5 608.8,501.2 563.5,501.2" fill="none" stroke="#222" stroke-width="1.05" stroke-linejoin="miter"/>
<line x1="518.80" y1="503.50" x2="521.40" y2="503.50" stroke="#1a1a1a" stroke-width="0.90"/>
<line x1="519.90" y1="499.11" x2="521.40" y2="499.11" stroke="#1a1a1a" stroke-width="0.80"/>
<line x1="519.90" y1="494.72" x2="521.40" y2="494.72" stroke="#1a1a1a" stroke-width="0.80"/>
<line x1="519.90" y1="490.33" x2="521.40" y2="490.33" stroke="#1a1a1a" stroke-width="0.80"/>
<line x1="519.90" y1="485.94" x2="521.40" y2="485.94" stroke="#1a1a1a" stroke-width="0.80"/>
<line x1="518.80" y1="481.55" x2="521.40" y2="481.55" stroke="#1a1a1a" stroke-width="0.90"/>
<line x1="519.90" y1="477.16" x2="521.40" y2="477.16" stroke="#1a1a1a" stroke-width="0.80"/>
<line x1="519.90" y1="472.77" x2="521.40" y2="472.77" stroke="#1a1a1a" stroke-width="0.80"/>
<line x1="519.90" y1="468.38" x2="521.40" y2="468.38" stroke="#1a1a1a" stroke-width="0.80"/>
<line x1="519.90" y1="463.99" x2="521.40" y2="463.99" stroke="#1a1a1a" stroke-width="0.80"/>
<line x1="518.80" y1="459.60" x2="521.40" y2="459.60" stroke="#1a1a1a" stroke-width="0.90"/>
<line x1="519.90" y1="455.21" x2="521.40" y2="455.21" stroke="#1a1a1a" stroke-width="0.80"/>
<line x1="519.90" y1="450.82" x2="521.40" y2="450.82" stroke="#1a1a1a" stroke-width="0.80"/>
<line x1="519.90" y1="446.43" x2="521.40" y2="446.43" stroke="#1a1a1a" stroke-width="0.80"/>
<line x1="519.90" y1="442.04" x2="521.40" y2="442.04" stroke="#1a1a1a" stroke-width="0.80"/>
<line x1="518.80" y1="437.65" x2="521.40" y2="437.65" stroke="#1a1a1a" stroke-width="0.90"/>
<line x1="519.90" y1="433.26" x2="521.40" y2="433.26" stroke="#1a1a1a" stroke-width="0.80"/>
<line x1="519.90" y1="428.87" x2="521.40" y2="428.87" stroke="#1a1a1a" stroke-width="0.80"/>
<line x1="519.90" y1="424.48" x2="521.40" y2="424.48" stroke="#1a1a1a" stroke-width="0.80"/>
<line x1="519.90" y1="420.09" x2="521.40" y2="420.09" stroke="#1a1a1a" stroke-width="0.80"/>
<line x1="518.80" y1="415.70" x2="521.40" y2="415.70" stroke="#1a1a1a" stroke-width="0.90"/>
<line x1="519.90" y1="411.31" x2="521.40" y2="411.31" stroke="#1a1a1a" stroke-width="0.80"/>
<line x1="519.90" y1="406.92" x2="521.40" y2="406.92" stroke="#1a1a1a" stroke-width="0.80"/>
<line x1="519.90" y1="402.53" x2="521.40" y2="402.53" stroke="#1a1a1a" stroke-width="0.80"/>
<line x1="519.90" y1="398.14" x2="521.40" y2="398.14" stroke="#1a1a1a" stroke-width="0.80"/>
<line x1="518.80" y1="393.75" x2="521.40" y2="393.75" stroke="#1a1a1a" stroke-width="0.90"/>
<text transform="translate(518.20 505.78) scale(1.140 1)" font-size="6.90" text-anchor="end" fill="#1a1a1a">0</text>
<text transform="translate(518.20 483.83) scale(1.140 1)" font-size="6.90" text-anchor="end" fill="#1a1a1a">50K</text>
<text transform="translate(518.20 461.88) scale(1.140 1)" font-size="6.90" text-anchor="end" fill="#1a1a1a">100K</text>
<text transform="translate(518.20 439.93) scale(1.140 1)" font-size="6.90" text-anchor="end" fill="#1a1a1a">150K</text>
<text transform="translate(518.20 417.98) scale(1.140 1)" font-size="6.90" text-anchor="end" fill="#1a1a1a">200K</text>
<text transform="translate(518.20 396.03) scale(1.140 1)" font-size="6.90" text-anchor="end" fill="#1a1a1a">250K</text>
<line x1="530.30" y1="503.60" x2="530.30" y2="506.20" stroke="#1a1a1a" stroke-width="0.90"/>
<line x1="549.00" y1="503.60" x2="549.00" y2="506.20" stroke="#1a1a1a" stroke-width="0.90"/>
<line x1="566.70" y1="503.60" x2="566.70" y2="506.20" stroke="#1a1a1a" stroke-width="0.90"/>
<line x1="597.80" y1="503.60" x2="597.80" y2="506.20" stroke="#1a1a1a" stroke-width="0.90"/>
<line x1="626.20" y1="503.60" x2="626.20" y2="506.20" stroke="#1a1a1a" stroke-width="0.90"/>
<line x1="532.17" y1="503.60" x2="532.17" y2="505.00" stroke="#1a1a1a" stroke-width="0.70"/>
<line x1="550.77" y1="503.60" x2="550.77" y2="505.00" stroke="#1a1a1a" stroke-width="0.70"/>
<line x1="534.04" y1="503.60" x2="534.04" y2="505.00" stroke="#1a1a1a" stroke-width="0.70"/>
<line x1="552.54" y1="503.60" x2="552.54" y2="505.00" stroke="#1a1a1a" stroke-width="0.70"/>
<line x1="535.91" y1="503.60" x2="535.91" y2="505.00" stroke="#1a1a1a" stroke-width="0.70"/>
<line x1="554.31" y1="503.60" x2="554.31" y2="505.00" stroke="#1a1a1a" stroke-width="0.70"/>
<line x1="537.78" y1="503.60" x2="537.78" y2="505.00" stroke="#1a1a1a" stroke-width="0.70"/>
<line x1="556.08" y1="503.60" x2="556.08" y2="505.00" stroke="#1a1a1a" stroke-width="0.70"/>
<line x1="539.65" y1="503.60" x2="539.65" y2="505.00" stroke="#1a1a1a" stroke-width="0.70"/>
<line x1="557.85" y1="503.60" x2="557.85" y2="505.00" stroke="#1a1a1a" stroke-width="0.70"/>
<line x1="541.52" y1="503.60" x2="541.52" y2="505.00" stroke="#1a1a1a" stroke-width="0.70"/>
<line x1="559.62" y1="503.60" x2="559.62" y2="505.00" stroke="#1a1a1a" stroke-width="0.70"/>
<line x1="543.39" y1="503.60" x2="543.39" y2="505.00" stroke="#1a1a1a" stroke-width="0.70"/>
<line x1="561.39" y1="503.60" x2="561.39" y2="505.00" stroke="#1a1a1a" stroke-width="0.70"/>
<line x1="545.26" y1="503.60" x2="545.26" y2="505.00" stroke="#1a1a1a" stroke-width="0.70"/>
<line x1="563.16" y1="503.60" x2="563.16" y2="505.00" stroke="#1a1a1a" stroke-width="0.70"/>
<line x1="547.13" y1="503.60" x2="547.13" y2="505.00" stroke="#1a1a1a" stroke-width="0.70"/>
<line x1="564.93" y1="503.60" x2="564.93" y2="505.00" stroke="#1a1a1a" stroke-width="0.70"/>
<line x1="576.06" y1="503.60" x2="576.06" y2="505.00" stroke="#1a1a1a" stroke-width="0.70"/>
<line x1="581.54" y1="503.60" x2="581.54" y2="505.00" stroke="#1a1a1a" stroke-width="0.70"/>
<line x1="585.42" y1="503.60" x2="585.42" y2="505.00" stroke="#1a1a1a" stroke-width="0.70"/>
<line x1="588.44" y1="503.60" x2="588.44" y2="505.00" stroke="#1a1a1a" stroke-width="0.70"/>
<line x1="590.90" y1="503.60" x2="590.90" y2="505.00" stroke="#1a1a1a" stroke-width="0.70"/>
<line x1="592.98" y1="503.60" x2="592.98" y2="505.00" stroke="#1a1a1a" stroke-width="0.70"/>
<line x1="594.79" y1="503.60" x2="594.79" y2="505.00" stroke="#1a1a1a" stroke-width="0.70"/>
<line x1="596.38" y1="503.60" x2="596.38" y2="505.00" stroke="#1a1a1a" stroke-width="0.70"/>
<line x1="606.35" y1="503.60" x2="606.35" y2="505.00" stroke="#1a1a1a" stroke-width="0.70"/>
<line x1="611.35" y1="503.60" x2="611.35" y2="505.00" stroke="#1a1a1a" stroke-width="0.70"/>
<line x1="614.90" y1="503.60" x2="614.90" y2="505.00" stroke="#1a1a1a" stroke-width="0.70"/>
<line x1="617.65" y1="503.60" x2="617.65" y2="505.00" stroke="#1a1a1a" stroke-width="0.70"/>
<line x1="619.90" y1="503.60" x2="619.90" y2="505.00" stroke="#1a1a1a" stroke-width="0.70"/>
<line x1="621.80" y1="503.60" x2="621.80" y2="505.00" stroke="#1a1a1a" stroke-width="0.70"/>
<line x1="623.45" y1="503.60" x2="623.45" y2="505.00" stroke="#1a1a1a" stroke-width="0.70"/>
<line x1="624.90" y1="503.60" x2="624.90" y2="505.00" stroke="#1a1a1a" stroke-width="0.70"/>
<line x1="634.75" y1="503.60" x2="634.75" y2="505.00" stroke="#1a1a1a" stroke-width="0.70"/>
<text transform="translate(530.30 513.98) scale(1.140 1)" font-size="6.90" text-anchor="middle" fill="#1a1a1a">-10</text>
<text transform="translate(535.47 509.30) scale(1.140 1)" font-size="5.00" text-anchor="start" fill="#1a1a1a">3</text>
<text transform="translate(549.00 513.98) scale(1.140 1)" font-size="6.90" text-anchor="middle" fill="#1a1a1a">0</text>
<text transform="translate(566.70 513.98) scale(1.140 1)" font-size="6.90" text-anchor="middle" fill="#1a1a1a">10</text>
<text transform="translate(571.67 509.30) scale(1.140 1)" font-size="5.00" text-anchor="start" fill="#1a1a1a">3</text>
<text transform="translate(597.80 513.98) scale(1.140 1)" font-size="6.90" text-anchor="middle" fill="#1a1a1a">10</text>
<text transform="translate(602.77 509.30) scale(1.140 1)" font-size="5.00" text-anchor="start" fill="#1a1a1a">4</text>
<text transform="translate(626.20 513.98) scale(1.140 1)" font-size="6.90" text-anchor="middle" fill="#1a1a1a">10</text>
<text transform="translate(631.17 509.30) scale(1.140 1)" font-size="5.00" text-anchor="start" fill="#1a1a1a">5</text>
<text transform="translate(495.00 446.60) rotate(-90) scale(1 1.220)" x="0" y="2.38" font-size="6.60" text-anchor="middle" fill="#1a1a1a">FSC-H</text>
<text transform="translate(582.30 526.12) scale(1.140 1)" font-size="7.00" text-anchor="middle" fill="#1a1a1a">CD45 (BUV805)</text>
<line x1="637.00" y1="442.70" x2="649.90" y2="442.70" stroke="#333" stroke-width="0.90"/>
<polygon points="649.10,438.70 654.10,442.70 649.10,446.70" fill="#111"/>
<path d="M751 418.5h8M760 418.5h3M749 419.5h16M747 420.5h18M766 420.5h1M745 421.5h24M744 422.5h26M743 423.5h28M742 424.5h30M741 425.5h32M740 426.5h34M739 427.5h36M738 428.5h38M738 429.5h38M737 430.5h40M737 431.5h40M736 432.5h42M736 433.5h42M735 434.5h42M778 434.5h1M735 435.5h44M735 436.5h44M734 437.5h45M734 438.5h46M734 439.5h46M734 440.5h46M733 441.5h47M733 442.5h47M733 443.5h47M733 444.5h47M733 445.5h47M733 446.5h2M736 446.5h44M733 447.5h47M733 448.5h47M733 449.5h47M733 450.5h47M734 451.5h46M735 452.5h45M735 453.5h44M734 454.5h45M735 455.5h44M735 456.5h44M735 457.5h43M736 458.5h42M736 459.5h41M737 460.5h39M737 461.5h39M738 462.5h38M739 463.5h36M739 464.5h35M740 465.5h33M741 466.5h31M742 467.5h29M743 468.5h27M745 469.5h24M746 470.5h21M748 471.5h17M751 472.5h12" stroke="#2352ee" stroke-width="1" fill="none" shape-rendering="crispEdges"/>
<path d="M752 415.5h2M756 415.5h1M759 415.5h2M749 416.5h15M747 417.5h10M758 417.5h9M745 418.5h6M763 418.5h6M743 419.5h6M765 419.5h5M742 420.5h1M744 420.5h3M767 420.5h3M771 420.5h1M741 421.5h4M769 421.5h1M771 421.5h2M740 422.5h4M770 422.5h4M739 423.5h4M771 423.5h4M738 424.5h4M772 424.5h4M737 425.5h4M773 425.5h3M737 426.5h1M739 426.5h1M775 426.5h2M737 427.5h2M775 427.5h3M735 428.5h1M737 428.5h1M776 428.5h2M735 429.5h3M776 429.5h3M734 430.5h3M777 430.5h1M735 431.5h2M777 431.5h3M733 432.5h3M778 432.5h2M734 433.5h2M778 433.5h3M734 434.5h1M779 434.5h2M733 435.5h2M779 435.5h2M732 436.5h3M779 436.5h2M732 437.5h2M779 437.5h3M731 438.5h1M733 438.5h1M780 438.5h2M732 439.5h2M780 439.5h2M731 440.5h3M780 440.5h2M731 441.5h1M780 441.5h3M731 442.5h1M780 442.5h3M731 443.5h2M780 443.5h1M782 443.5h1M732 444.5h1M780 444.5h3M731 445.5h2M780 445.5h2M731 446.5h2M780 446.5h2M730 447.5h3M780 447.5h3M732 448.5h1M780 448.5h3M731 449.5h1M780 449.5h3M731 450.5h2M780 450.5h1M731 451.5h3M781 451.5h1M731 452.5h3M780 452.5h1M732 453.5h2M779 453.5h3M731 454.5h3M779 454.5h2M733 455.5h2M779 455.5h2M732 456.5h3M780 456.5h1M732 457.5h3M778 457.5h3M733 458.5h3M778 458.5h2M733 459.5h1M735 459.5h1M777 459.5h3M734 460.5h3M777 460.5h2M734 461.5h3M776 461.5h3M735 462.5h3M776 462.5h2M735 463.5h4M776 463.5h2M736 464.5h3M774 464.5h3M739 465.5h1M773 465.5h4M739 466.5h2M772 466.5h4M738 467.5h1M740 467.5h2M771 467.5h3M739 468.5h1M741 468.5h1M770 468.5h4M740 469.5h1M742 469.5h2M769 469.5h4M744 470.5h2M767 470.5h5M744 471.5h4M766 471.5h5M744 472.5h1M746 472.5h5M763 472.5h1M766 472.5h3M706 473.5h5M746 473.5h2M749 473.5h18M702 474.5h2M705 474.5h1M707 474.5h2M711 474.5h2M749 474.5h4M754 474.5h8M763 474.5h2M698 475.5h11M710 475.5h1M751 475.5h8M760 475.5h2M696 476.5h8M705 476.5h7M694 477.5h16M693 478.5h6M700 478.5h5M706 478.5h2M692 479.5h5M698 479.5h2M701 479.5h4M692 480.5h2M695 480.5h7" stroke="#3c66ef" stroke-width="1" fill="none" shape-rendering="crispEdges"/>
<path d="M752 413.5h1M754 413.5h1M761 413.5h1M749 414.5h3M753 414.5h5M759 414.5h1M761 414.5h2M764 414.5h1M747 415.5h5M763 415.5h1M765 415.5h3M745 416.5h1M747 416.5h2M765 416.5h2M769 416.5h1M745 417.5h2M767 417.5h1M770 417.5h1M743 418.5h2M769 418.5h1M771 418.5h1M740 419.5h3M773 419.5h1M741 420.5h1M740 421.5h1M773 421.5h1M739 422.5h1M774 422.5h1M776 423.5h1M737 424.5h1M776 424.5h2M736 425.5h1M776 425.5h3M736 426.5h1M777 426.5h1M734 427.5h2M778 427.5h1M734 428.5h1M779 428.5h1M733 429.5h2M779 429.5h1M779 430.5h2M732 431.5h1M780 431.5h1M731 432.5h2M780 432.5h1M731 433.5h1M781 433.5h2M730 436.5h1M729 437.5h3M782 437.5h1M729 438.5h2M782 438.5h1M729 439.5h1M782 439.5h2M730 440.5h1M782 440.5h2M729 442.5h2M783 442.5h1M729 443.5h1M783 443.5h1M727 444.5h2M784 444.5h1M727 445.5h1M729 445.5h2M783 446.5h1M728 447.5h2M783 447.5h1M729 448.5h1M726 449.5h1M728 449.5h3M727 450.5h3M782 450.5h1M727 451.5h1M729 451.5h1M782 451.5h1M725 452.5h1M727 452.5h1M729 452.5h2M782 452.5h2M725 453.5h2M728 453.5h2M726 454.5h2M729 454.5h1M782 454.5h1M724 455.5h1M730 455.5h2M728 456.5h1M781 456.5h1M728 457.5h1M731 457.5h1M726 458.5h1M728 458.5h4M780 458.5h2M725 459.5h1M727 459.5h1M730 459.5h3M780 459.5h1M727 460.5h1M729 460.5h2M732 460.5h2M779 460.5h1M729 461.5h2M733 461.5h1M779 461.5h2M730 462.5h1M732 462.5h3M779 462.5h2M731 463.5h1M733 463.5h2M778 463.5h2M735 464.5h1M778 464.5h1M734 465.5h1M736 465.5h1M777 465.5h2M735 466.5h1M737 466.5h1M776 466.5h2M735 467.5h3M775 467.5h1M736 468.5h3M775 468.5h2M715 469.5h1M738 469.5h2M775 469.5h1M707 470.5h1M709 470.5h1M714 470.5h2M718 470.5h2M738 470.5h2M741 470.5h1M773 470.5h1M703 471.5h1M705 471.5h1M708 471.5h2M712 471.5h1M714 471.5h1M716 471.5h2M719 471.5h2M742 471.5h1M700 472.5h1M702 472.5h1M708 472.5h1M710 472.5h1M712 472.5h3M717 472.5h1M719 472.5h1M741 472.5h3M769 472.5h1M701 473.5h2M704 473.5h2M711 473.5h5M717 473.5h1M719 473.5h1M743 473.5h2M767 473.5h1M697 474.5h2M700 474.5h1M713 474.5h1M717 474.5h1M747 474.5h1M765 474.5h3M769 474.5h1M693 475.5h1M695 475.5h3M712 475.5h4M718 475.5h1M748 475.5h3M762 475.5h3M767 475.5h1M693 476.5h3M713 476.5h1M715 476.5h2M748 476.5h2M751 476.5h2M754 476.5h1M756 476.5h1M759 476.5h2M763 476.5h1M765 476.5h1M691 477.5h2M710 477.5h1M714 477.5h1M752 477.5h5M758 477.5h1M689 478.5h4M708 478.5h1M712 478.5h2M690 479.5h2M706 479.5h1M708 479.5h1M711 479.5h1M688 480.5h1M690 480.5h2M702 480.5h1M704 480.5h5M686 481.5h1M688 481.5h1M691 481.5h1M693 481.5h1M695 481.5h7M704 481.5h1M706 481.5h1M690 482.5h7M698 482.5h2M701 482.5h2M689 483.5h1M693 483.5h1" stroke="#7190f2" stroke-width="1" fill="none" shape-rendering="crispEdges"/>
<path d="M772 391.5h1M765 395.5h1M781 404.5h1M690 409.5h1M725 409.5h1M752 409.5h1M755 409.5h1M762 409.5h1M749 410.5h1M758 410.5h1M761 410.5h1M752 412.5h1M761 412.5h2M766 412.5h1M742 413.5h1M746 413.5h1M762 413.5h1M746 414.5h2M765 414.5h2M735 415.5h1M741 415.5h1M745 415.5h1M768 415.5h1M722 416.5h1M739 416.5h1M743 416.5h1M708 417.5h1M740 417.5h1M773 417.5h1M738 418.5h1M740 418.5h1M690 419.5h1M736 419.5h1M731 420.5h1M777 421.5h1M778 422.5h2M720 423.5h1M727 423.5h1M736 423.5h1M717 425.5h1M731 425.5h1M779 425.5h1M783 426.5h1M730 427.5h1M710 428.5h1M723 428.5h1M730 428.5h2M781 428.5h1M720 429.5h1M727 429.5h1M722 430.5h1M783 430.5h1M731 431.5h1M782 431.5h1M723 432.5h2M693 433.5h1M719 433.5h1M721 433.5h1M723 433.5h1M791 434.5h1M723 435.5h1M727 435.5h1M784 435.5h1M723 436.5h1M729 436.5h1M785 436.5h1M716 437.5h1M718 437.5h1M727 437.5h2M728 438.5h1M785 438.5h1M687 439.5h1M710 439.5h1M707 440.5h1M716 440.5h1M720 440.5h1M726 440.5h1M784 440.5h1M706 441.5h1M720 441.5h1M707 442.5h1M720 442.5h1M723 442.5h4M785 442.5h1M681 443.5h1M711 443.5h1M719 443.5h1M722 443.5h3M698 444.5h1M702 444.5h1M712 444.5h1M718 444.5h1M722 444.5h1M725 444.5h2M786 444.5h1M711 445.5h2M725 445.5h2M695 446.5h1M702 446.5h1M714 446.5h1M724 446.5h1M787 446.5h1M698 447.5h1M710 447.5h1M703 448.5h1M709 448.5h1M714 448.5h2M717 448.5h1M723 448.5h1M725 448.5h1M707 449.5h2M715 449.5h1M718 449.5h1M721 449.5h1M724 449.5h1M784 449.5h1M703 450.5h1M706 450.5h1M718 450.5h1M721 450.5h3M699 451.5h1M710 451.5h1M712 451.5h1M700 452.5h1M710 452.5h2M715 452.5h2M704 453.5h1M711 453.5h1M714 453.5h1M717 453.5h1M720 453.5h2M723 453.5h2M692 454.5h1M696 454.5h1M701 454.5h1M706 454.5h1M713 454.5h1M722 454.5h1M707 455.5h1M712 455.5h1M717 455.5h1M720 455.5h1M723 455.5h1M785 455.5h1M713 456.5h1M783 456.5h1M702 457.5h1M712 457.5h1M720 457.5h3M688 458.5h1M693 458.5h1M700 458.5h2M710 458.5h1M712 458.5h1M714 458.5h1M722 458.5h1M724 458.5h1M787 458.5h1M706 459.5h2M710 459.5h1M712 459.5h2M715 459.5h1M719 459.5h1M721 459.5h1M784 459.5h1M691 460.5h1M694 460.5h1M706 460.5h1M718 460.5h2M721 460.5h1M726 460.5h1M691 461.5h1M703 461.5h1M716 461.5h1M722 461.5h1M692 462.5h1M694 462.5h1M703 462.5h1M706 462.5h1M713 462.5h1M715 462.5h1M717 462.5h1M720 462.5h1M725 462.5h1M727 462.5h1M729 462.5h1M702 463.5h1M705 463.5h1M717 463.5h1M720 463.5h5M728 463.5h2M691 464.5h1M701 464.5h1M715 464.5h2M719 464.5h2M731 464.5h1M688 465.5h2M696 465.5h1M704 465.5h3M714 465.5h1M716 465.5h2M719 465.5h1M722 465.5h1M727 465.5h4M779 465.5h1M698 466.5h1M701 466.5h1M710 466.5h1M713 466.5h1M716 466.5h2M722 466.5h2M728 466.5h1M730 466.5h1M732 466.5h1M778 466.5h1M694 467.5h1M705 467.5h1M710 467.5h1M715 467.5h1M717 467.5h1M721 467.5h1M728 467.5h1M730 467.5h1M732 467.5h2M778 467.5h1M780 467.5h1M685 468.5h1M687 468.5h1M690 468.5h1M699 468.5h1M701 468.5h1M703 468.5h1M710 468.5h1M712 468.5h2M716 468.5h1M722 468.5h1M724 468.5h1M729 468.5h1M777 468.5h1M779 468.5h1M694 469.5h1M696 469.5h1M700 469.5h3M705 469.5h1M707 469.5h1M710 469.5h1M712 469.5h1M717 469.5h1M720 469.5h1M724 469.5h1M726 469.5h1M728 469.5h1M691 470.5h2M700 470.5h1M705 470.5h2M720 470.5h1M722 470.5h1M729 470.5h1M733 470.5h1M736 470.5h1M775 470.5h1M683 471.5h1M688 471.5h1M694 471.5h1M698 471.5h2M723 471.5h1M730 471.5h1M736 471.5h2M687 472.5h1M693 472.5h1M697 472.5h1M721 472.5h1M723 472.5h1M727 472.5h1M729 472.5h1M731 472.5h1M773 472.5h1M776 472.5h1M696 473.5h1M721 473.5h1M726 473.5h1M731 473.5h1M734 473.5h2M740 473.5h1M691 474.5h1M720 474.5h3M733 474.5h2M736 474.5h1M743 474.5h1M692 475.5h1M719 475.5h3M723 475.5h1M728 475.5h1M732 475.5h1M740 475.5h1M745 475.5h1M686 476.5h1M688 476.5h2M717 476.5h1M734 476.5h1M746 476.5h1M767 476.5h1M769 476.5h1M718 477.5h1M720 477.5h1M734 477.5h1M739 477.5h1M743 477.5h1M745 477.5h1M750 477.5h1M764 477.5h1M685 478.5h1M718 478.5h1M721 478.5h2M744 478.5h2M754 478.5h1M756 478.5h1M759 478.5h1M761 478.5h1M764 478.5h1M713 479.5h2M725 479.5h1M752 479.5h2M756 479.5h1M682 480.5h1M721 480.5h1M724 480.5h1M728 480.5h1M736 480.5h1M750 480.5h1M755 480.5h1M757 480.5h1M764 480.5h1M682 481.5h1M684 481.5h1M712 481.5h1M715 481.5h1M717 481.5h1M725 481.5h1M734 481.5h2M739 481.5h1M752 481.5h1M758 481.5h1M761 481.5h1M681 482.5h1M685 482.5h1M705 482.5h2M714 482.5h1M717 482.5h2M745 482.5h1M758 482.5h2M682 483.5h1M700 483.5h1M703 483.5h2M706 483.5h1M711 483.5h1M714 483.5h1M692 484.5h1M694 484.5h1M696 484.5h1M698 484.5h1M701 484.5h1M705 484.5h1M709 484.5h1M711 484.5h1M721 484.5h1M687 485.5h1M704 485.5h1M687 486.5h1M700 486.5h1M704 486.5h2M698 487.5h1M703 487.5h2M708 487.5h1M712 487.5h1M718 487.5h1M688 488.5h1M703 488.5h1M691 489.5h1M704 489.5h1M711 489.5h1M714 489.5h1M768 489.5h1M781 489.5h1M689 490.5h1M707 490.5h1M698 491.5h1M702 491.5h1M723 491.5h1M687 492.5h1M700 492.5h1M708 492.5h1M699 494.5h1M774 494.5h1M689 495.5h1M702 495.5h1M788 496.5h1M699 497.5h1M700 498.5h1M682 499.5h1M712 500.5h1M696 501.5h1" stroke="#b0bdf4" stroke-width="1" fill="none" shape-rendering="crispEdges"/>
<g filter="url(#hb)" transform="rotate(0.0 756.40 443.60)">
<ellipse cx="756.40" cy="443.60" rx="10.00" ry="19.00" fill="#2f6cf4"/>
<ellipse cx="756.40" cy="443.60" rx="8.20" ry="16.50" fill="#38d8f0"/>
<ellipse cx="756.40" cy="443.60" rx="7.00" ry="14.80" fill="#3fe04a"/>
<ellipse cx="756.40" cy="443.60" rx="4.20" ry="8.80" fill="#c8ec30"/>
<ellipse cx="756.40" cy="443.60" rx="3.20" ry="7.00" fill="#e8f028"/>
<ellipse cx="756.40" cy="443.60" rx="2.50" ry="5.50" fill="#f8a020"/>
<ellipse cx="756.40" cy="443.60" rx="1.80" ry="4.20" fill="#f21818"/>
</g>
<rect x="680.40" y="389.30" width="115.60" height="114.90" fill="none" stroke="#1a1a1a" stroke-width="1.15"/>
<polygon points="736.2,409.2 782.8,409.2 782.4,470.1 762.3,478.2 726.8,460.1 726.2,429.2" fill="none" stroke="#222" stroke-width="1.05" stroke-linejoin="miter"/>
<text transform="translate(762.30 406.78) scale(1.140 1)" font-size="6.90" text-anchor="middle" fill="#1a1a1a">99.4%</text>
<line x1="677.80" y1="496.30" x2="680.40" y2="496.30" stroke="#1a1a1a" stroke-width="0.90"/>
<line x1="677.80" y1="478.20" x2="680.40" y2="478.20" stroke="#1a1a1a" stroke-width="0.90"/>
<line x1="677.80" y1="458.90" x2="680.40" y2="458.90" stroke="#1a1a1a" stroke-width="0.90"/>
<line x1="677.80" y1="427.70" x2="680.40" y2="427.70" stroke="#1a1a1a" stroke-width="0.90"/>
<line x1="677.80" y1="399.80" x2="680.40" y2="399.80" stroke="#1a1a1a" stroke-width="0.90"/>
<line x1="679.00" y1="449.51" x2="680.40" y2="449.51" stroke="#1a1a1a" stroke-width="0.70"/>
<line x1="679.00" y1="444.01" x2="680.40" y2="444.01" stroke="#1a1a1a" stroke-width="0.70"/>
<line x1="679.00" y1="440.12" x2="680.40" y2="440.12" stroke="#1a1a1a" stroke-width="0.70"/>
<line x1="679.00" y1="437.09" x2="680.40" y2="437.09" stroke="#1a1a1a" stroke-width="0.70"/>
<line x1="679.00" y1="434.62" x2="680.40" y2="434.62" stroke="#1a1a1a" stroke-width="0.70"/>
<line x1="679.00" y1="432.53" x2="680.40" y2="432.53" stroke="#1a1a1a" stroke-width="0.70"/>
<line x1="679.00" y1="430.72" x2="680.40" y2="430.72" stroke="#1a1a1a" stroke-width="0.70"/>
<line x1="679.00" y1="429.13" x2="680.40" y2="429.13" stroke="#1a1a1a" stroke-width="0.70"/>
<line x1="679.00" y1="419.30" x2="680.40" y2="419.30" stroke="#1a1a1a" stroke-width="0.70"/>
<line x1="679.00" y1="414.39" x2="680.40" y2="414.39" stroke="#1a1a1a" stroke-width="0.70"/>
<line x1="679.00" y1="410.90" x2="680.40" y2="410.90" stroke="#1a1a1a" stroke-width="0.70"/>
<line x1="679.00" y1="408.20" x2="680.40" y2="408.20" stroke="#1a1a1a" stroke-width="0.70"/>
<line x1="679.00" y1="405.99" x2="680.40" y2="405.99" stroke="#1a1a1a" stroke-width="0.70"/>
<line x1="679.00" y1="404.12" x2="680.40" y2="404.12" stroke="#1a1a1a" stroke-width="0.70"/>
<line x1="679.00" y1="402.50" x2="680.40" y2="402.50" stroke="#1a1a1a" stroke-width="0.70"/>
<line x1="679.00" y1="401.08" x2="680.40" y2="401.08" stroke="#1a1a1a" stroke-width="0.70"/>
<line x1="679.00" y1="480.01" x2="680.40" y2="480.01" stroke="#1a1a1a" stroke-width="0.70"/>
<line x1="679.00" y1="476.27" x2="680.40" y2="476.27" stroke="#1a1a1a" stroke-width="0.70"/>
<line x1="679.00" y1="481.82" x2="680.40" y2="481.82" stroke="#1a1a1a" stroke-width="0.70"/>
<line x1="679.00" y1="474.34" x2="680.40" y2="474.34" stroke="#1a1a1a" stroke-width="0.70"/>
<line x1="679.00" y1="483.63" x2="680.40" y2="483.63" stroke="#1a1a1a" stroke-width="0.70"/>
<line x1="679.00" y1="472.41" x2="680.40" y2="472.41" stroke="#1a1a1a" stroke-width="0.70"/>
<line x1="679.00" y1="485.44" x2="680.40" y2="485.44" stroke="#1a1a1a" stroke-width="0.70"/>
<line x1="679.00" y1="470.48" x2="680.40" y2="470.48" stroke="#1a1a1a" stroke-width="0.70"/>
<line x1="679.00" y1="487.25" x2="680.40" y2="487.25" stroke="#1a1a1a" stroke-width="0.70"/>
<line x1="679.00" y1="468.55" x2="680.40" y2="468.55" stroke="#1a1a1a" stroke-width="0.70"/>
<line x1="679.00" y1="489.06" x2="680.40" y2="489.06" stroke="#1a1a1a" stroke-width="0.70"/>
<line x1="679.00" y1="466.62" x2="680.40" y2="466.62" stroke="#1a1a1a" stroke-width="0.70"/>
<line x1="679.00" y1="490.87" x2="680.40" y2="490.87" stroke="#1a1a1a" stroke-width="0.70"/>
<line x1="679.00" y1="464.69" x2="680.40" y2="464.69" stroke="#1a1a1a" stroke-width="0.70"/>
<line x1="679.00" y1="492.68" x2="680.40" y2="492.68" stroke="#1a1a1a" stroke-width="0.70"/>
<line x1="679.00" y1="462.76" x2="680.40" y2="462.76" stroke="#1a1a1a" stroke-width="0.70"/>
<line x1="679.00" y1="494.49" x2="680.40" y2="494.49" stroke="#1a1a1a" stroke-width="0.70"/>
<line x1="679.00" y1="460.83" x2="680.40" y2="460.83" stroke="#1a1a1a" stroke-width="0.70"/>
<text transform="translate(675.00 402.88) scale(1.140 1)" font-size="6.90" text-anchor="end" fill="#1a1a1a">10</text>
<text x="675.6" y="396.6" font-size="5.4" fill="#1a1a1a">5</text>
<text transform="translate(675.00 430.78) scale(1.140 1)" font-size="6.90" text-anchor="end" fill="#1a1a1a">10</text>
<text x="675.6" y="424.5" font-size="5.4" fill="#1a1a1a">4</text>
<text transform="translate(675.00 461.98) scale(1.140 1)" font-size="6.90" text-anchor="end" fill="#1a1a1a">10</text>
<text x="675.6" y="455.7" font-size="5.4" fill="#1a1a1a">3</text>
<text transform="translate(677.00 480.68) scale(1.140 1)" font-size="6.90" text-anchor="end" fill="#1a1a1a">0</text>
<text transform="translate(675.00 499.38) scale(1.140 1)" font-size="6.90" text-anchor="end" fill="#1a1a1a">-10</text>
<text x="675.6" y="493.1" font-size="5.4" fill="#1a1a1a">3</text>
<line x1="686.50" y1="504.20" x2="686.50" y2="506.80" stroke="#1a1a1a" stroke-width="0.90"/>
<line x1="709.80" y1="504.20" x2="709.80" y2="506.80" stroke="#1a1a1a" stroke-width="0.90"/>
<line x1="725.40" y1="504.20" x2="725.40" y2="506.80" stroke="#1a1a1a" stroke-width="0.90"/>
<line x1="757.00" y1="504.20" x2="757.00" y2="506.80" stroke="#1a1a1a" stroke-width="0.90"/>
<line x1="784.30" y1="504.20" x2="784.30" y2="506.80" stroke="#1a1a1a" stroke-width="0.90"/>
<line x1="688.83" y1="504.20" x2="688.83" y2="505.60" stroke="#1a1a1a" stroke-width="0.70"/>
<line x1="711.36" y1="504.20" x2="711.36" y2="505.60" stroke="#1a1a1a" stroke-width="0.70"/>
<line x1="691.16" y1="504.20" x2="691.16" y2="505.60" stroke="#1a1a1a" stroke-width="0.70"/>
<line x1="712.92" y1="504.20" x2="712.92" y2="505.60" stroke="#1a1a1a" stroke-width="0.70"/>
<line x1="693.49" y1="504.20" x2="693.49" y2="505.60" stroke="#1a1a1a" stroke-width="0.70"/>
<line x1="714.48" y1="504.20" x2="714.48" y2="505.60" stroke="#1a1a1a" stroke-width="0.70"/>
<line x1="695.82" y1="504.20" x2="695.82" y2="505.60" stroke="#1a1a1a" stroke-width="0.70"/>
<line x1="716.04" y1="504.20" x2="716.04" y2="505.60" stroke="#1a1a1a" stroke-width="0.70"/>
<line x1="698.15" y1="504.20" x2="698.15" y2="505.60" stroke="#1a1a1a" stroke-width="0.70"/>
<line x1="717.60" y1="504.20" x2="717.60" y2="505.60" stroke="#1a1a1a" stroke-width="0.70"/>
<line x1="700.48" y1="504.20" x2="700.48" y2="505.60" stroke="#1a1a1a" stroke-width="0.70"/>
<line x1="719.16" y1="504.20" x2="719.16" y2="505.60" stroke="#1a1a1a" stroke-width="0.70"/>
<line x1="702.81" y1="504.20" x2="702.81" y2="505.60" stroke="#1a1a1a" stroke-width="0.70"/>
<line x1="720.72" y1="504.20" x2="720.72" y2="505.60" stroke="#1a1a1a" stroke-width="0.70"/>
<line x1="705.14" y1="504.20" x2="705.14" y2="505.60" stroke="#1a1a1a" stroke-width="0.70"/>
<line x1="722.28" y1="504.20" x2="722.28" y2="505.60" stroke="#1a1a1a" stroke-width="0.70"/>
<line x1="707.47" y1="504.20" x2="707.47" y2="505.60" stroke="#1a1a1a" stroke-width="0.70"/>
<line x1="723.84" y1="504.20" x2="723.84" y2="505.60" stroke="#1a1a1a" stroke-width="0.70"/>
<line x1="734.91" y1="504.20" x2="734.91" y2="505.60" stroke="#1a1a1a" stroke-width="0.70"/>
<line x1="740.48" y1="504.20" x2="740.48" y2="505.60" stroke="#1a1a1a" stroke-width="0.70"/>
<line x1="744.43" y1="504.20" x2="744.43" y2="505.60" stroke="#1a1a1a" stroke-width="0.70"/>
<line x1="747.49" y1="504.20" x2="747.49" y2="505.60" stroke="#1a1a1a" stroke-width="0.70"/>
<line x1="749.99" y1="504.20" x2="749.99" y2="505.60" stroke="#1a1a1a" stroke-width="0.70"/>
<line x1="752.11" y1="504.20" x2="752.11" y2="505.60" stroke="#1a1a1a" stroke-width="0.70"/>
<line x1="753.94" y1="504.20" x2="753.94" y2="505.60" stroke="#1a1a1a" stroke-width="0.70"/>
<line x1="755.55" y1="504.20" x2="755.55" y2="505.60" stroke="#1a1a1a" stroke-width="0.70"/>
<line x1="765.22" y1="504.20" x2="765.22" y2="505.60" stroke="#1a1a1a" stroke-width="0.70"/>
<line x1="770.03" y1="504.20" x2="770.03" y2="505.60" stroke="#1a1a1a" stroke-width="0.70"/>
<line x1="773.44" y1="504.20" x2="773.44" y2="505.60" stroke="#1a1a1a" stroke-width="0.70"/>
<line x1="776.08" y1="504.20" x2="776.08" y2="505.60" stroke="#1a1a1a" stroke-width="0.70"/>
<line x1="778.24" y1="504.20" x2="778.24" y2="505.60" stroke="#1a1a1a" stroke-width="0.70"/>
<line x1="780.07" y1="504.20" x2="780.07" y2="505.60" stroke="#1a1a1a" stroke-width="0.70"/>
<line x1="781.65" y1="504.20" x2="781.65" y2="505.60" stroke="#1a1a1a" stroke-width="0.70"/>
<line x1="783.05" y1="504.20" x2="783.05" y2="505.60" stroke="#1a1a1a" stroke-width="0.70"/>
<line x1="792.52" y1="504.20" x2="792.52" y2="505.60" stroke="#1a1a1a" stroke-width="0.70"/>
<text transform="translate(686.50 513.98) scale(1.140 1)" font-size="6.90" text-anchor="middle" fill="#1a1a1a">-10</text>
<text transform="translate(691.67 509.30) scale(1.140 1)" font-size="5.00" text-anchor="start" fill="#1a1a1a">3</text>
<text transform="translate(709.80 513.98) scale(1.140 1)" font-size="6.90" text-anchor="middle" fill="#1a1a1a">0</text>
<text transform="translate(725.40 513.98) scale(1.140 1)" font-size="6.90" text-anchor="middle" fill="#1a1a1a">10</text>
<text transform="translate(730.37 509.30) scale(1.140 1)" font-size="5.00" text-anchor="start" fill="#1a1a1a">3</text>
<text transform="translate(757.00 513.98) scale(1.140 1)" font-size="6.90" text-anchor="middle" fill="#1a1a1a">10</text>
<text transform="translate(761.97 509.30) scale(1.140 1)" font-size="5.00" text-anchor="start" fill="#1a1a1a">4</text>
<text transform="translate(784.30 513.98) scale(1.140 1)" font-size="6.90" text-anchor="middle" fill="#1a1a1a">10</text>
<text transform="translate(789.27 509.30) scale(1.140 1)" font-size="5.00" text-anchor="start" fill="#1a1a1a">5</text>
<text transform="translate(659.60 444.00) rotate(-90) scale(1 1.100)" x="0" y="2.70" font-size="7.50" text-anchor="middle" fill="#1a1a1a">CD11b (BV786)</text>
<text transform="translate(742.30 525.72) scale(1.140 1)" font-size="7.00" text-anchor="middle" fill="#1a1a1a">Ly6G (BUV563)</text>
<rect x="382.8" y="504.6" width="4.6" height="2.4" fill="#111" opacity="0.85"/>
<rect x="545.2" y="504.4" width="4.6" height="2.4" fill="#111" opacity="0.85"/>
<rect x="703.6" y="504.6" width="4.4" height="2.0" fill="#111" opacity="0.85"/>
<rect x="677.6" y="475.8" width="2.6" height="3.4" fill="#111" opacity="0.85"/>
<rect x="444.5" y="345.8" width="12.0" height="1.6" fill="#111" opacity="0.55"/>
<rect x="608.8" y="346.0" width="7.5" height="1.6" fill="#111" opacity="0.60"/>
</svg>
</body></html>
